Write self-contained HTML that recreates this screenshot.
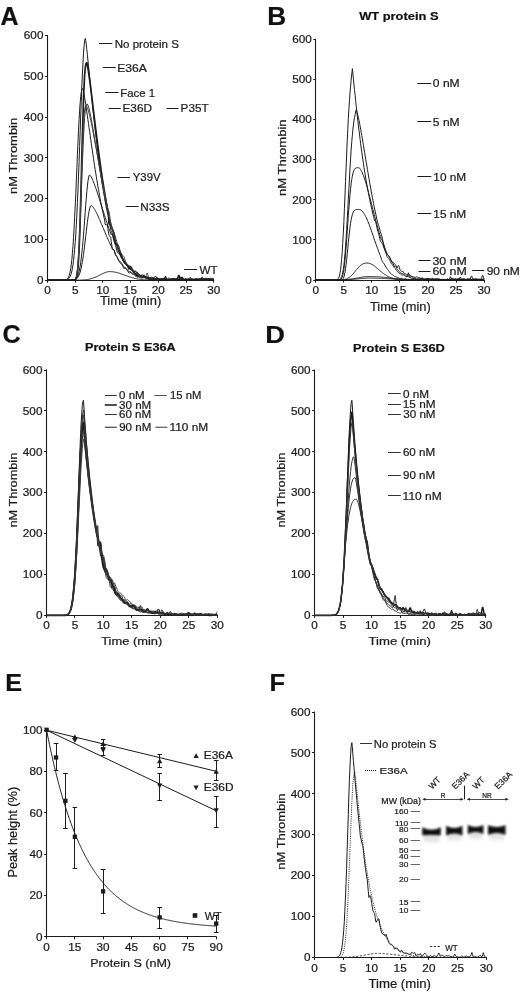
<!DOCTYPE html><html><head><meta charset="utf-8"><style>html,body{margin:0;padding:0;background:#fff;}svg{display:block;will-change:transform;}text{font-family:"Liberation Sans",sans-serif;stroke:#1c1c1c;stroke-width:0.22px;}</style></head><body>
<svg width="520" height="994" viewBox="0 0 520 994">
<rect width="520" height="994" fill="#fff"/>
<text transform="translate(0.62,25.00) scale(0.986,1)" font-size="25.36" font-weight="bold" fill="#111">A</text>
<text transform="translate(267.30,25.00) scale(1.034,1)" font-size="25.36" font-weight="bold" fill="#111">B</text>
<text transform="translate(2.49,343.25) scale(1.008,1)" font-size="25.00" font-weight="bold" fill="#111">C</text>
<text transform="translate(265.23,343.00) scale(1.122,1)" font-size="24.28" font-weight="bold" fill="#111">D</text>
<text transform="translate(5.36,691.25) scale(1.039,1)" font-size="24.28" font-weight="bold" fill="#111">E</text>
<text transform="translate(269.59,691.25) scale(1.050,1)" font-size="24.28" font-weight="bold" fill="#111">F</text>
<text transform="translate(359.20,20.40) scale(1.153,1)" font-size="11.16" font-weight="bold" fill="#111">WT protein S</text>
<text transform="translate(84.97,351.30) scale(1.152,1)" font-size="11.01" font-weight="bold" fill="#111">Protein S E36A</text>
<text transform="translate(353.07,351.90) scale(1.106,1)" font-size="11.59" font-weight="bold" fill="#111">Protein S E36D</text>
<line x1="47.50" y1="35.00" x2="47.50" y2="280.70" stroke="#1c1c1c" stroke-width="1.10"/>
<line x1="47.00" y1="280.50" x2="214.20" y2="280.50" stroke="#1c1c1c" stroke-width="1.10"/>
<line x1="45.00" y1="280.50" x2="47.50" y2="280.50" stroke="#1c1c1c" stroke-width="1.00"/>
<text transform="translate(36.89,283.90) scale(1.130,1)" font-size="10.40" fill="#1c1c1c">0</text>
<line x1="45.00" y1="239.50" x2="47.50" y2="239.50" stroke="#1c1c1c" stroke-width="1.00"/>
<text transform="translate(23.84,243.12) scale(1.130,1)" font-size="10.40" fill="#1c1c1c">100</text>
<line x1="45.00" y1="198.50" x2="47.50" y2="198.50" stroke="#1c1c1c" stroke-width="1.00"/>
<text transform="translate(23.84,202.33) scale(1.130,1)" font-size="10.40" fill="#1c1c1c">200</text>
<line x1="45.00" y1="157.50" x2="47.50" y2="157.50" stroke="#1c1c1c" stroke-width="1.00"/>
<text transform="translate(23.84,161.55) scale(1.130,1)" font-size="10.40" fill="#1c1c1c">300</text>
<line x1="45.00" y1="117.50" x2="47.50" y2="117.50" stroke="#1c1c1c" stroke-width="1.00"/>
<text transform="translate(23.84,120.77) scale(1.130,1)" font-size="10.40" fill="#1c1c1c">400</text>
<line x1="45.00" y1="76.50" x2="47.50" y2="76.50" stroke="#1c1c1c" stroke-width="1.00"/>
<text transform="translate(23.84,79.98) scale(1.130,1)" font-size="10.40" fill="#1c1c1c">500</text>
<line x1="45.00" y1="35.50" x2="47.50" y2="35.50" stroke="#1c1c1c" stroke-width="1.00"/>
<text transform="translate(23.84,39.20) scale(1.130,1)" font-size="10.40" fill="#1c1c1c">600</text>
<line x1="47.50" y1="280.20" x2="47.50" y2="282.70" stroke="#1c1c1c" stroke-width="1.00"/>
<text transform="translate(44.21,294.20) scale(1.130,1)" font-size="10.40" fill="#1c1c1c">0</text>
<line x1="75.50" y1="280.20" x2="75.50" y2="282.70" stroke="#1c1c1c" stroke-width="1.00"/>
<text transform="translate(71.94,294.20) scale(1.130,1)" font-size="10.40" fill="#1c1c1c">5</text>
<line x1="102.50" y1="280.20" x2="102.50" y2="282.70" stroke="#1c1c1c" stroke-width="1.00"/>
<text transform="translate(96.14,294.20) scale(1.130,1)" font-size="10.40" fill="#1c1c1c">10</text>
<line x1="130.50" y1="280.20" x2="130.50" y2="282.70" stroke="#1c1c1c" stroke-width="1.00"/>
<text transform="translate(123.87,294.20) scale(1.130,1)" font-size="10.40" fill="#1c1c1c">15</text>
<line x1="158.50" y1="280.20" x2="158.50" y2="282.70" stroke="#1c1c1c" stroke-width="1.00"/>
<text transform="translate(151.69,294.20) scale(1.130,1)" font-size="10.40" fill="#1c1c1c">20</text>
<line x1="186.50" y1="280.20" x2="186.50" y2="282.70" stroke="#1c1c1c" stroke-width="1.00"/>
<text transform="translate(179.42,294.20) scale(1.130,1)" font-size="10.40" fill="#1c1c1c">25</text>
<line x1="213.50" y1="280.20" x2="213.50" y2="282.70" stroke="#1c1c1c" stroke-width="1.00"/>
<text transform="translate(207.15,294.20) scale(1.130,1)" font-size="10.40" fill="#1c1c1c">30</text>
<text transform="translate(99.94,305.40) scale(1.090,1)" font-size="11.88" fill="#1c1c1c">Time (min)</text>
<text transform="translate(17.30,193.94) rotate(-90) scale(1.191,1)" font-size="10.90" fill="#1c1c1c">nM Thrombin</text>
<line x1="99.00" y1="43.50" x2="112.30" y2="43.50" stroke="#1c1c1c" stroke-width="1.00"/>
<text transform="translate(114.67,47.60) scale(1.023,1)" font-size="11.30" fill="#1c1c1c">No protein S</text>
<line x1="102.80" y1="67.50" x2="115.80" y2="67.50" stroke="#1c1c1c" stroke-width="1.00"/>
<text transform="translate(117.23,71.90) scale(1.074,1)" font-size="11.30" fill="#1c1c1c">E36A</text>
<line x1="105.40" y1="92.50" x2="118.50" y2="92.50" stroke="#1c1c1c" stroke-width="1.00"/>
<text transform="translate(120.19,97.30) scale(0.971,1)" font-size="11.74" fill="#1c1c1c">Face 1</text>
<line x1="108.80" y1="108.50" x2="120.80" y2="108.50" stroke="#1c1c1c" stroke-width="1.00"/>
<text transform="translate(122.45,112.30) scale(1.047,1)" font-size="11.30" fill="#1c1c1c">E36D</text>
<line x1="166.50" y1="108.50" x2="178.50" y2="108.50" stroke="#1c1c1c" stroke-width="1.00"/>
<text transform="translate(180.56,112.30) scale(1.043,1)" font-size="11.30" fill="#1c1c1c">P35T</text>
<line x1="117.40" y1="177.50" x2="130.00" y2="177.50" stroke="#1c1c1c" stroke-width="1.00"/>
<text transform="translate(132.72,181.20) scale(1.020,1)" font-size="11.16" fill="#1c1c1c">Y39V</text>
<line x1="125.70" y1="206.50" x2="138.50" y2="206.50" stroke="#1c1c1c" stroke-width="1.00"/>
<text transform="translate(140.26,210.80) scale(1.043,1)" font-size="11.30" fill="#1c1c1c">N33S</text>
<line x1="184.10" y1="269.50" x2="197.10" y2="269.50" stroke="#1c1c1c" stroke-width="1.00"/>
<text transform="translate(199.44,273.90) scale(0.991,1)" font-size="11.74" fill="#1c1c1c">WT</text>
<polyline points="47.5,280.2 48.1,280.2 48.6,280.2 49.2,280.2 49.7,280.2 50.3,280.2 50.8,280.2 51.4,280.2 51.9,280.2 52.5,280.2 53.0,280.2 53.6,280.2 54.1,280.2 54.7,280.2 55.3,280.2 55.8,280.2 56.4,280.2 56.9,280.2 57.5,280.2 58.0,280.2 58.6,280.2 59.1,280.2 59.7,280.2 60.2,280.2 60.8,280.2 61.4,280.2 61.9,280.2 62.5,280.2 63.0,280.2 63.6,280.2 64.1,280.1 64.7,280.1 65.2,280.0 65.8,280.0 66.3,279.8 66.9,279.7 67.4,279.4 68.0,279.1 68.6,278.7 69.1,278.1 69.7,277.3 70.2,276.3 70.8,274.9 71.3,273.2 71.9,271.0 72.4,268.2 73.0,264.8 73.5,260.6 74.1,255.5 74.6,249.5 75.2,242.5 75.8,234.3 76.3,224.9 76.9,214.4 77.4,202.7 78.0,189.9 78.5,176.2 79.1,161.7 79.6,146.6 80.2,131.3 80.7,116.0 81.3,101.1 81.8,87.0 82.4,74.1 83.0,62.7 83.5,53.2 84.1,45.9 84.6,40.9 85.2,38.6 85.4,38.4 85.7,40.3 86.3,44.7 86.8,49.6 87.4,54.7 87.9,60.1 88.5,65.5 89.0,71.0 89.6,76.6 90.2,82.1 90.7,87.6 91.3,93.1 91.8,98.5 92.4,103.9 92.9,109.1 93.5,114.4 94.0,119.5 94.6,124.5 95.1,129.5 95.7,134.3 96.3,139.1 96.8,143.7 97.4,148.3 97.9,152.7 98.5,157.0 99.0,161.3 99.6,165.4 100.1,169.4 100.7,173.3 101.2,177.1 101.8,180.8 102.3,184.4 102.9,187.9 103.5,191.3 104.0,194.6 104.6,197.8 105.1,201.0 105.7,204.0 106.2,206.9 106.8,209.7 107.3,212.5 107.9,214.0 108.4,216.3 109.0,218.5 109.5,222.5 110.1,226.2 110.7,229.8 111.2,231.2 111.8,232.7 112.3,234.1 112.9,236.5 113.4,238.8 114.0,241.0 114.5,242.6 115.1,244.1 115.6,245.5 116.2,247.9 116.8,250.1 117.3,252.2 117.9,252.8 118.4,253.4 119.0,254.0 119.5,254.2 120.1,254.4 120.6,254.7 121.2,256.1 121.7,257.5 122.3,258.9 122.8,260.1 123.4,261.3 124.0,262.6 124.5,263.3 125.1,264.0 125.6,264.6 126.2,265.2 126.7,265.8 127.3,266.3 127.8,266.0 128.4,265.6 128.9,265.2 129.5,266.5 130.0,267.8 130.6,269.1 131.2,269.8 131.7,270.5 132.3,271.1 132.8,271.6 133.4,272.1 133.9,272.6 134.5,273.0 135.0,273.3 135.6,273.6 136.1,273.8 136.7,273.9 137.2,274.1 137.8,274.6 138.4,275.2 138.9,275.8 139.5,276.0 140.0,276.2 140.6,276.3 141.1,276.1 141.7,275.9 142.2,275.7 142.8,276.2 143.3,276.7 143.9,277.2 144.4,277.3 145.0,277.4 145.6,277.4 146.1,277.5 146.7,277.5 147.2,277.6 147.8,277.7 148.3,277.7 148.9,277.8 149.4,278.1 150.0,278.3 150.5,278.6 151.1,278.4 151.7,278.1 152.2,277.9 152.8,277.9 153.3,278.0 153.9,278.0 154.4,277.3 155.0,276.6 155.5,275.9 156.1,277.0 156.6,278.0 157.2,279.0 157.7,279.2 158.3,279.4 158.9,279.7 159.4,279.3 160.0,278.9 160.5,278.5 161.1,278.9 161.6,279.3 162.2,279.6 162.7,279.6 163.3,279.6 163.8,279.6 164.4,278.4 164.9,277.2 165.5,276.0 166.1,277.1 166.6,278.3 167.2,279.4 167.7,279.4 168.3,279.5 168.8,279.5 169.4,279.7 169.9,279.8 170.5,280.0 171.0,279.7 171.6,279.4 172.1,279.0 172.7,279.1 173.3,279.1 173.8,279.2 174.4,279.3 174.9,279.4 175.5,279.5 176.0,279.6 176.6,279.8 177.1,279.9 177.7,279.7 178.2,279.5 178.8,279.3 179.4,279.4 179.9,279.4 180.5,279.5 181.0,279.4 181.6,279.3 182.1,279.3 182.7,279.4 183.2,279.6 183.8,279.7 184.3,279.6 184.9,279.5 185.4,279.4 186.0,279.4 186.6,279.3 187.1,279.3 187.7,279.4 188.2,279.6 188.8,279.7 189.3,279.7 189.9,279.7 190.4,279.7 191.0,279.3 191.5,279.0 192.1,278.6 192.6,279.1 193.2,279.5 193.8,280.0 194.3,279.8 194.9,279.6 195.4,279.4 196.0,279.5 196.5,279.5 197.1,279.6 197.6,279.5 198.2,279.4 198.7,279.3 199.3,279.4 199.8,279.4 200.4,279.4 201.0,279.6 201.5,279.8 202.1,280.0 202.6,280.1 203.2,280.1 203.7,280.2 204.3,280.1 204.8,279.9 205.4,279.8 205.9,279.7 206.5,279.5 207.1,279.4 207.6,279.4 208.2,279.5 208.7,279.5 209.3,279.6 209.8,279.7 210.4,279.8 210.9,279.9 211.5,280.0 212.0,280.1 212.6,279.7 213.1,279.4 213.7,279.1" fill="none" stroke="#1c1c1c" stroke-width="1.00" stroke-linejoin="round"/>
<polyline points="47.5,280.2 48.1,280.2 48.6,280.2 49.2,280.2 49.7,280.2 50.3,280.2 50.8,280.2 51.4,280.2 51.9,280.2 52.5,280.2 53.0,280.2 53.6,280.2 54.1,280.2 54.7,280.2 55.3,280.2 55.8,280.2 56.4,280.2 56.9,280.2 57.5,280.2 58.0,280.2 58.6,280.2 59.1,280.2 59.7,280.2 60.2,280.2 60.8,280.2 61.4,280.2 61.9,280.2 62.5,280.2 63.0,280.2 63.6,280.2 64.1,280.2 64.7,280.2 65.2,280.2 65.8,280.2 66.3,280.2 66.9,280.2 67.4,280.2 68.0,280.2 68.6,280.2 69.1,280.2 69.7,280.2 70.2,280.2 70.8,280.2 71.3,280.2 71.9,280.2 72.4,280.2 73.0,280.2 73.5,280.2 74.1,280.1 74.6,280.0 75.2,279.7 75.8,279.2 76.3,278.1 76.9,276.1 77.4,272.8 78.0,267.7 78.5,260.1 79.1,249.7 79.6,236.2 80.2,219.5 80.7,200.2 81.3,179.1 81.8,157.3 82.4,135.9 83.0,116.3 83.5,99.2 84.1,85.5 84.6,75.3 85.2,68.5 85.7,64.7 86.3,63.1 86.8,62.8 87.4,65.0 87.9,68.0 88.5,71.6 89.0,75.4 89.6,79.5 90.2,83.7 90.7,88.1 91.3,92.5 91.8,97.1 92.4,101.6 92.9,106.2 93.5,110.8 94.0,115.4 94.6,120.0 95.1,124.5 95.7,129.0 96.3,133.5 96.8,137.9 97.4,142.3 97.9,146.6 98.5,150.8 99.0,155.0 99.6,159.1 100.1,163.1 100.7,167.0 101.2,170.9 101.8,174.7 102.3,178.4 102.9,182.0 103.5,185.5 104.0,188.9 104.6,192.3 105.1,195.5 105.7,198.7 106.2,201.8 106.8,204.8 107.3,207.7 107.9,210.5 108.4,213.3 109.0,223.6 109.5,224.0 110.1,224.6 110.7,225.2 111.2,226.5 111.8,227.8 112.3,229.1 112.9,230.3 113.4,231.6 114.0,233.0 114.5,236.9 115.1,240.6 115.6,244.1 116.2,244.1 116.8,244.2 117.3,244.3 117.9,246.1 118.4,247.8 119.0,249.4 119.5,251.6 120.1,253.7 120.6,255.6 121.2,256.6 121.7,257.5 122.3,258.4 122.8,259.5 123.4,260.5 124.0,261.4 124.5,262.0 125.1,262.6 125.6,263.1 126.2,263.7 126.7,264.3 127.3,264.8 127.8,266.2 128.4,267.6 128.9,268.9 129.5,268.2 130.0,267.5 130.6,266.7 131.2,267.6 131.7,268.5 132.3,269.3 132.8,270.1 133.4,271.0 133.9,271.9 134.5,272.7 135.0,273.4 135.6,274.1 136.1,274.7 136.7,275.2 137.2,275.7 137.8,275.8 138.4,276.0 138.9,276.1 139.5,276.0 140.0,275.9 140.6,275.9 141.1,276.2 141.7,276.6 142.2,276.9 142.8,277.0 143.3,277.2 143.9,277.3 144.4,277.3 145.0,277.4 145.6,277.4 146.1,277.4 146.7,277.5 147.2,277.5 147.8,277.7 148.3,277.8 148.9,278.0 149.4,278.4 150.0,278.8 150.5,279.2 151.1,279.2 151.7,279.2 152.2,279.2 152.8,278.9 153.3,278.6 153.9,278.4 154.4,278.7 155.0,279.1 155.5,279.5 156.1,279.1 156.6,278.7 157.2,278.3 157.7,278.6 158.3,278.8 158.9,279.1 159.4,279.3 160.0,279.6 160.5,279.8 161.1,279.7 161.6,279.6 162.2,279.5 162.7,279.5 163.3,279.4 163.8,279.4 164.4,279.1 164.9,278.9 165.5,278.6 166.1,278.9 166.6,279.2 167.2,279.5 167.7,279.6 168.3,279.8 168.8,279.9 169.4,279.7 169.9,279.5 170.5,279.2 171.0,279.3 171.6,279.4 172.1,279.5 172.7,279.5 173.3,279.5 173.8,279.5 174.4,279.4 174.9,279.2 175.5,279.1 176.0,279.2 176.6,279.4 177.1,279.5 177.7,278.1 178.2,276.7 178.8,275.4 179.4,276.5 179.9,277.7 180.5,278.8 181.0,278.4 181.6,278.0 182.1,277.5 182.7,278.4 183.2,279.2 183.8,280.0 184.3,280.1 184.9,280.1 185.4,280.2 186.0,279.9 186.6,279.7 187.1,279.5 187.7,279.4 188.2,279.4 188.8,279.3 189.3,279.5 189.9,279.7 190.4,280.0 191.0,280.0 191.5,280.1 192.1,280.1 192.6,280.1 193.2,280.1 193.8,280.1 194.3,279.9 194.9,279.6 195.4,279.4 196.0,279.3 196.5,279.2 197.1,279.1 197.6,279.3 198.2,279.5 198.7,279.7 199.3,279.4 199.8,279.2 200.4,278.9 201.0,278.9 201.5,279.0 202.1,279.0 202.6,279.1 203.2,279.2 203.7,279.4 204.3,279.4 204.8,279.5 205.4,279.6 205.9,279.7 206.5,279.8 207.1,279.8 207.6,279.8 208.2,279.7 208.7,279.7 209.3,279.7 209.8,279.7 210.4,279.8 210.9,279.5 211.5,279.3 212.0,279.1 212.6,279.2 213.1,279.3 213.7,279.4" fill="none" stroke="#1c1c1c" stroke-width="1.70" stroke-linejoin="round"/>
<polyline points="47.5,280.2 48.1,280.2 48.6,280.2 49.2,280.2 49.7,280.2 50.3,280.2 50.8,280.2 51.4,280.2 51.9,280.2 52.5,280.2 53.0,280.2 53.6,280.2 54.1,280.2 54.7,280.2 55.3,280.2 55.8,280.2 56.4,280.2 56.9,280.2 57.5,280.2 58.0,280.2 58.6,280.2 59.1,280.2 59.7,280.2 60.2,280.2 60.8,280.2 61.4,280.2 61.9,280.2 62.5,280.2 63.0,280.2 63.6,280.1 64.1,280.1 64.7,280.1 65.2,280.0 65.8,279.8 66.3,279.6 66.9,279.2 67.4,278.7 68.0,278.0 68.6,277.0 69.1,275.7 69.7,273.8 70.2,271.4 70.8,268.2 71.3,264.2 71.9,259.3 72.4,253.3 73.0,246.1 73.5,237.8 74.1,228.3 74.6,217.7 75.2,206.1 75.8,193.8 76.3,180.9 76.9,167.8 77.4,154.7 78.0,142.1 78.5,130.3 79.1,119.6 79.6,110.3 80.2,102.5 80.7,96.5 81.3,92.2 81.8,89.7 82.4,88.6 82.7,88.5 83.0,89.3 83.5,91.6 84.1,94.4 84.6,97.6 85.2,100.9 85.7,104.5 86.3,108.2 86.8,111.9 87.4,115.8 87.9,119.7 88.5,123.6 89.0,127.5 89.6,131.5 90.2,135.4 90.7,139.3 91.3,143.2 91.8,147.1 92.4,150.9 92.9,154.7 93.5,158.5 94.0,162.2 94.6,165.8 95.1,169.4 95.7,172.9 96.3,176.4 96.8,179.8 97.4,183.1 97.9,186.3 98.5,189.5 99.0,192.6 99.6,195.7 100.1,198.7 100.7,201.6 101.2,204.4 101.8,207.2 102.3,209.8 102.9,212.5 103.5,215.0 104.0,217.5 104.6,219.9 105.1,223.8 105.7,225.0 106.2,224.8 106.8,224.8 107.3,224.9 107.9,228.5 108.4,231.9 109.0,235.1 109.5,235.8 110.1,236.6 110.7,237.3 111.2,241.5 111.8,245.4 112.3,249.0 112.9,249.2 113.4,249.5 114.0,249.8 114.5,251.7 115.1,253.5 115.6,255.3 116.2,256.0 116.8,256.7 117.3,257.4 117.9,258.6 118.4,259.6 119.0,260.7 119.5,261.7 120.1,262.7 120.6,263.6 121.2,264.0 121.7,264.5 122.3,264.9 122.8,266.2 123.4,267.5 124.0,268.7 124.5,268.6 125.1,268.6 125.6,268.5 126.2,269.1 126.7,269.7 127.3,270.2 127.8,271.2 128.4,272.1 128.9,273.0 129.5,272.9 130.0,272.8 130.6,272.6 131.2,273.1 131.7,273.6 132.3,274.1 132.8,274.3 133.4,274.5 133.9,274.7 134.5,275.2 135.0,275.7 135.6,276.2 136.1,276.5 136.7,276.8 137.2,277.0 137.8,277.0 138.4,277.0 138.9,276.9 139.5,277.2 140.0,277.5 140.6,277.8 141.1,277.9 141.7,278.0 142.2,278.1 142.8,277.0 143.3,275.9 143.9,274.8 144.4,276.0 145.0,277.3 145.6,278.5 146.1,278.6 146.7,278.8 147.2,278.9 147.8,279.0 148.3,279.2 148.9,279.3 149.4,279.4 150.0,279.4 150.5,279.5 151.1,279.4 151.7,279.3 152.2,279.3 152.8,279.4 153.3,279.5 153.9,279.6 154.4,279.3 155.0,278.9 155.5,278.6 156.1,278.4 156.6,278.3 157.2,278.2 157.7,278.8 158.3,279.3 158.9,279.8 159.4,279.6 160.0,279.3 160.5,279.0 161.1,279.0 161.6,279.0 162.2,279.0 162.7,279.1 163.3,279.1 163.8,279.2 164.4,279.3 164.9,279.3 165.5,279.3 166.1,279.4 166.6,279.6 167.2,279.7 167.7,279.9 168.3,280.0 168.8,280.2 169.4,280.0 169.9,279.8 170.5,279.7 171.0,279.4 171.6,279.1 172.1,278.8 172.7,279.2 173.3,279.6 173.8,280.0 174.4,279.8 174.9,279.7 175.5,279.5 176.0,279.4 176.6,279.3 177.1,279.1 177.7,279.2 178.2,279.4 178.8,279.5 179.4,279.3 179.9,279.1 180.5,278.9 181.0,279.3 181.6,279.6 182.1,280.0 182.7,280.0 183.2,279.9 183.8,279.9 184.3,279.6 184.9,279.3 185.4,279.0 186.0,279.4 186.6,279.8 187.1,280.1 187.7,279.8 188.2,279.4 188.8,279.1 189.3,279.4 189.9,279.7 190.4,280.1 191.0,279.9 191.5,279.8 192.1,279.7 192.6,279.8 193.2,279.9 193.8,280.0 194.3,280.0 194.9,279.9 195.4,279.9 196.0,279.9 196.5,279.9 197.1,279.9 197.6,279.7 198.2,279.5 198.7,279.2 199.3,279.3 199.8,279.3 200.4,279.3 201.0,279.4 201.5,279.4 202.1,279.5 202.6,279.5 203.2,279.5 203.7,279.5 204.3,279.7 204.8,279.9 205.4,280.0 205.9,279.5 206.5,279.0 207.1,278.4 207.6,278.6 208.2,278.7 208.7,278.9 209.3,279.0 209.8,279.1 210.4,279.2 210.9,279.4 211.5,279.7 212.0,279.9 212.6,279.9 213.1,279.9 213.7,279.9" fill="none" stroke="#1c1c1c" stroke-width="1.00" stroke-linejoin="round"/>
<polyline points="47.5,280.2 48.1,280.2 48.6,280.2 49.2,280.2 49.7,280.2 50.3,280.2 50.8,280.2 51.4,280.2 51.9,280.2 52.5,280.2 53.0,280.2 53.6,280.2 54.1,280.2 54.7,280.2 55.3,280.2 55.8,280.2 56.4,280.2 56.9,280.2 57.5,280.2 58.0,280.2 58.6,280.2 59.1,280.2 59.7,280.2 60.2,280.2 60.8,280.2 61.4,280.2 61.9,280.2 62.5,280.2 63.0,280.2 63.6,280.2 64.1,280.2 64.7,280.2 65.2,280.2 65.8,280.2 66.3,280.2 66.9,280.2 67.4,280.2 68.0,280.2 68.6,280.2 69.1,280.2 69.7,280.2 70.2,280.2 70.8,280.2 71.3,280.2 71.9,280.2 72.4,280.2 73.0,280.1 73.5,280.1 74.1,279.9 74.6,279.6 75.2,279.0 75.8,278.0 76.3,276.3 76.9,273.7 77.4,269.9 78.0,264.5 78.5,257.3 79.1,248.1 79.6,237.0 80.2,223.9 80.7,209.4 81.3,194.0 81.8,178.3 82.4,163.0 83.0,148.8 83.5,136.2 84.1,125.6 84.6,117.3 85.2,111.3 85.7,107.3 86.3,105.1 86.8,104.2 87.4,104.0 87.9,105.1 88.5,106.7 89.0,108.8 89.6,111.1 90.2,113.7 90.7,116.4 91.3,119.3 91.8,122.2 92.4,125.3 92.9,128.4 93.5,131.7 94.0,134.9 94.6,138.2 95.1,141.5 95.7,144.9 96.3,148.3 96.8,151.6 97.4,155.0 97.9,158.3 98.5,161.7 99.0,165.0 99.6,168.3 100.1,171.5 100.7,174.7 101.2,177.9 101.8,181.0 102.3,184.1 102.9,187.2 103.5,190.2 104.0,193.1 104.6,196.0 105.1,198.9 105.7,201.7 106.2,204.4 106.8,207.0 107.3,209.7 107.9,212.2 108.4,214.7 109.0,217.1 109.5,219.1 110.1,221.2 110.7,223.3 111.2,225.5 111.8,227.6 112.3,229.7 112.9,232.5 113.4,235.3 114.0,237.9 114.5,239.5 115.1,241.1 115.6,242.6 116.2,243.5 116.8,244.3 117.3,245.2 117.9,246.3 118.4,247.3 119.0,248.3 119.5,249.8 120.1,251.4 120.6,252.9 121.2,254.4 121.7,255.9 122.3,257.2 122.8,258.3 123.4,259.3 124.0,260.3 124.5,261.1 125.1,262.0 125.6,262.8 126.2,264.0 126.7,265.2 127.3,266.2 127.8,266.7 128.4,267.2 128.9,267.6 129.5,268.4 130.0,269.0 130.6,269.7 131.2,269.8 131.7,269.9 132.3,269.9 132.8,270.6 133.4,271.3 133.9,271.9 134.5,272.7 135.0,273.5 135.6,274.2 136.1,273.6 136.7,273.0 137.2,272.3 137.8,273.5 138.4,274.6 138.9,275.8 139.5,275.9 140.0,276.0 140.6,276.1 141.1,276.3 141.7,276.6 142.2,276.8 142.8,276.9 143.3,276.9 143.9,276.9 144.4,277.0 145.0,277.1 145.6,277.2 146.1,277.4 146.7,277.6 147.2,277.8 147.8,277.9 148.3,278.0 148.9,278.2 149.4,278.3 150.0,278.4 150.5,278.5 151.1,278.7 151.7,279.0 152.2,279.3 152.8,278.9 153.3,278.5 153.9,278.1 154.4,278.5 155.0,279.0 155.5,279.4 156.1,279.4 156.6,279.4 157.2,279.5 157.7,279.4 158.3,279.3 158.9,279.2 159.4,279.4 160.0,279.7 160.5,279.9 161.1,279.6 161.6,279.3 162.2,279.0 162.7,278.7 163.3,278.4 163.8,278.1 164.4,278.8 164.9,279.4 165.5,280.0 166.1,280.0 166.6,280.1 167.2,280.1 167.7,279.3 168.3,278.5 168.8,277.7 169.4,278.3 169.9,278.9 170.5,279.5 171.0,279.4 171.6,279.3 172.1,279.3 172.7,279.3 173.3,279.4 173.8,279.4 174.4,279.6 174.9,279.8 175.5,280.0 176.0,280.0 176.6,280.0 177.1,280.0 177.7,279.8 178.2,279.7 178.8,279.5 179.4,279.2 179.9,278.8 180.5,278.5 181.0,279.1 181.6,279.6 182.1,280.2 182.7,280.1 183.2,280.1 183.8,280.0 184.3,279.7 184.9,279.4 185.4,279.1 186.0,279.2 186.6,279.2 187.1,279.2 187.7,279.5 188.2,279.8 188.8,280.1 189.3,279.1 189.9,278.1 190.4,277.1 191.0,278.1 191.5,279.1 192.1,280.1 192.6,279.7 193.2,279.3 193.8,278.9 194.3,278.9 194.9,278.9 195.4,278.9 196.0,278.8 196.5,278.6 197.1,278.4 197.6,278.8 198.2,279.2 198.7,279.5 199.3,279.6 199.8,279.6 200.4,279.6 201.0,279.5 201.5,279.4 202.1,279.2 202.6,279.2 203.2,279.1 203.7,279.0 204.3,278.9 204.8,278.8 205.4,278.7 205.9,278.8 206.5,278.9 207.1,279.0 207.6,279.1 208.2,279.2 208.7,279.4 209.3,279.0 209.8,278.5 210.4,278.1 210.9,278.5 211.5,278.9 212.0,279.3 212.6,279.5 213.1,279.7 213.7,279.9" fill="none" stroke="#333" stroke-width="1.00" stroke-linejoin="round"/>
<polyline points="47.5,280.2 48.1,280.2 48.6,280.2 49.2,280.2 49.7,280.2 50.3,280.2 50.8,280.2 51.4,280.2 51.9,280.2 52.5,280.2 53.0,280.2 53.6,280.2 54.1,280.2 54.7,280.2 55.3,280.2 55.8,280.2 56.4,280.2 56.9,280.2 57.5,280.2 58.0,280.2 58.6,280.2 59.1,280.2 59.7,280.2 60.2,280.2 60.8,280.2 61.4,280.2 61.9,280.2 62.5,280.2 63.0,280.2 63.6,280.2 64.1,280.2 64.7,280.2 65.2,280.2 65.8,280.2 66.3,280.2 66.9,280.2 67.4,280.2 68.0,280.2 68.6,280.2 69.1,280.2 69.7,280.2 70.2,280.2 70.8,280.2 71.3,280.2 71.9,280.2 72.4,280.2 73.0,280.2 73.5,280.1 74.1,280.0 74.6,279.8 75.2,279.4 75.8,278.5 76.3,276.9 76.9,274.3 77.4,270.2 78.0,264.1 78.5,255.7 79.1,244.8 79.6,231.5 80.2,216.0 80.7,199.0 81.3,181.5 81.8,164.4 82.4,148.6 83.0,134.9 83.5,123.8 84.1,115.6 84.6,110.2 85.2,107.1 85.7,105.9 86.3,105.6 86.8,106.4 87.4,107.7 87.9,109.3 88.5,111.1 89.0,113.2 89.6,115.4 90.2,117.8 90.7,120.3 91.3,122.9 91.8,125.6 92.4,128.3 92.9,131.1 93.5,134.0 94.0,137.0 94.6,139.9 95.1,142.9 95.7,146.0 96.3,149.0 96.8,152.1 97.4,155.1 97.9,158.2 98.5,161.2 99.0,164.3 99.6,167.3 100.1,170.3 100.7,173.3 101.2,176.2 101.8,179.2 102.3,182.1 102.9,184.9 103.5,187.8 104.0,190.6 104.6,193.3 105.1,196.0 105.7,198.7 106.2,201.3 106.8,203.9 107.3,206.4 107.9,208.9 108.4,211.0 109.0,211.2 109.5,214.9 110.1,218.5 110.7,221.8 111.2,224.1 111.8,226.4 112.3,228.5 112.9,230.3 113.4,231.9 114.0,233.6 114.5,234.7 115.1,235.9 115.6,237.1 116.2,239.5 116.8,241.8 117.3,243.9 117.9,244.8 118.4,245.6 119.0,246.5 119.5,248.6 120.1,250.6 120.6,252.6 121.2,253.3 121.7,254.0 122.3,254.7 122.8,255.4 123.4,256.0 124.0,256.7 124.5,258.5 125.1,260.2 125.6,261.9 126.2,262.7 126.7,263.6 127.3,264.4 127.8,265.2 128.4,265.9 128.9,266.6 129.5,267.0 130.0,267.3 130.6,267.7 131.2,268.2 131.7,268.7 132.3,269.2 132.8,270.1 133.4,270.9 133.9,271.8 134.5,271.6 135.0,271.4 135.6,271.2 136.1,271.6 136.7,272.0 137.2,272.4 137.8,273.3 138.4,274.1 138.9,274.9 139.5,275.2 140.0,275.5 140.6,275.7 141.1,276.1 141.7,276.4 142.2,276.7 142.8,276.9 143.3,277.1 143.9,277.3 144.4,277.1 145.0,277.0 145.6,276.9 146.1,275.6 146.7,274.3 147.2,273.0 147.8,274.7 148.3,276.4 148.9,278.2 149.4,278.0 150.0,277.8 150.5,277.6 151.1,277.8 151.7,278.1 152.2,278.4 152.8,278.6 153.3,278.7 153.9,278.9 154.4,279.0 155.0,279.0 155.5,279.1 156.1,278.7 156.6,278.4 157.2,278.0 157.7,278.5 158.3,279.0 158.9,279.5 159.4,279.2 160.0,278.8 160.5,278.5 161.1,278.6 161.6,278.8 162.2,279.0 162.7,279.3 163.3,279.6 163.8,279.9 164.4,279.7 164.9,279.4 165.5,279.2 166.1,279.3 166.6,279.5 167.2,279.6 167.7,279.8 168.3,279.9 168.8,280.0 169.4,279.6 169.9,279.1 170.5,278.6 171.0,278.7 171.6,278.8 172.1,278.8 172.7,279.0 173.3,279.1 173.8,279.2 174.4,279.5 174.9,279.7 175.5,279.9 176.0,280.0 176.6,280.0 177.1,280.0 177.7,280.0 178.2,279.9 178.8,279.9 179.4,279.5 179.9,279.1 180.5,278.7 181.0,278.6 181.6,278.6 182.1,278.5 182.7,278.9 183.2,279.2 183.8,279.6 184.3,279.7 184.9,279.7 185.4,279.7 186.0,279.7 186.6,279.7 187.1,279.7 187.7,279.7 188.2,279.7 188.8,279.8 189.3,279.4 189.9,279.0 190.4,278.7 191.0,279.2 191.5,279.6 192.1,280.1 192.6,280.0 193.2,279.9 193.8,279.8 194.3,279.7 194.9,279.6 195.4,279.6 196.0,279.4 196.5,279.2 197.1,279.0 197.6,279.0 198.2,279.1 198.7,279.2 199.3,279.2 199.8,279.2 200.4,279.2 201.0,279.5 201.5,279.8 202.1,280.1 202.6,280.0 203.2,279.9 203.7,279.8 204.3,279.9 204.8,280.0 205.4,280.1 205.9,280.1 206.5,280.1 207.1,280.1 207.6,279.7 208.2,279.4 208.7,279.0 209.3,279.3 209.8,279.7 210.4,280.0 210.9,279.8 211.5,279.6 212.0,279.5 212.6,279.5 213.1,279.6 213.7,279.7" fill="none" stroke="#444" stroke-width="1.00" stroke-linejoin="round"/>
<polyline points="47.5,280.2 48.1,280.2 48.6,280.2 49.2,280.2 49.7,280.2 50.3,280.2 50.8,280.2 51.4,280.2 51.9,280.2 52.5,280.2 53.0,280.2 53.6,280.2 54.1,280.2 54.7,280.2 55.3,280.2 55.8,280.2 56.4,280.2 56.9,280.2 57.5,280.2 58.0,280.2 58.6,280.2 59.1,280.2 59.7,280.2 60.2,280.2 60.8,280.2 61.4,280.2 61.9,280.2 62.5,280.2 63.0,280.2 63.6,280.2 64.1,280.2 64.7,280.2 65.2,280.2 65.8,280.2 66.3,280.2 66.9,280.2 67.4,280.2 68.0,280.2 68.6,280.2 69.1,280.2 69.7,280.2 70.2,280.2 70.8,280.2 71.3,280.1 71.9,280.1 72.4,280.1 73.0,280.0 73.5,279.9 74.1,279.7 74.6,279.5 75.2,279.2 75.8,278.8 76.3,278.3 76.9,277.5 77.4,276.5 78.0,275.3 78.5,273.7 79.1,271.6 79.6,269.1 80.2,266.1 80.7,262.4 81.3,258.1 81.8,253.2 82.4,247.7 83.0,241.5 83.5,234.8 84.1,227.7 84.6,220.2 85.2,212.7 85.7,205.3 86.3,198.3 86.8,191.7 87.4,186.0 87.9,181.4 88.5,177.9 89.0,175.7 89.6,175.0 90.2,175.4 90.7,176.1 91.3,177.0 91.8,178.1 92.4,179.2 92.9,180.5 93.5,181.8 94.0,183.3 94.6,184.7 95.1,186.3 95.7,187.8 96.3,189.4 96.8,191.1 97.4,192.8 97.9,194.5 98.5,196.2 99.0,197.9 99.6,199.7 100.1,201.4 100.7,203.2 101.2,205.0 101.8,206.7 102.3,208.5 102.9,210.2 103.5,212.0 104.0,213.7 104.6,215.5 105.1,217.2 105.7,218.9 106.2,220.6 106.8,222.2 107.3,223.9 107.9,225.5 108.4,227.1 109.0,228.7 109.5,230.2 110.1,231.8 110.7,233.3 111.2,234.8 111.8,234.3 112.3,233.9 112.9,235.8 113.4,237.6 114.0,239.3 114.5,240.3 115.1,241.3 115.6,242.3 116.2,244.4 116.8,246.3 117.3,248.2 117.9,249.8 118.4,251.3 119.0,252.7 119.5,252.7 120.1,252.6 120.6,252.5 121.2,253.9 121.7,255.3 122.3,256.8 122.8,258.5 123.4,260.2 124.0,261.7 124.5,262.5 125.1,263.3 125.6,264.1 126.2,264.5 126.7,264.8 127.3,265.2 127.8,265.7 128.4,266.3 128.9,266.8 129.5,267.8 130.0,268.8 130.6,269.7 131.2,269.9 131.7,270.1 132.3,270.3 132.8,270.6 133.4,270.9 133.9,271.2 134.5,271.2 135.0,271.3 135.6,271.3 136.1,272.1 136.7,272.7 137.2,273.2 137.8,273.4 138.4,273.6 138.9,273.8 139.5,274.3 140.0,274.9 140.6,275.4 141.1,275.2 141.7,275.0 142.2,274.8 142.8,275.1 143.3,275.5 143.9,275.8 144.4,276.1 145.0,276.4 145.6,276.7 146.1,276.9 146.7,277.0 147.2,277.1 147.8,277.2 148.3,277.3 148.9,277.4 149.4,277.6 150.0,277.8 150.5,278.0 151.1,277.6 151.7,277.2 152.2,276.9 152.8,277.6 153.3,278.3 153.9,279.0 154.4,279.0 155.0,279.0 155.5,279.0 156.1,278.7 156.6,278.5 157.2,278.3 157.7,278.4 158.3,278.6 158.9,278.7 159.4,279.0 160.0,279.3 160.5,279.6 161.1,279.3 161.6,279.1 162.2,278.8 162.7,278.8 163.3,278.8 163.8,278.8 164.4,278.4 164.9,278.0 165.5,277.6 166.1,278.2 166.6,278.8 167.2,279.4 167.7,279.6 168.3,279.8 168.8,280.0 169.4,279.9 169.9,279.8 170.5,279.6 171.0,279.6 171.6,279.5 172.1,279.5 172.7,279.3 173.3,279.1 173.8,278.8 174.4,278.9 174.9,279.0 175.5,279.1 176.0,278.9 176.6,278.6 177.1,278.4 177.7,278.8 178.2,279.3 178.8,279.8 179.4,279.0 179.9,278.2 180.5,277.4 181.0,278.2 181.6,279.1 182.1,279.9 182.7,279.6 183.2,279.3 183.8,279.0 184.3,279.0 184.9,279.0 185.4,279.0 186.0,279.1 186.6,279.3 187.1,279.5 187.7,279.6 188.2,279.7 188.8,279.8 189.3,279.6 189.9,279.4 190.4,279.2 191.0,279.4 191.5,279.6 192.1,279.8 192.6,279.8 193.2,279.9 193.8,280.0 194.3,279.9 194.9,279.8 195.4,279.7 196.0,279.8 196.5,280.0 197.1,280.2 197.6,280.1 198.2,280.0 198.7,279.9 199.3,279.9 199.8,279.8 200.4,279.7 201.0,279.5 201.5,279.2 202.1,279.0 202.6,278.9 203.2,278.8 203.7,278.7 204.3,279.1 204.8,279.5 205.4,279.9 205.9,279.5 206.5,279.1 207.1,278.7 207.6,279.0 208.2,279.3 208.7,279.7 209.3,279.5 209.8,279.3 210.4,279.2 210.9,279.2 211.5,279.3 212.0,279.4 212.6,279.6 213.1,279.9 213.7,280.1" fill="none" stroke="#1c1c1c" stroke-width="1.00" stroke-linejoin="round"/>
<polyline points="47.5,280.2 48.1,280.2 48.6,280.2 49.2,280.2 49.7,280.2 50.3,280.2 50.8,280.2 51.4,280.2 51.9,280.2 52.5,280.2 53.0,280.2 53.6,280.2 54.1,280.2 54.7,280.2 55.3,280.2 55.8,280.2 56.4,280.2 56.9,280.2 57.5,280.2 58.0,280.2 58.6,280.2 59.1,280.2 59.7,280.2 60.2,280.2 60.8,280.2 61.4,280.2 61.9,280.2 62.5,280.2 63.0,280.2 63.6,280.2 64.1,280.2 64.7,280.2 65.2,280.2 65.8,280.2 66.3,280.2 66.9,280.2 67.4,280.2 68.0,280.2 68.6,280.2 69.1,280.2 69.7,280.2 70.2,280.2 70.8,280.2 71.3,280.2 71.9,280.1 72.4,280.1 73.0,280.0 73.5,280.0 74.1,279.9 74.6,279.7 75.2,279.5 75.8,279.3 76.3,278.9 76.9,278.5 77.4,277.9 78.0,277.2 78.5,276.2 79.1,275.1 79.6,273.7 80.2,272.0 80.7,269.9 81.3,267.6 81.8,264.8 82.4,261.7 83.0,258.2 83.5,254.4 84.1,250.2 84.6,245.8 85.2,241.1 85.7,236.4 86.3,231.6 86.8,226.9 87.4,222.4 87.9,218.3 88.5,214.6 89.0,211.4 89.6,208.9 90.2,207.0 90.7,205.9 91.3,205.6 91.8,205.8 92.4,206.3 92.9,206.9 93.5,207.7 94.0,208.5 94.6,209.4 95.1,210.3 95.7,211.3 96.3,212.4 96.8,213.5 97.4,214.7 97.9,215.8 98.5,217.1 99.0,218.3 99.6,219.6 100.1,220.8 100.7,222.1 101.2,223.4 101.8,224.7 102.3,226.1 102.9,227.4 103.5,228.7 104.0,230.0 104.6,231.3 105.1,232.6 105.7,233.9 106.2,235.2 106.8,236.5 107.3,237.8 107.9,239.0 108.4,240.3 109.0,241.5 109.5,242.7 110.1,243.9 110.7,245.1 111.2,246.2 111.8,247.4 112.3,248.5 112.9,249.6 113.4,249.4 114.0,250.1 114.5,251.6 115.1,253.0 115.6,254.3 116.2,255.4 116.8,256.4 117.3,257.4 117.9,258.8 118.4,260.1 119.0,261.3 119.5,261.4 120.1,261.5 120.6,261.7 121.2,262.5 121.7,263.3 122.3,264.1 122.8,265.2 123.4,266.2 124.0,267.2 124.5,267.3 125.1,267.5 125.6,267.6 126.2,268.5 126.7,269.2 127.3,270.0 127.8,270.4 128.4,270.9 128.9,271.3 129.5,271.5 130.0,271.6 130.6,271.8 131.2,272.2 131.7,272.6 132.3,272.9 132.8,273.1 133.4,273.3 133.9,273.4 134.5,274.0 135.0,274.7 135.6,275.3 136.1,275.4 136.7,275.5 137.2,275.6 137.8,276.0 138.4,276.4 138.9,276.8 139.5,276.8 140.0,276.8 140.6,276.8 141.1,277.2 141.7,277.7 142.2,278.1 142.8,277.5 143.3,276.9 143.9,276.2 144.4,276.5 145.0,276.7 145.6,277.0 146.1,277.5 146.7,278.0 147.2,278.6 147.8,278.8 148.3,279.0 148.9,279.2 149.4,279.2 150.0,279.2 150.5,279.3 151.1,279.3 151.7,279.3 152.2,279.3 152.8,279.3 153.3,279.2 153.9,279.1 154.4,279.3 155.0,279.4 155.5,279.5 156.1,279.6 156.6,279.7 157.2,279.9 157.7,279.7 158.3,279.6 158.9,279.5 159.4,279.5 160.0,279.5 160.5,279.5 161.1,279.5 161.6,279.5 162.2,279.4 162.7,279.4 163.3,279.3 163.8,279.2 164.4,279.2 164.9,279.3 165.5,279.3 166.1,279.5 166.6,279.7 167.2,279.9 167.7,279.7 168.3,279.5 168.8,279.4 169.4,279.5 169.9,279.5 170.5,279.6 171.0,279.5 171.6,279.4 172.1,279.3 172.7,278.9 173.3,278.6 173.8,278.2 174.4,278.7 174.9,279.2 175.5,279.6 176.0,279.7 176.6,279.7 177.1,279.8 177.7,279.6 178.2,279.4 178.8,279.3 179.4,279.0 179.9,278.7 180.5,278.4 181.0,278.2 181.6,278.1 182.1,277.9 182.7,278.4 183.2,278.8 183.8,279.3 184.3,279.4 184.9,279.5 185.4,279.6 186.0,279.6 186.6,279.5 187.1,279.5 187.7,279.5 188.2,279.5 188.8,279.4 189.3,279.6 189.9,279.8 190.4,280.0 191.0,279.6 191.5,279.2 192.1,278.8 192.6,279.0 193.2,279.3 193.8,279.5 194.3,279.6 194.9,279.6 195.4,279.7 196.0,279.9 196.5,280.0 197.1,280.2 197.6,279.9 198.2,279.7 198.7,279.5 199.3,279.2 199.8,278.9 200.4,278.6 201.0,278.0 201.5,277.5 202.1,276.9 202.6,277.7 203.2,278.6 203.7,279.4 204.3,279.0 204.8,278.6 205.4,278.2 205.9,278.8 206.5,279.4 207.1,280.0 207.6,279.5 208.2,279.0 208.7,278.5 209.3,279.0 209.8,279.5 210.4,280.0 210.9,279.9 211.5,279.9 212.0,279.8 212.6,279.2 213.1,278.5 213.7,277.9" fill="none" stroke="#1c1c1c" stroke-width="1.00" stroke-linejoin="round"/>
<polyline points="47.5,280.2 48.1,280.2 48.6,280.2 49.2,280.2 49.7,280.2 50.3,280.2 50.8,280.2 51.4,280.2 51.9,280.2 52.5,280.2 53.0,280.2 53.6,280.2 54.1,280.2 54.7,280.2 55.3,280.2 55.8,280.2 56.4,280.2 56.9,280.2 57.5,280.2 58.0,280.2 58.6,280.2 59.1,280.2 59.7,280.2 60.2,280.2 60.8,280.2 61.4,280.2 61.9,280.2 62.5,280.2 63.0,280.2 63.6,280.2 64.1,280.2 64.7,280.2 65.2,280.2 65.8,280.2 66.3,280.2 66.9,280.2 67.4,280.2 68.0,280.2 68.6,280.2 69.1,280.2 69.7,280.2 70.2,280.2 70.8,280.2 71.3,280.2 71.9,280.2 72.4,280.2 73.0,280.2 73.5,280.2 74.1,280.2 74.6,280.2 75.2,280.2 75.8,280.2 76.3,280.2 76.9,280.2 77.4,280.2 78.0,280.1 78.5,280.1 79.1,280.1 79.6,280.1 80.2,280.1 80.7,280.1 81.3,280.0 81.8,280.0 82.4,280.0 83.0,280.0 83.5,279.9 84.1,279.9 84.6,279.8 85.2,279.8 85.7,279.7 86.3,279.6 86.8,279.6 87.4,279.5 87.9,279.4 88.5,279.3 89.0,279.2 89.6,279.1 90.2,278.9 90.7,278.8 91.3,278.7 91.8,278.5 92.4,278.3 92.9,278.1 93.5,277.9 94.0,277.7 94.6,277.5 95.1,277.3 95.7,277.0 96.3,276.8 96.8,276.5 97.4,276.3 97.9,276.0 98.5,275.7 99.0,275.5 99.6,275.2 100.1,274.9 100.7,274.6 101.2,274.3 101.8,274.1 102.3,273.8 102.9,273.5 103.5,273.3 104.0,273.0 104.6,272.8 105.1,272.6 105.7,272.4 106.2,272.2 106.8,272.1 107.3,271.9 107.9,271.8 108.4,271.7 109.0,271.7 109.5,271.6 110.1,271.6 110.7,271.6 111.2,271.7 111.8,271.7 112.3,271.7 112.9,271.8 113.4,271.9 114.0,272.0 114.5,272.0 115.1,272.2 115.6,272.3 116.2,272.4 116.8,272.5 117.3,272.7 117.9,272.8 118.4,273.0 119.0,273.2 119.5,273.3 120.1,273.5 120.6,273.7 121.2,273.9 121.7,274.1 122.3,274.3 122.8,274.5 123.4,274.7 124.0,274.9 124.5,275.1 125.1,275.3 125.6,275.5 126.2,275.7 126.7,275.9 127.3,276.1 127.8,276.3 128.4,276.5 128.9,276.7 129.5,276.9 130.0,277.0 130.6,277.2 131.2,277.4 131.7,277.6 132.3,277.7 132.8,277.9 133.4,278.0 133.9,278.1 134.5,278.3 135.0,278.4 135.6,278.5 136.1,278.6 136.7,278.8 137.2,278.9 137.8,279.0 138.4,279.0 138.9,279.1 139.5,279.2 140.0,279.3 140.6,279.4 141.1,279.4 141.7,279.5 142.2,279.6 142.8,279.6 143.3,279.7 143.9,279.7 144.4,279.8 145.0,279.8 145.6,279.8 146.1,279.9 146.7,279.9 147.2,279.9 147.8,280.0 148.3,280.0 148.9,280.0 149.4,280.0 150.0,280.0 150.5,280.1 151.1,280.1 151.7,280.1 152.2,280.1 152.8,280.1 153.3,280.1 153.9,280.1 154.4,280.1 155.0,280.1 155.5,280.2 156.1,280.2 156.6,280.2 157.2,280.2 157.7,280.2 158.3,280.2 158.9,280.2 159.4,280.2 160.0,280.2 160.5,280.2 161.1,280.2 161.6,280.2 162.2,280.2 162.7,280.2 163.3,280.2 163.8,280.2 164.4,280.2 164.9,280.2 165.5,280.2 166.1,280.2 166.6,280.2 167.2,280.2 167.7,280.2 168.3,280.2 168.8,280.2 169.4,280.2 169.9,280.2 170.5,280.2 171.0,280.2 171.6,280.2 172.1,280.2 172.7,280.2 173.3,280.2 173.8,280.2 174.4,280.2 174.9,280.2 175.5,280.2 176.0,280.2 176.6,280.2 177.1,280.2 177.7,280.2 178.2,280.2 178.8,280.2 179.4,280.2 179.9,280.2 180.5,280.2 181.0,280.2 181.6,280.2 182.1,280.2 182.7,280.2 183.2,280.2 183.8,280.2 184.3,280.2 184.9,280.2 185.4,280.2 186.0,280.2 186.6,280.2 187.1,280.2 187.7,280.2 188.2,280.2 188.8,280.2 189.3,280.2 189.9,280.2 190.4,280.2 191.0,280.2 191.5,280.2 192.1,280.2 192.6,280.2 193.2,280.2 193.8,280.2 194.3,280.2 194.9,280.2 195.4,280.2 196.0,280.2 196.5,280.2 197.1,280.2 197.6,280.2 198.2,280.2 198.7,280.2 199.3,280.2 199.8,280.2 200.4,280.2 201.0,280.2 201.5,280.2 202.1,280.2 202.6,280.2 203.2,280.2 203.7,280.2 204.3,280.2 204.8,280.2 205.4,280.2 205.9,280.2 206.5,280.2 207.1,280.2 207.6,280.2 208.2,280.2 208.7,280.2 209.3,280.2 209.8,280.2 210.4,280.2 210.9,280.2 211.5,280.2 212.0,280.2 212.6,280.2 213.1,280.2 213.7,280.2" fill="none" stroke="#1c1c1c" stroke-width="1.00" stroke-linejoin="round"/>
<line x1="315.50" y1="38.75" x2="315.50" y2="280.60" stroke="#1c1c1c" stroke-width="1.10"/>
<line x1="315.30" y1="280.50" x2="484.60" y2="280.50" stroke="#1c1c1c" stroke-width="1.10"/>
<line x1="313.30" y1="280.50" x2="315.80" y2="280.50" stroke="#1c1c1c" stroke-width="1.00"/>
<text transform="translate(305.19,283.80) scale(1.130,1)" font-size="10.40" fill="#1c1c1c">0</text>
<line x1="313.30" y1="239.50" x2="315.80" y2="239.50" stroke="#1c1c1c" stroke-width="1.00"/>
<text transform="translate(292.14,243.66) scale(1.130,1)" font-size="10.40" fill="#1c1c1c">100</text>
<line x1="313.30" y1="199.50" x2="315.80" y2="199.50" stroke="#1c1c1c" stroke-width="1.00"/>
<text transform="translate(292.14,203.52) scale(1.130,1)" font-size="10.40" fill="#1c1c1c">200</text>
<line x1="313.30" y1="159.50" x2="315.80" y2="159.50" stroke="#1c1c1c" stroke-width="1.00"/>
<text transform="translate(292.14,163.38) scale(1.130,1)" font-size="10.40" fill="#1c1c1c">300</text>
<line x1="313.30" y1="119.50" x2="315.80" y2="119.50" stroke="#1c1c1c" stroke-width="1.00"/>
<text transform="translate(292.14,123.23) scale(1.130,1)" font-size="10.40" fill="#1c1c1c">400</text>
<line x1="313.30" y1="79.50" x2="315.80" y2="79.50" stroke="#1c1c1c" stroke-width="1.00"/>
<text transform="translate(292.14,83.09) scale(1.130,1)" font-size="10.40" fill="#1c1c1c">500</text>
<line x1="313.30" y1="39.50" x2="315.80" y2="39.50" stroke="#1c1c1c" stroke-width="1.00"/>
<text transform="translate(292.14,42.95) scale(1.130,1)" font-size="10.40" fill="#1c1c1c">600</text>
<line x1="315.50" y1="280.10" x2="315.50" y2="282.60" stroke="#1c1c1c" stroke-width="1.00"/>
<text transform="translate(312.51,294.10) scale(1.130,1)" font-size="10.40" fill="#1c1c1c">0</text>
<line x1="343.50" y1="280.10" x2="343.50" y2="282.60" stroke="#1c1c1c" stroke-width="1.00"/>
<text transform="translate(340.59,294.10) scale(1.130,1)" font-size="10.40" fill="#1c1c1c">5</text>
<line x1="371.50" y1="280.10" x2="371.50" y2="282.60" stroke="#1c1c1c" stroke-width="1.00"/>
<text transform="translate(365.14,294.10) scale(1.130,1)" font-size="10.40" fill="#1c1c1c">10</text>
<line x1="399.50" y1="280.10" x2="399.50" y2="282.60" stroke="#1c1c1c" stroke-width="1.00"/>
<text transform="translate(393.22,294.10) scale(1.130,1)" font-size="10.40" fill="#1c1c1c">15</text>
<line x1="428.50" y1="280.10" x2="428.50" y2="282.60" stroke="#1c1c1c" stroke-width="1.00"/>
<text transform="translate(421.39,294.10) scale(1.130,1)" font-size="10.40" fill="#1c1c1c">20</text>
<line x1="456.50" y1="280.10" x2="456.50" y2="282.60" stroke="#1c1c1c" stroke-width="1.00"/>
<text transform="translate(449.47,294.10) scale(1.130,1)" font-size="10.40" fill="#1c1c1c">25</text>
<line x1="484.50" y1="280.10" x2="484.50" y2="282.60" stroke="#1c1c1c" stroke-width="1.00"/>
<text transform="translate(477.55,294.10) scale(1.130,1)" font-size="10.40" fill="#1c1c1c">30</text>
<text transform="translate(369.94,311.20) scale(0.963,1)" font-size="13.33" fill="#1c1c1c">Time (min)</text>
<text transform="translate(285.70,196.05) rotate(-90) scale(1.183,1)" font-size="11.03" fill="#1c1c1c">nM Thrombin</text>
<line x1="417.40" y1="83.50" x2="431.30" y2="83.50" stroke="#1c1c1c" stroke-width="1.00"/>
<text transform="translate(432.82,86.80) scale(1.114,1)" font-size="10.86" fill="#1c1c1c">0 nM</text>
<line x1="417.40" y1="121.50" x2="431.30" y2="121.50" stroke="#1c1c1c" stroke-width="1.00"/>
<text transform="translate(432.82,125.50) scale(1.084,1)" font-size="11.16" fill="#1c1c1c">5 nM</text>
<line x1="417.40" y1="176.50" x2="431.30" y2="176.50" stroke="#1c1c1c" stroke-width="1.00"/>
<text transform="translate(433.31,181.10) scale(1.074,1)" font-size="11.01" fill="#1c1c1c">10 nM</text>
<line x1="417.40" y1="213.50" x2="431.30" y2="213.50" stroke="#1c1c1c" stroke-width="1.00"/>
<text transform="translate(433.31,217.60) scale(1.074,1)" font-size="11.01" fill="#1c1c1c">15 nM</text>
<line x1="418.50" y1="260.50" x2="430.50" y2="260.50" stroke="#1c1c1c" stroke-width="1.00"/>
<text transform="translate(432.51,264.60) scale(1.169,1)" font-size="10.57" fill="#1c1c1c">30 nM</text>
<line x1="418.50" y1="271.50" x2="430.50" y2="271.50" stroke="#1c1c1c" stroke-width="1.00"/>
<text transform="translate(432.38,275.00) scale(1.173,1)" font-size="10.57" fill="#1c1c1c">60 nM</text>
<line x1="472.20" y1="270.50" x2="484.20" y2="270.50" stroke="#1c1c1c" stroke-width="1.00"/>
<text transform="translate(486.66,274.70) scale(1.128,1)" font-size="10.57" fill="#1c1c1c">90 nM</text>
<polyline points="315.8,280.1 316.4,280.1 316.9,280.1 317.5,280.1 318.0,280.1 318.6,280.1 319.2,280.1 319.7,280.1 320.3,280.1 320.8,280.1 321.4,280.1 322.0,280.1 322.5,280.1 323.1,280.1 323.7,280.1 324.2,280.1 324.8,280.1 325.3,280.1 325.9,280.1 326.5,280.1 327.0,280.1 327.6,280.1 328.1,280.1 328.7,280.1 329.3,280.1 329.8,280.1 330.4,280.1 330.9,280.1 331.5,280.1 332.1,280.1 332.6,280.1 333.2,280.1 333.8,280.1 334.3,280.1 334.9,280.1 335.4,280.1 336.0,280.0 336.6,279.9 337.1,279.7 337.7,279.3 338.2,278.6 338.8,277.6 339.4,276.0 339.9,273.6 340.5,270.3 341.0,265.7 341.6,259.8 342.2,252.5 342.7,243.6 343.3,233.2 343.9,221.5 344.4,208.8 345.0,195.3 345.5,181.4 346.1,167.5 346.7,154.0 347.2,141.2 347.8,129.3 348.3,118.5 348.9,108.8 349.5,100.3 350.0,92.8 350.6,86.2 351.1,80.3 351.7,74.9 352.3,69.6 352.4,68.6 352.8,72.8 353.4,78.5 353.9,84.1 354.5,89.7 355.1,95.1 355.6,100.5 356.2,105.8 356.8,111.0 357.3,116.0 357.9,120.9 358.4,125.8 359.0,130.4 359.6,135.0 360.1,139.5 360.7,143.8 361.2,148.0 361.8,152.2 362.4,156.2 362.9,160.1 363.5,163.9 364.0,167.6 364.6,171.1 365.2,174.6 365.7,178.0 366.3,181.3 366.9,184.5 367.4,187.7 368.0,190.7 368.5,193.6 369.1,196.5 369.7,199.3 370.2,202.0 370.8,204.6 371.3,207.1 371.9,209.6 372.5,212.0 373.0,214.3 373.6,216.6 374.1,218.8 374.7,220.9 375.3,220.7 375.8,222.5 376.4,224.8 376.9,227.4 377.5,230.0 378.1,231.9 378.6,233.6 379.2,235.9 379.8,238.5 380.3,241.0 380.9,241.7 381.4,242.3 382.0,243.1 382.6,244.2 383.1,245.3 383.7,247.0 384.2,248.6 384.8,249.9 385.4,251.1 385.9,252.2 386.5,253.0 387.0,253.8 387.6,254.6 388.2,255.3 388.7,255.9 389.3,256.8 389.9,257.7 390.4,258.8 391.0,260.3 391.5,261.7 392.1,261.9 392.7,262.1 393.2,262.4 393.8,262.9 394.3,263.4 394.9,264.1 395.5,264.8 396.0,265.7 396.6,266.8 397.1,267.9 397.7,266.6 398.3,265.3 398.8,265.6 399.4,267.6 400.0,269.7 400.5,270.5 401.1,271.2 401.6,271.5 402.2,271.4 402.8,271.2 403.3,272.0 403.9,272.9 404.4,273.4 405.0,273.6 405.6,273.8 406.1,274.2 406.7,274.5 407.2,274.8 407.8,275.0 408.4,275.3 408.9,275.0 409.5,274.7 410.0,274.9 410.6,275.6 411.2,276.3 411.7,276.3 412.3,276.4 412.9,276.5 413.4,276.9 414.0,277.2 414.5,277.3 415.1,277.3 415.7,277.3 416.2,277.1 416.8,276.8 417.3,277.1 417.9,277.4 418.5,277.6 419.0,277.8 419.6,277.9 420.1,278.1 420.7,278.3 421.3,278.3 421.8,278.0 422.4,277.8 423.0,278.3 423.5,278.8 424.1,279.1 424.6,279.1 425.2,279.1 425.8,278.9 426.3,278.7 426.9,278.8 427.4,279.1 428.0,279.4 428.6,279.3 429.1,279.2 429.7,279.2 430.2,279.3 430.8,279.3 431.4,279.1 431.9,278.8 432.5,278.9 433.0,279.2 433.6,279.6 434.2,279.5 434.7,279.4 435.3,279.4 435.9,279.4 436.4,279.5 437.0,279.2 437.5,278.9 438.1,278.8 438.7,279.0 439.2,279.2 439.8,279.5 440.3,279.7 440.9,279.7 441.5,279.4 442.0,279.1 442.6,279.4 443.1,279.8 443.7,279.9 444.3,279.8 444.8,279.6 445.4,279.7 446.0,279.7 446.5,279.8 447.1,279.8 447.6,279.9 448.2,279.7 448.8,279.5 449.3,279.5 449.9,279.7 450.4,279.9 451.0,279.1 451.6,278.3 452.1,278.1 452.7,278.6 453.2,279.1 453.8,279.3 454.4,279.5 454.9,279.6 455.5,279.8 456.1,280.1 456.6,279.8 457.2,279.5 457.7,279.4 458.3,279.5 458.9,279.7 459.4,278.4 460.0,277.2 460.5,277.3 461.1,278.7 461.7,280.1 462.2,279.9 462.8,279.8 463.3,279.7 463.9,279.8 464.5,279.8 465.0,279.8 465.6,279.8 466.1,279.5 466.7,279.1 467.3,278.7 467.8,278.8 468.4,279.0 469.0,279.0 469.5,279.0 470.1,279.0 470.6,279.3 471.2,279.7 471.8,279.7 472.3,279.4 472.9,279.0 473.4,279.1 474.0,279.2 474.6,279.3 475.1,279.7 475.7,280.0 476.2,279.7 476.8,279.4 477.4,279.5 477.9,279.7 478.5,280.0 479.1,279.8 479.6,279.6 480.2,279.6 480.7,279.8 481.3,280.0 481.9,279.9 482.4,279.8 483.0,279.7 483.5,279.5 484.1,279.3" fill="none" stroke="#1c1c1c" stroke-width="1.00" stroke-linejoin="round"/>
<polyline points="315.8,280.1 316.4,280.1 316.9,280.1 317.5,280.1 318.0,280.1 318.6,280.1 319.2,280.1 319.7,280.1 320.3,280.1 320.8,280.1 321.4,280.1 322.0,280.1 322.5,280.1 323.1,280.1 323.7,280.1 324.2,280.1 324.8,280.1 325.3,280.1 325.9,280.1 326.5,280.1 327.0,280.1 327.6,280.1 328.1,280.1 328.7,280.1 329.3,280.1 329.8,280.1 330.4,280.1 330.9,280.1 331.5,280.1 332.1,280.1 332.6,280.1 333.2,280.1 333.8,280.1 334.3,280.1 334.9,280.1 335.4,280.1 336.0,280.1 336.6,280.1 337.1,280.1 337.7,280.0 338.2,279.9 338.8,279.8 339.4,279.6 339.9,279.2 340.5,278.7 341.0,277.8 341.6,276.6 342.2,274.8 342.7,272.4 343.3,269.3 343.9,265.2 344.4,260.1 345.0,254.1 345.5,246.9 346.1,238.8 346.7,229.7 347.2,219.9 347.8,209.6 348.3,199.1 348.9,188.4 349.5,178.0 350.0,168.1 350.6,158.8 351.1,150.3 351.7,142.6 352.3,135.9 352.8,130.2 353.4,125.2 353.9,121.1 354.5,117.6 355.1,114.6 355.6,111.9 356.1,109.9 356.2,110.0 356.8,111.3 357.3,113.1 357.9,115.3 358.4,117.8 359.0,120.4 359.6,123.2 360.1,126.2 360.7,129.3 361.2,132.4 361.8,135.6 362.4,138.9 362.9,142.3 363.5,145.6 364.0,149.0 364.6,152.4 365.2,155.9 365.7,159.3 366.3,162.7 366.9,166.0 367.4,169.4 368.0,172.7 368.5,176.0 369.1,179.3 369.7,182.5 370.2,185.7 370.8,188.8 371.3,191.8 371.9,194.9 372.5,197.8 373.0,200.7 373.6,203.6 374.1,206.4 374.7,209.1 375.3,211.7 375.8,214.3 376.4,216.9 376.9,219.3 377.5,221.7 378.1,224.1 378.6,225.5 379.2,227.4 379.8,229.6 380.3,231.7 380.9,233.2 381.4,234.7 382.0,236.9 382.6,239.8 383.1,242.4 383.7,244.2 384.2,245.9 384.8,247.6 385.4,249.3 385.9,250.9 386.5,252.2 387.0,253.6 387.6,254.6 388.2,255.3 388.7,256.0 389.3,257.0 389.9,257.9 390.4,259.0 391.0,260.2 391.5,261.3 392.1,262.2 392.7,263.0 393.2,264.0 393.8,265.1 394.3,266.3 394.9,266.5 395.5,266.6 396.0,267.1 396.6,268.0 397.1,268.8 397.7,269.6 398.3,270.4 398.8,271.1 399.4,271.9 400.0,272.6 400.5,272.9 401.1,273.2 401.6,273.4 402.2,273.5 402.8,273.7 403.3,274.0 403.9,274.4 404.4,274.8 405.0,275.3 405.6,275.8 406.1,276.0 406.7,276.2 407.2,276.4 407.8,276.6 408.4,276.7 408.9,277.0 409.5,277.3 410.0,277.2 410.6,276.7 411.2,276.1 411.7,276.6 412.3,277.0 412.9,277.5 413.4,277.8 414.0,278.1 414.5,278.3 415.1,278.4 415.7,278.6 416.2,278.8 416.8,279.1 417.3,278.8 417.9,278.6 418.5,278.4 419.0,278.2 419.6,278.0 420.1,278.3 420.7,278.5 421.3,278.6 421.8,278.6 422.4,278.5 423.0,278.9 423.5,279.3 424.1,279.5 424.6,279.6 425.2,279.7 425.8,279.5 426.3,279.4 426.9,279.1 427.4,278.7 428.0,278.2 428.6,278.9 429.1,279.5 429.7,279.7 430.2,279.5 430.8,279.2 431.4,279.5 431.9,279.7 432.5,279.7 433.0,279.5 433.6,279.3 434.2,279.5 434.7,279.7 435.3,279.6 435.9,279.1 436.4,278.7 437.0,279.0 437.5,279.3 438.1,279.4 438.7,279.2 439.2,279.0 439.8,279.3 440.3,279.7 440.9,279.8 441.5,279.8 442.0,279.7 442.6,279.8 443.1,279.9 443.7,279.9 444.3,279.7 444.8,279.4 445.4,279.6 446.0,279.8 446.5,279.9 447.1,279.9 447.6,279.8 448.2,279.8 448.8,279.8 449.3,279.7 449.9,279.5 450.4,279.4 451.0,279.3 451.6,279.1 452.1,279.2 452.7,279.3 453.2,279.5 453.8,279.4 454.4,279.3 454.9,279.2 455.5,279.1 456.1,279.1 456.6,279.0 457.2,279.0 457.7,278.9 458.3,278.8 458.9,278.7 459.4,278.7 460.0,278.6 460.5,278.9 461.1,279.5 461.7,280.1 462.2,279.6 462.8,279.1 463.3,278.8 463.9,278.7 464.5,278.7 465.0,279.0 465.6,279.4 466.1,279.6 466.7,279.6 467.3,279.7 467.8,279.7 468.4,279.6 469.0,279.6 469.5,279.7 470.1,279.8 470.6,279.8 471.2,279.8 471.8,279.8 472.3,279.8 472.9,279.8 473.4,279.9 474.0,280.0 474.6,279.9 475.1,279.5 475.7,279.2 476.2,279.2 476.8,279.2 477.4,279.3 477.9,279.6 478.5,279.9 479.1,279.8 479.6,279.7 480.2,279.6 480.7,279.5 481.3,279.4 481.9,279.4 482.4,279.4 483.0,279.4 483.5,279.4 484.1,279.4" fill="none" stroke="#1c1c1c" stroke-width="1.00" stroke-linejoin="round"/>
<polyline points="315.8,280.1 316.4,280.1 316.9,280.1 317.5,280.1 318.0,280.1 318.6,280.1 319.2,280.1 319.7,280.1 320.3,280.1 320.8,280.1 321.4,280.1 322.0,280.1 322.5,280.1 323.1,280.1 323.7,280.1 324.2,280.1 324.8,280.1 325.3,280.1 325.9,280.1 326.5,280.1 327.0,280.1 327.6,280.1 328.1,280.1 328.7,280.1 329.3,280.1 329.8,280.1 330.4,280.1 330.9,280.1 331.5,280.1 332.1,280.1 332.6,280.1 333.2,280.1 333.8,280.1 334.3,280.1 334.9,280.1 335.4,280.1 336.0,280.1 336.6,280.1 337.1,280.1 337.7,280.1 338.2,280.1 338.8,280.0 339.4,280.0 339.9,279.8 340.5,279.6 341.0,279.1 341.6,278.4 342.2,277.2 342.7,275.4 343.3,272.9 343.9,269.6 344.4,265.3 345.0,260.1 345.5,254.0 346.1,247.1 346.7,239.5 347.2,231.6 347.8,223.5 348.3,215.6 348.9,208.0 349.5,200.9 350.0,194.4 350.6,188.7 351.1,183.8 351.7,179.7 352.3,176.4 352.8,173.8 353.4,171.8 353.9,170.3 354.5,169.3 355.1,168.6 355.6,168.1 356.2,167.9 356.8,167.8 357.3,167.7 357.9,167.7 358.4,167.7 358.6,167.7 359.0,167.8 359.6,168.2 360.1,168.8 360.7,169.6 361.2,170.6 361.8,171.7 362.4,172.9 362.9,174.3 363.5,175.7 364.0,177.3 364.6,178.9 365.2,180.7 365.7,182.5 366.3,184.4 366.9,186.3 367.4,188.3 368.0,190.3 368.5,192.4 369.1,194.5 369.7,196.7 370.2,198.8 370.8,201.0 371.3,203.2 371.9,205.4 372.5,207.6 373.0,209.8 373.6,212.0 374.1,214.2 374.7,216.4 375.3,218.5 375.8,220.6 376.4,222.7 376.9,224.8 377.5,226.9 378.1,228.9 378.6,230.8 379.2,232.8 379.8,234.7 380.3,236.5 380.9,238.3 381.4,238.8 382.0,239.9 382.6,241.1 383.1,242.3 383.7,245.0 384.2,247.6 384.8,249.7 385.4,251.5 385.9,253.1 386.5,254.9 387.0,256.6 387.6,257.6 388.2,258.0 388.7,258.4 389.3,259.5 389.9,260.6 390.4,261.7 391.0,262.7 391.5,263.8 392.1,264.4 392.7,265.0 393.2,265.8 393.8,266.8 394.3,267.6 394.9,268.3 395.5,268.9 396.0,269.6 396.6,270.4 397.1,271.2 397.7,271.9 398.3,272.6 398.8,273.0 399.4,273.3 400.0,273.5 400.5,274.1 401.1,274.6 401.6,274.8 402.2,274.9 402.8,274.9 403.3,274.9 403.9,274.9 404.4,275.2 405.0,275.8 405.6,276.4 406.1,276.6 406.7,276.9 407.2,276.2 407.8,274.5 408.4,272.8 408.9,274.7 409.5,276.6 410.0,277.7 410.6,277.8 411.2,278.0 411.7,278.3 412.3,278.6 412.9,278.6 413.4,278.4 414.0,278.1 414.5,278.3 415.1,278.5 415.7,278.8 416.2,279.1 416.8,279.4 417.3,279.5 417.9,279.5 418.5,279.5 419.0,279.5 419.6,279.4 420.1,279.2 420.7,279.0 421.3,279.1 421.8,279.4 422.4,279.8 423.0,279.6 423.5,279.5 424.1,279.4 424.6,279.4 425.2,279.4 425.8,279.1 426.3,278.8 426.9,278.7 427.4,278.8 428.0,278.9 428.6,278.8 429.1,278.6 429.7,278.8 430.2,279.3 430.8,279.8 431.4,279.0 431.9,278.2 432.5,278.1 433.0,278.8 433.6,279.5 434.2,279.6 434.7,279.7 435.3,279.8 435.9,279.9 436.4,280.0 437.0,280.0 437.5,280.0 438.1,279.9 438.7,279.7 439.2,279.4 439.8,279.5 440.3,279.5 440.9,279.6 441.5,279.7 442.0,279.7 442.6,279.7 443.1,279.7 443.7,279.8 444.3,279.9 444.8,279.9 445.4,280.0 446.0,280.0 446.5,279.8 447.1,279.3 447.6,278.9 448.2,279.3 448.8,279.8 449.3,280.0 449.9,279.9 450.4,279.8 451.0,279.8 451.6,279.8 452.1,279.6 452.7,279.3 453.2,278.9 453.8,279.0 454.4,279.1 454.9,279.1 455.5,278.9 456.1,278.8 456.6,279.3 457.2,279.8 457.7,279.8 458.3,279.3 458.9,278.9 459.4,279.3 460.0,279.7 460.5,279.9 461.1,280.0 461.7,280.0 462.2,279.9 462.8,279.7 463.3,279.7 463.9,279.9 464.5,280.1 465.0,280.1 465.6,280.1 466.1,280.0 466.7,279.8 467.3,279.6 467.8,279.8 468.4,280.0 469.0,280.0 469.5,280.0 470.1,279.9 470.6,278.1 471.2,276.3 471.8,276.1 472.3,277.5 472.9,278.9 473.4,279.1 474.0,279.3 474.6,279.4 475.1,279.4 475.7,279.3 476.2,279.5 476.8,279.6 477.4,279.7 477.9,279.6 478.5,279.5 479.1,279.5 479.6,279.5 480.2,279.4 480.7,279.0 481.3,278.7 481.9,277.1 482.4,275.5 483.0,275.6 483.5,277.4 484.1,279.2" fill="none" stroke="#1c1c1c" stroke-width="1.00" stroke-linejoin="round"/>
<polyline points="315.8,280.1 316.4,280.1 316.9,280.1 317.5,280.1 318.0,280.1 318.6,280.1 319.2,280.1 319.7,280.1 320.3,280.1 320.8,280.1 321.4,280.1 322.0,280.1 322.5,280.1 323.1,280.1 323.7,280.1 324.2,280.1 324.8,280.1 325.3,280.1 325.9,280.1 326.5,280.1 327.0,280.1 327.6,280.1 328.1,280.1 328.7,280.1 329.3,280.1 329.8,280.1 330.4,280.1 330.9,280.1 331.5,280.1 332.1,280.1 332.6,280.1 333.2,280.1 333.8,280.1 334.3,280.1 334.9,280.1 335.4,280.1 336.0,280.1 336.6,280.1 337.1,280.1 337.7,280.1 338.2,280.1 338.8,280.1 339.4,280.1 339.9,280.1 340.5,280.1 341.0,280.0 341.6,279.9 342.2,279.6 342.7,279.1 343.3,278.3 343.9,277.0 344.4,275.0 345.0,272.3 345.5,268.8 346.1,264.5 346.7,259.5 347.2,254.1 347.8,248.4 348.3,242.7 348.9,237.2 349.5,232.0 350.0,227.4 350.6,223.3 351.1,219.9 351.7,217.1 352.3,214.8 352.8,213.1 353.4,211.9 353.9,211.0 354.5,210.3 355.1,209.9 355.6,209.7 356.2,209.6 356.8,209.5 357.3,209.5 357.9,209.5 358.4,209.5 358.9,209.5 359.0,209.5 359.6,209.5 360.1,209.7 360.7,209.9 361.2,210.3 361.8,210.8 362.4,211.3 362.9,212.0 363.5,212.7 364.0,213.6 364.6,214.5 365.2,215.5 365.7,216.6 366.3,217.7 366.9,219.0 367.4,220.3 368.0,221.6 368.5,223.0 369.1,224.5 369.7,225.9 370.2,227.5 370.8,229.0 371.3,230.6 371.9,232.2 372.5,233.9 373.0,235.5 373.6,237.1 374.1,238.8 374.7,240.4 375.3,242.0 375.8,243.6 376.4,245.2 376.9,246.8 377.5,248.4 378.1,249.9 378.6,251.4 379.2,252.9 379.8,254.3 380.3,255.7 380.9,257.0 381.4,259.6 382.0,260.6 382.6,261.5 383.1,262.5 383.7,263.2 384.2,264.0 384.8,264.9 385.4,266.0 385.9,267.0 386.5,267.8 387.0,268.7 387.6,269.4 388.2,270.2 388.7,270.8 389.3,271.7 389.9,272.6 390.4,273.2 391.0,273.7 391.5,274.1 392.1,274.5 392.7,274.8 393.2,275.3 393.8,275.7 394.3,276.2 394.9,276.4 395.5,276.6 396.0,276.8 396.6,277.2 397.1,277.5 397.7,277.7 398.3,277.9 398.8,278.1 399.4,278.3 400.0,278.5 400.5,278.4 401.1,278.3 401.6,278.4 402.2,278.8 402.8,279.2 403.3,279.3 403.9,279.3 404.4,279.2 405.0,278.9 405.6,278.6 406.1,278.9 406.7,279.3 407.2,279.4 407.8,279.3 408.4,279.3 408.9,279.4 409.5,279.6 410.0,279.6 410.6,279.6 411.2,279.6 411.7,279.2 412.3,278.8 412.9,278.9 413.4,279.3 414.0,279.7 414.5,279.7 415.1,279.8 415.7,279.7 416.2,279.7 416.8,279.7 417.3,279.7 417.9,279.7 418.5,279.7 419.0,279.7 419.6,279.7 420.1,279.3 420.7,278.8 421.3,278.6 421.8,278.7 422.4,278.7 423.0,279.0 423.5,279.2 424.1,279.2 424.6,279.1 425.2,278.9 425.8,279.0 426.3,279.1 426.9,279.1 427.4,279.1 428.0,279.1 428.6,278.8 429.1,278.5 429.7,278.7 430.2,279.4 430.8,280.1 431.4,279.9 431.9,279.7 432.5,279.5 433.0,279.3 433.6,279.1 434.2,278.9 434.7,278.8 435.3,278.7 435.9,278.7 436.4,278.8 437.0,279.2 437.5,279.6 438.1,279.8 438.7,279.8 439.2,279.7 439.8,279.6 440.3,279.6 440.9,279.6 441.5,279.7 442.0,279.8 442.6,279.7 443.1,279.7 443.7,279.7 444.3,279.7 444.8,279.7 445.4,279.8 446.0,280.0 446.5,279.9 447.1,279.7 447.6,279.4 448.2,279.4 448.8,279.4 449.3,278.8 449.9,277.8 450.4,276.7 451.0,278.0 451.6,279.4 452.1,280.0 452.7,279.9 453.2,279.8 453.8,279.8 454.4,279.8 454.9,279.9 455.5,279.9 456.1,280.0 456.6,279.9 457.2,279.9 457.7,279.8 458.3,279.9 458.9,279.9 459.4,279.8 460.0,279.7 460.5,279.6 461.1,279.3 461.7,279.1 462.2,279.0 462.8,278.9 463.3,279.0 463.9,279.4 464.5,279.7 465.0,279.8 465.6,279.9 466.1,279.9 466.7,279.8 467.3,279.7 467.8,279.4 468.4,279.1 469.0,279.1 469.5,279.2 470.1,279.4 470.6,279.5 471.2,279.5 471.8,279.6 472.3,279.6 472.9,279.6 473.4,279.5 474.0,279.3 474.6,279.2 475.1,279.0 475.7,278.9 476.2,279.0 476.8,279.1 477.4,279.2 477.9,279.1 478.5,279.1 479.1,279.1 479.6,279.1 480.2,279.3 480.7,279.7 481.3,280.1 481.9,279.7 482.4,279.3 483.0,279.0 483.5,278.9 484.1,278.7" fill="none" stroke="#1c1c1c" stroke-width="1.00" stroke-linejoin="round"/>
<polyline points="315.8,280.1 316.4,280.1 316.9,280.1 317.5,280.1 318.0,280.1 318.6,280.1 319.2,280.1 319.7,280.1 320.3,280.1 320.8,280.1 321.4,280.1 322.0,280.1 322.5,280.1 323.1,280.1 323.7,280.1 324.2,280.1 324.8,280.1 325.3,280.1 325.9,280.1 326.5,280.1 327.0,280.1 327.6,280.1 328.1,280.1 328.7,280.1 329.3,280.1 329.8,280.1 330.4,280.1 330.9,280.1 331.5,280.1 332.1,280.1 332.6,280.1 333.2,280.1 333.8,280.1 334.3,280.1 334.9,280.1 335.4,280.1 336.0,280.1 336.6,280.1 337.1,280.1 337.7,280.1 338.2,280.1 338.8,280.0 339.4,280.0 339.9,280.0 340.5,280.0 341.0,279.9 341.6,279.9 342.2,279.8 342.7,279.8 343.3,279.7 343.9,279.6 344.4,279.5 345.0,279.3 345.5,279.2 346.1,279.0 346.7,278.8 347.2,278.5 347.8,278.3 348.3,277.9 348.9,277.6 349.5,277.2 350.0,276.8 350.6,276.3 351.1,275.8 351.7,275.3 352.3,274.7 352.8,274.1 353.4,273.5 353.9,272.8 354.5,272.1 355.1,271.5 355.6,270.8 356.2,270.1 356.8,269.4 357.3,268.7 357.9,268.1 358.4,267.5 359.0,266.9 359.6,266.3 360.1,265.8 360.7,265.3 361.2,264.9 361.8,264.5 362.4,264.2 362.9,263.9 363.5,263.6 364.0,263.4 364.6,263.3 365.2,263.2 365.7,263.1 366.3,263.1 366.9,263.1 367.1,263.1 367.4,263.1 368.0,263.1 368.5,263.2 369.1,263.3 369.7,263.5 370.2,263.7 370.8,263.9 371.3,264.1 371.9,264.4 372.5,264.7 373.0,265.1 373.6,265.4 374.1,265.8 374.7,266.2 375.3,266.7 375.8,267.1 376.4,267.6 376.9,268.0 377.5,268.5 378.1,269.0 378.6,269.5 379.2,270.0 379.8,270.5 380.3,270.9 380.9,271.4 381.4,271.9 382.0,272.3 382.6,272.8 383.1,273.2 383.7,273.7 384.2,274.1 384.8,274.5 385.4,274.9 385.9,275.2 386.5,275.6 387.0,275.9 387.6,276.3 388.2,276.6 388.7,276.8 389.3,277.1 389.9,277.4 390.4,277.6 391.0,277.8 391.5,278.0 392.1,278.2 392.7,278.4 393.2,278.6 393.8,278.7 394.3,278.9 394.9,279.0 395.5,279.1 396.0,279.2 396.6,279.3 397.1,279.4 397.7,279.5 398.3,279.6 398.8,279.6 399.4,279.7 400.0,279.7 400.5,279.8 401.1,279.8 401.6,279.8 402.2,279.9 402.8,279.9 403.3,279.9 403.9,280.0 404.4,280.0 405.0,280.0 405.6,280.0 406.1,280.0 406.7,280.0 407.2,280.0 407.8,280.1 408.4,280.1 408.9,280.1 409.5,280.1 410.0,280.1 410.6,280.1 411.2,280.1 411.7,280.1 412.3,280.1 412.9,280.1 413.4,280.1 414.0,280.1 414.5,280.1 415.1,280.1 415.7,280.1 416.2,280.1 416.8,280.1 417.3,280.1 417.9,280.1 418.5,280.1 419.0,280.1 419.6,280.1 420.1,280.1 420.7,280.1 421.3,280.1 421.8,280.1 422.4,280.1 423.0,280.1 423.5,280.1 424.1,280.1 424.6,280.1 425.2,280.1 425.8,280.1 426.3,280.1 426.9,280.1 427.4,280.1 428.0,280.1 428.6,280.1 429.1,280.1 429.7,280.1 430.2,280.1 430.8,280.1 431.4,280.1 431.9,280.1 432.5,280.1 433.0,280.1 433.6,280.1 434.2,280.1 434.7,280.1 435.3,280.1 435.9,280.1 436.4,280.1 437.0,280.1 437.5,280.1 438.1,280.1 438.7,280.1 439.2,280.1 439.8,280.1 440.3,280.1 440.9,280.1 441.5,280.1 442.0,280.1 442.6,280.1 443.1,280.1 443.7,280.1 444.3,280.1 444.8,280.1 445.4,280.1 446.0,280.1 446.5,280.1 447.1,280.1 447.6,280.1 448.2,280.1 448.8,280.1 449.3,280.1 449.9,280.1 450.4,280.1 451.0,280.1 451.6,280.1 452.1,280.1 452.7,280.1 453.2,280.1 453.8,280.1 454.4,280.1 454.9,280.1 455.5,280.1 456.1,280.1 456.6,280.1 457.2,280.1 457.7,280.1 458.3,280.1 458.9,280.1 459.4,280.1 460.0,280.1 460.5,280.1 461.1,280.1 461.7,280.1 462.2,280.1 462.8,280.1 463.3,280.1 463.9,280.1 464.5,280.1 465.0,280.1 465.6,280.1 466.1,280.1 466.7,280.1 467.3,280.1 467.8,280.1 468.4,280.1 469.0,280.1 469.5,280.1 470.1,280.1 470.6,280.1 471.2,280.1 471.8,280.1 472.3,280.1 472.9,280.1 473.4,280.1 474.0,280.1 474.6,280.1 475.1,280.1 475.7,280.1 476.2,280.1 476.8,280.1 477.4,280.1 477.9,280.1 478.5,280.1 479.1,280.1 479.6,280.1 480.2,280.1 480.7,280.1 481.3,280.1 481.9,280.1 482.4,280.1 483.0,280.1 483.5,280.1 484.1,280.1" fill="none" stroke="#1c1c1c" stroke-width="1.00" stroke-linejoin="round"/>
<polyline points="315.8,280.1 316.4,280.1 316.9,280.1 317.5,280.1 318.0,280.1 318.6,280.1 319.2,280.1 319.7,280.1 320.3,280.1 320.8,280.1 321.4,280.1 322.0,280.1 322.5,280.1 323.1,280.1 323.7,280.1 324.2,280.1 324.8,280.1 325.3,280.1 325.9,280.1 326.5,280.1 327.0,280.1 327.6,280.1 328.1,280.1 328.7,280.1 329.3,280.1 329.8,280.1 330.4,280.1 330.9,280.1 331.5,280.1 332.1,280.1 332.6,280.1 333.2,280.1 333.8,280.1 334.3,280.1 334.9,280.0 335.4,280.0 336.0,280.0 336.6,280.0 337.1,280.0 337.7,280.0 338.2,280.0 338.8,280.0 339.4,280.0 339.9,279.9 340.5,279.9 341.0,279.9 341.6,279.9 342.2,279.8 342.7,279.8 343.3,279.8 343.9,279.8 344.4,279.7 345.0,279.7 345.5,279.6 346.1,279.6 346.7,279.5 347.2,279.5 347.8,279.4 348.3,279.4 348.9,279.3 349.5,279.2 350.0,279.2 350.6,279.1 351.1,279.0 351.7,278.9 352.3,278.9 352.8,278.8 353.4,278.7 353.9,278.6 354.5,278.5 355.1,278.4 355.6,278.3 356.2,278.2 356.8,278.1 357.3,278.0 357.9,277.9 358.4,277.8 359.0,277.7 359.6,277.6 360.1,277.5 360.7,277.4 361.2,277.3 361.8,277.2 362.4,277.1 362.9,277.0 363.5,276.9 364.0,276.9 364.6,276.8 365.2,276.7 365.7,276.7 366.3,276.6 366.9,276.6 367.4,276.6 368.0,276.5 368.5,276.5 369.1,276.5 369.7,276.5 370.2,276.5 370.8,276.5 371.3,276.5 371.9,276.5 372.5,276.5 373.0,276.5 373.6,276.6 374.1,276.6 374.7,276.6 375.3,276.6 375.8,276.7 376.4,276.7 376.9,276.7 377.5,276.8 378.1,276.8 378.6,276.8 379.2,276.9 379.8,276.9 380.3,277.0 380.9,277.0 381.4,277.1 382.0,277.1 382.6,277.2 383.1,277.2 383.7,277.3 384.2,277.3 384.8,277.4 385.4,277.5 385.9,277.5 386.5,277.6 387.0,277.6 387.6,277.7 388.2,277.8 388.7,277.8 389.3,277.9 389.9,277.9 390.4,278.0 391.0,278.1 391.5,278.1 392.1,278.2 392.7,278.3 393.2,278.3 393.8,278.4 394.3,278.4 394.9,278.5 395.5,278.6 396.0,278.6 396.6,278.7 397.1,278.7 397.7,278.8 398.3,278.8 398.8,278.9 399.4,278.9 400.0,279.0 400.5,279.0 401.1,279.1 401.6,279.1 402.2,279.2 402.8,279.2 403.3,279.2 403.9,279.3 404.4,279.3 405.0,279.4 405.6,279.4 406.1,279.4 406.7,279.5 407.2,279.5 407.8,279.5 408.4,279.6 408.9,279.6 409.5,279.6 410.0,279.6 410.6,279.7 411.2,279.7 411.7,279.7 412.3,279.7 412.9,279.8 413.4,279.8 414.0,279.8 414.5,279.8 415.1,279.8 415.7,279.9 416.2,279.9 416.8,279.9 417.3,279.9 417.9,279.9 418.5,279.9 419.0,279.9 419.6,279.9 420.1,280.0 420.7,280.0 421.3,280.0 421.8,280.0 422.4,280.0 423.0,280.0 423.5,280.0 424.1,280.0 424.6,280.0 425.2,280.0 425.8,280.0 426.3,280.0 426.9,280.0 427.4,280.0 428.0,280.1 428.6,280.1 429.1,280.1 429.7,280.1 430.2,280.1 430.8,280.1 431.4,280.1 431.9,280.1 432.5,280.1 433.0,280.1 433.6,280.1 434.2,280.1 434.7,280.1 435.3,280.1 435.9,280.1 436.4,280.1 437.0,280.1 437.5,280.1 438.1,280.1 438.7,280.1 439.2,280.1 439.8,280.1 440.3,280.1 440.9,280.1 441.5,280.1 442.0,280.1 442.6,280.1 443.1,280.1 443.7,280.1 444.3,280.1 444.8,280.1 445.4,280.1 446.0,280.1 446.5,280.1 447.1,280.1 447.6,280.1 448.2,280.1 448.8,280.1 449.3,280.1 449.9,280.1 450.4,280.1 451.0,280.1 451.6,280.1 452.1,280.1 452.7,280.1 453.2,280.1 453.8,280.1 454.4,280.1 454.9,280.1 455.5,280.1 456.1,280.1 456.6,280.1 457.2,280.1 457.7,280.1 458.3,280.1 458.9,280.1 459.4,280.1 460.0,280.1 460.5,280.1 461.1,280.1 461.7,280.1 462.2,280.1 462.8,280.1 463.3,280.1 463.9,280.1 464.5,280.1 465.0,280.1 465.6,280.1 466.1,280.1 466.7,280.1 467.3,280.1 467.8,280.1 468.4,280.1 469.0,280.1 469.5,280.1 470.1,280.1 470.6,280.1 471.2,280.1 471.8,280.1 472.3,280.1 472.9,280.1 473.4,280.1 474.0,280.1 474.6,280.1 475.1,280.1 475.7,280.1 476.2,280.1 476.8,280.1 477.4,280.1 477.9,280.1 478.5,280.1 479.1,280.1 479.6,280.1 480.2,280.1 480.7,280.1 481.3,280.1 481.9,280.1 482.4,280.1 483.0,280.1 483.5,280.1 484.1,280.1" fill="none" stroke="#1c1c1c" stroke-width="1.00" stroke-linejoin="round"/>
<polyline points="315.8,280.1 316.4,280.1 316.9,280.1 317.5,280.1 318.0,280.1 318.6,280.1 319.2,280.1 319.7,280.1 320.3,280.1 320.8,280.1 321.4,280.1 322.0,280.1 322.5,280.1 323.1,280.1 323.7,280.1 324.2,280.1 324.8,280.1 325.3,280.1 325.9,280.1 326.5,280.1 327.0,280.1 327.6,280.1 328.1,280.1 328.7,280.1 329.3,280.1 329.8,280.1 330.4,280.1 330.9,280.1 331.5,280.1 332.1,280.1 332.6,280.1 333.2,280.1 333.8,280.1 334.3,280.1 334.9,280.1 335.4,280.1 336.0,280.1 336.6,280.1 337.1,280.1 337.7,280.0 338.2,280.0 338.8,280.0 339.4,280.0 339.9,280.0 340.5,280.0 341.0,280.0 341.6,280.0 342.2,280.0 342.7,279.9 343.3,279.9 343.9,279.9 344.4,279.9 345.0,279.9 345.5,279.8 346.1,279.8 346.7,279.8 347.2,279.8 347.8,279.7 348.3,279.7 348.9,279.7 349.5,279.6 350.0,279.6 350.6,279.5 351.1,279.5 351.7,279.5 352.3,279.4 352.8,279.4 353.4,279.3 353.9,279.3 354.5,279.2 355.1,279.2 355.6,279.1 356.2,279.0 356.8,279.0 357.3,278.9 357.9,278.9 358.4,278.8 359.0,278.8 359.6,278.7 360.1,278.6 360.7,278.6 361.2,278.5 361.8,278.5 362.4,278.4 362.9,278.4 363.5,278.3 364.0,278.3 364.6,278.3 365.2,278.2 365.7,278.2 366.3,278.2 366.9,278.1 367.4,278.1 368.0,278.1 368.5,278.1 369.1,278.1 369.7,278.1 370.2,278.1 370.8,278.1 371.3,278.1 371.9,278.1 372.5,278.1 373.0,278.1 373.6,278.1 374.1,278.1 374.7,278.1 375.3,278.2 375.8,278.2 376.4,278.2 376.9,278.2 377.5,278.2 378.1,278.2 378.6,278.3 379.2,278.3 379.8,278.3 380.3,278.3 380.9,278.3 381.4,278.4 382.0,278.4 382.6,278.4 383.1,278.4 383.7,278.5 384.2,278.5 384.8,278.5 385.4,278.6 385.9,278.6 386.5,278.6 387.0,278.6 387.6,278.7 388.2,278.7 388.7,278.7 389.3,278.8 389.9,278.8 390.4,278.8 391.0,278.9 391.5,278.9 392.1,278.9 392.7,278.9 393.2,279.0 393.8,279.0 394.3,279.0 394.9,279.1 395.5,279.1 396.0,279.1 396.6,279.2 397.1,279.2 397.7,279.2 398.3,279.3 398.8,279.3 399.4,279.3 400.0,279.3 400.5,279.4 401.1,279.4 401.6,279.4 402.2,279.4 402.8,279.5 403.3,279.5 403.9,279.5 404.4,279.5 405.0,279.6 405.6,279.6 406.1,279.6 406.7,279.6 407.2,279.6 407.8,279.7 408.4,279.7 408.9,279.7 409.5,279.7 410.0,279.7 410.6,279.8 411.2,279.8 411.7,279.8 412.3,279.8 412.9,279.8 413.4,279.8 414.0,279.8 414.5,279.9 415.1,279.9 415.7,279.9 416.2,279.9 416.8,279.9 417.3,279.9 417.9,279.9 418.5,279.9 419.0,279.9 419.6,280.0 420.1,280.0 420.7,280.0 421.3,280.0 421.8,280.0 422.4,280.0 423.0,280.0 423.5,280.0 424.1,280.0 424.6,280.0 425.2,280.0 425.8,280.0 426.3,280.0 426.9,280.0 427.4,280.0 428.0,280.0 428.6,280.0 429.1,280.1 429.7,280.1 430.2,280.1 430.8,280.1 431.4,280.1 431.9,280.1 432.5,280.1 433.0,280.1 433.6,280.1 434.2,280.1 434.7,280.1 435.3,280.1 435.9,280.1 436.4,280.1 437.0,280.1 437.5,280.1 438.1,280.1 438.7,280.1 439.2,280.1 439.8,280.1 440.3,280.1 440.9,280.1 441.5,280.1 442.0,280.1 442.6,280.1 443.1,280.1 443.7,280.1 444.3,280.1 444.8,280.1 445.4,280.1 446.0,280.1 446.5,280.1 447.1,280.1 447.6,280.1 448.2,280.1 448.8,280.1 449.3,280.1 449.9,280.1 450.4,280.1 451.0,280.1 451.6,280.1 452.1,280.1 452.7,280.1 453.2,280.1 453.8,280.1 454.4,280.1 454.9,280.1 455.5,280.1 456.1,280.1 456.6,280.1 457.2,280.1 457.7,280.1 458.3,280.1 458.9,280.1 459.4,280.1 460.0,280.1 460.5,280.1 461.1,280.1 461.7,280.1 462.2,280.1 462.8,280.1 463.3,280.1 463.9,280.1 464.5,280.1 465.0,280.1 465.6,280.1 466.1,280.1 466.7,280.1 467.3,280.1 467.8,280.1 468.4,280.1 469.0,280.1 469.5,280.1 470.1,280.1 470.6,280.1 471.2,280.1 471.8,280.1 472.3,280.1 472.9,280.1 473.4,280.1 474.0,280.1 474.6,280.1 475.1,280.1 475.7,280.1 476.2,280.1 476.8,280.1 477.4,280.1 477.9,280.1 478.5,280.1 479.1,280.1 479.6,280.1 480.2,280.1 480.7,280.1 481.3,280.1 481.9,280.1 482.4,280.1 483.0,280.1 483.5,280.1 484.1,280.1" fill="none" stroke="#1c1c1c" stroke-width="1.00" stroke-linejoin="round"/>
<line x1="46.50" y1="369.50" x2="46.50" y2="615.90" stroke="#1c1c1c" stroke-width="1.10"/>
<line x1="46.00" y1="615.50" x2="217.70" y2="615.50" stroke="#1c1c1c" stroke-width="1.10"/>
<line x1="44.00" y1="615.50" x2="46.50" y2="615.50" stroke="#1c1c1c" stroke-width="1.00"/>
<text transform="translate(35.89,619.10) scale(1.130,1)" font-size="10.40" fill="#1c1c1c">0</text>
<line x1="44.00" y1="574.50" x2="46.50" y2="574.50" stroke="#1c1c1c" stroke-width="1.00"/>
<text transform="translate(22.84,578.20) scale(1.130,1)" font-size="10.40" fill="#1c1c1c">100</text>
<line x1="44.00" y1="533.50" x2="46.50" y2="533.50" stroke="#1c1c1c" stroke-width="1.00"/>
<text transform="translate(22.84,537.30) scale(1.130,1)" font-size="10.40" fill="#1c1c1c">200</text>
<line x1="44.00" y1="492.50" x2="46.50" y2="492.50" stroke="#1c1c1c" stroke-width="1.00"/>
<text transform="translate(22.84,496.40) scale(1.130,1)" font-size="10.40" fill="#1c1c1c">300</text>
<line x1="44.00" y1="451.50" x2="46.50" y2="451.50" stroke="#1c1c1c" stroke-width="1.00"/>
<text transform="translate(22.84,455.50) scale(1.130,1)" font-size="10.40" fill="#1c1c1c">400</text>
<line x1="44.00" y1="410.50" x2="46.50" y2="410.50" stroke="#1c1c1c" stroke-width="1.00"/>
<text transform="translate(22.84,414.60) scale(1.130,1)" font-size="10.40" fill="#1c1c1c">500</text>
<line x1="44.00" y1="370.50" x2="46.50" y2="370.50" stroke="#1c1c1c" stroke-width="1.00"/>
<text transform="translate(22.84,373.70) scale(1.130,1)" font-size="10.40" fill="#1c1c1c">600</text>
<line x1="46.50" y1="615.40" x2="46.50" y2="617.90" stroke="#1c1c1c" stroke-width="1.00"/>
<text transform="translate(43.21,629.40) scale(1.130,1)" font-size="10.40" fill="#1c1c1c">0</text>
<line x1="74.50" y1="615.40" x2="74.50" y2="617.90" stroke="#1c1c1c" stroke-width="1.00"/>
<text transform="translate(71.69,629.40) scale(1.130,1)" font-size="10.40" fill="#1c1c1c">5</text>
<line x1="103.50" y1="615.40" x2="103.50" y2="617.90" stroke="#1c1c1c" stroke-width="1.00"/>
<text transform="translate(96.64,629.40) scale(1.130,1)" font-size="10.40" fill="#1c1c1c">10</text>
<line x1="131.50" y1="615.40" x2="131.50" y2="617.90" stroke="#1c1c1c" stroke-width="1.00"/>
<text transform="translate(125.12,629.40) scale(1.130,1)" font-size="10.40" fill="#1c1c1c">15</text>
<line x1="160.50" y1="615.40" x2="160.50" y2="617.90" stroke="#1c1c1c" stroke-width="1.00"/>
<text transform="translate(153.69,629.40) scale(1.130,1)" font-size="10.40" fill="#1c1c1c">20</text>
<line x1="188.50" y1="615.40" x2="188.50" y2="617.90" stroke="#1c1c1c" stroke-width="1.00"/>
<text transform="translate(182.17,629.40) scale(1.130,1)" font-size="10.40" fill="#1c1c1c">25</text>
<line x1="217.50" y1="615.40" x2="217.50" y2="617.90" stroke="#1c1c1c" stroke-width="1.00"/>
<text transform="translate(210.65,629.40) scale(1.130,1)" font-size="10.40" fill="#1c1c1c">30</text>
<text transform="translate(101.24,645.40) scale(1.170,1)" font-size="11.01" fill="#1c1c1c">Time (min)</text>
<text transform="translate(16.80,527.53) rotate(-90) scale(1.185,1)" font-size="10.76" fill="#1c1c1c">nM Thrombin</text>
<line x1="104.80" y1="395.50" x2="116.80" y2="395.50" stroke="#333" stroke-width="1.00"/>
<text transform="translate(119.04,399.00) scale(1.095,1)" font-size="10.57" fill="#1c1c1c">0 nM</text>
<line x1="154.40" y1="395.50" x2="166.80" y2="395.50" stroke="#555" stroke-width="1.00"/>
<text transform="translate(170.06,399.00) scale(1.050,1)" font-size="10.72" fill="#1c1c1c">15 nM</text>
<line x1="104.80" y1="405.00" x2="116.80" y2="405.00" stroke="#222" stroke-width="1.60"/>
<text transform="translate(119.04,408.70) scale(1.083,1)" font-size="10.71" fill="#1c1c1c">30 nM</text>
<line x1="104.80" y1="414.50" x2="116.80" y2="414.50" stroke="#333" stroke-width="1.00"/>
<text transform="translate(118.92,418.00) scale(1.087,1)" font-size="10.71" fill="#1c1c1c">60 nM</text>
<line x1="104.80" y1="427.30" x2="116.80" y2="427.30" stroke="#555" stroke-width="1.30"/>
<text transform="translate(119.18,430.70) scale(1.078,1)" font-size="10.71" fill="#1c1c1c">90 nM</text>
<line x1="155.40" y1="427.30" x2="167.40" y2="427.30" stroke="#666" stroke-width="1.30"/>
<text transform="translate(169.51,430.70) scale(1.093,1)" font-size="10.87" fill="#1c1c1c">110 nM</text>
<polyline points="46.5,615.4 47.1,615.4 47.6,615.4 48.2,615.4 48.8,615.4 49.3,615.4 49.9,615.4 50.5,615.4 51.1,615.4 51.6,615.4 52.2,615.4 52.8,615.4 53.3,615.4 53.9,615.4 54.5,615.4 55.0,615.4 55.6,615.4 56.2,615.4 56.7,615.4 57.3,615.4 57.9,615.4 58.4,615.4 59.0,615.4 59.6,615.4 60.2,615.4 60.7,615.4 61.3,615.4 61.9,615.4 62.4,615.4 63.0,615.4 63.6,615.4 64.1,615.3 64.7,615.3 65.3,615.2 65.8,615.1 66.4,615.0 67.0,614.7 67.6,614.4 68.1,614.0 68.7,613.4 69.3,612.5 69.8,611.3 70.4,609.8 71.0,607.7 71.5,605.0 72.1,601.6 72.7,597.4 73.2,592.2 73.8,585.8 74.4,578.2 75.0,569.4 75.5,559.2 76.1,547.7 76.7,534.9 77.2,521.1 77.8,506.5 78.4,491.3 78.9,475.9 79.5,460.8 80.1,446.5 80.6,433.3 81.2,421.8 81.8,412.5 82.3,405.6 82.9,401.5 83.4,400.3 83.5,401.1 84.1,409.7 84.6,417.9 85.2,425.8 85.8,433.4 86.3,440.7 86.9,447.7 87.5,454.4 88.0,460.8 88.6,467.0 89.2,472.9 89.7,478.6 90.3,484.1 90.9,489.4 91.5,494.4 92.0,499.2 92.6,503.9 93.2,508.3 93.7,512.6 94.3,516.7 94.9,520.7 95.4,524.5 96.0,528.1 96.6,531.6 97.1,535.0 97.7,537.1 98.3,541.0 98.8,544.6 99.4,548.3 100.0,552.2 100.6,555.9 101.1,556.3 101.7,556.8 102.3,558.4 102.8,561.1 103.4,563.7 104.0,567.6 104.5,571.2 105.1,573.0 105.7,573.3 106.2,573.5 106.8,574.9 107.4,576.3 108.0,577.7 108.5,579.1 109.1,580.5 109.7,580.6 110.2,580.7 110.8,582.5 111.4,585.8 111.9,588.7 112.5,589.3 113.1,589.9 113.6,590.5 114.2,591.2 114.8,591.9 115.3,593.1 115.9,594.3 116.5,595.3 117.1,596.2 117.6,597.0 118.2,597.5 118.8,598.0 119.3,598.7 119.9,599.6 120.5,600.4 121.0,599.8 121.6,599.2 122.2,599.6 122.7,601.0 123.3,602.3 123.9,602.5 124.5,602.7 125.0,603.2 125.6,603.8 126.2,604.3 126.7,603.9 127.3,603.5 127.9,603.9 128.4,605.3 129.0,606.6 129.6,606.9 130.1,607.1 130.7,607.4 131.3,607.7 131.8,608.1 132.4,607.7 133.0,607.2 133.6,606.6 134.1,605.9 134.7,605.2 135.3,607.1 135.8,609.0 136.4,610.0 137.0,610.1 137.5,610.3 138.1,610.7 138.7,611.1 139.2,611.4 139.8,611.6 140.4,611.8 141.0,611.8 141.5,611.8 142.1,611.9 142.7,612.1 143.2,612.3 143.8,612.1 144.4,611.8 144.9,611.7 145.5,611.8 146.1,611.8 146.6,612.3 147.2,612.7 147.8,612.9 148.4,612.9 148.9,612.8 149.5,612.9 150.1,613.0 150.6,613.1 151.2,612.9 151.8,612.8 152.3,612.8 152.9,612.8 153.5,613.0 154.0,613.5 154.6,613.9 155.2,613.7 155.7,613.4 156.3,612.8 156.9,611.8 157.5,610.9 158.0,609.9 158.6,609.0 159.2,609.7 159.7,612.0 160.3,614.2 160.9,613.9 161.4,613.6 162.0,613.5 162.6,613.7 163.1,613.8 163.7,614.0 164.3,614.1 164.9,614.3 165.4,614.3 166.0,614.3 166.6,614.2 167.1,614.1 167.7,613.9 168.3,613.4 168.8,613.0 169.4,613.6 170.0,614.2 170.5,614.4 171.1,614.0 171.7,613.7 172.2,614.2 172.8,614.6 173.4,614.7 174.0,614.4 174.5,614.0 175.1,614.0 175.7,613.9 176.2,614.1 176.8,614.5 177.4,615.0 177.9,614.8 178.5,614.6 179.1,614.5 179.6,614.5 180.2,614.5 180.8,614.5 181.4,614.6 181.9,614.6 182.5,614.5 183.1,614.4 183.6,614.5 184.2,614.6 184.8,614.8 185.3,614.9 185.9,615.1 186.5,614.7 187.0,614.4 187.6,614.4 188.2,614.7 188.8,614.9 189.3,614.4 189.9,613.8 190.5,613.7 191.0,614.1 191.6,614.4 192.2,614.3 192.7,614.1 193.3,614.3 193.9,614.7 194.4,615.0 195.0,615.2 195.6,615.3 196.1,615.0 196.7,614.4 197.3,613.8 197.9,614.0 198.4,614.3 199.0,614.5 199.6,614.7 200.1,615.0 200.7,614.6 201.3,614.3 201.8,614.3 202.4,614.6 203.0,614.9 203.5,615.0 204.1,615.1 204.7,615.1 205.3,614.9 205.8,614.8 206.4,614.8 207.0,614.8 207.5,614.8 208.1,614.7 208.7,614.6 209.2,614.9 209.8,615.2 210.4,615.3 210.9,615.2 211.5,615.1 212.1,615.2 212.6,615.2 213.2,615.2 213.8,614.9 214.4,614.7 214.9,614.7 215.5,614.6 216.1,614.7 216.6,614.8 217.2,614.9" fill="none" stroke="#1c1c1c" stroke-width="1.00" stroke-linejoin="round"/>
<polyline points="46.5,615.4 47.1,615.4 47.6,615.4 48.2,615.4 48.8,615.4 49.3,615.4 49.9,615.4 50.5,615.4 51.1,615.4 51.6,615.4 52.2,615.4 52.8,615.4 53.3,615.4 53.9,615.4 54.5,615.4 55.0,615.4 55.6,615.4 56.2,615.4 56.7,615.4 57.3,615.4 57.9,615.4 58.4,615.4 59.0,615.4 59.6,615.4 60.2,615.4 60.7,615.4 61.3,615.4 61.9,615.4 62.4,615.4 63.0,615.4 63.6,615.4 64.1,615.3 64.7,615.3 65.3,615.2 65.8,615.1 66.4,615.0 67.0,614.8 67.6,614.5 68.1,614.1 68.7,613.6 69.3,612.8 69.8,611.8 70.4,610.4 71.0,608.5 71.5,606.2 72.1,603.2 72.7,599.4 73.2,594.8 73.8,589.1 74.4,582.4 75.0,574.4 75.5,565.3 76.1,554.9 76.7,543.4 77.2,530.8 77.8,517.3 78.4,503.2 78.9,488.8 79.5,474.4 80.1,460.5 80.6,447.5 81.2,435.8 81.8,425.9 82.3,418.1 82.9,412.8 83.5,410.0 83.8,409.7 84.1,413.6 84.6,421.2 85.2,428.5 85.8,435.6 86.3,442.4 86.9,448.9 87.5,455.2 88.0,461.2 88.6,467.0 89.2,472.6 89.7,478.0 90.3,483.2 90.9,488.2 91.5,493.0 92.0,497.6 92.6,502.1 93.2,506.3 93.7,510.5 94.3,514.4 94.9,518.2 95.4,521.9 96.0,525.4 96.6,528.8 97.1,532.1 97.7,525.6 98.3,534.8 98.8,543.5 99.4,547.4 100.0,546.9 100.6,546.5 101.1,552.4 101.7,557.8 102.3,559.7 102.8,558.3 103.4,557.2 104.0,560.8 104.5,564.3 105.1,567.3 105.7,569.6 106.2,571.9 106.8,572.1 107.4,572.3 108.0,573.4 108.5,575.4 109.1,577.3 109.7,579.2 110.2,581.0 110.8,582.1 111.4,582.7 111.9,583.2 112.5,585.4 113.1,587.5 113.6,588.2 114.2,587.6 114.8,587.1 115.3,589.3 115.9,591.4 116.5,592.5 117.1,592.6 117.6,592.7 118.2,593.5 118.8,594.3 119.3,595.4 119.9,596.8 120.5,598.0 121.0,599.0 121.6,599.9 122.2,600.5 122.7,600.7 123.3,600.9 123.9,601.2 124.5,601.6 125.0,602.0 125.6,602.3 126.2,602.6 126.7,602.1 127.3,601.7 127.9,602.1 128.4,603.4 129.0,604.6 129.6,605.4 130.1,606.2 130.7,606.5 131.3,606.2 131.8,605.9 132.4,607.1 133.0,608.2 133.6,608.7 134.1,608.5 134.7,608.4 135.3,608.4 135.8,608.3 136.4,608.6 137.0,609.1 137.5,609.7 138.1,609.6 138.7,609.5 139.2,608.6 139.8,607.0 140.4,605.4 141.0,607.7 141.5,610.0 142.1,611.2 142.7,611.5 143.2,611.8 143.8,611.6 144.4,611.5 144.9,611.3 145.5,611.1 146.1,610.9 146.6,609.6 147.2,608.4 147.8,608.5 148.4,610.1 148.9,611.6 149.5,612.2 150.1,612.7 150.6,612.8 151.2,612.5 151.8,612.2 152.3,612.6 152.9,613.0 153.5,613.2 154.0,613.2 154.6,613.3 155.2,613.5 155.7,613.8 156.3,613.0 156.9,611.4 157.5,609.7 158.0,611.3 158.6,612.8 159.2,613.6 159.7,613.6 160.3,613.6 160.9,613.9 161.4,614.2 162.0,614.1 162.6,613.5 163.1,612.9 163.7,613.3 164.3,613.6 164.9,613.9 165.4,614.1 166.0,614.3 166.6,614.2 167.1,614.2 167.7,614.2 168.3,614.3 168.8,614.5 169.4,614.6 170.0,614.6 170.5,614.6 171.1,614.4 171.7,614.3 172.2,614.4 172.8,614.5 173.4,614.6 174.0,614.7 174.5,614.7 175.1,614.4 175.7,614.1 176.2,614.1 176.8,614.6 177.4,615.0 177.9,615.0 178.5,615.0 179.1,614.9 179.6,614.9 180.2,614.8 180.8,614.7 181.4,614.5 181.9,614.5 182.5,614.5 183.1,614.6 183.6,614.7 184.2,614.9 184.8,615.0 185.3,614.9 185.9,614.9 186.5,614.6 187.0,614.2 187.6,614.2 188.2,614.4 188.8,614.6 189.3,614.9 189.9,615.1 190.5,615.2 191.0,615.1 191.6,615.0 192.2,614.9 192.7,614.8 193.3,614.8 193.9,615.0 194.4,615.1 195.0,615.1 195.6,615.0 196.1,615.0 196.7,615.0 197.3,614.9 197.9,614.8 198.4,614.7 199.0,614.7 199.6,614.8 200.1,615.0 200.7,615.0 201.3,615.1 201.8,615.0 202.4,614.7 203.0,614.5 203.5,614.7 204.1,614.9 204.7,615.1 205.3,615.2 205.8,615.2 206.4,615.0 207.0,614.7 207.5,614.5 208.1,614.2 208.7,613.9 209.2,614.1 209.8,614.4 210.4,614.4 210.9,614.3 211.5,614.2 212.1,614.1 212.6,614.0 213.2,614.2 213.8,614.7 214.4,615.3 214.9,615.1 215.5,614.9 216.1,614.7 216.6,614.5 217.2,614.3" fill="none" stroke="#333" stroke-width="1.00" stroke-linejoin="round"/>
<polyline points="46.5,615.4 47.1,615.4 47.6,615.4 48.2,615.4 48.8,615.4 49.3,615.4 49.9,615.4 50.5,615.4 51.1,615.4 51.6,615.4 52.2,615.4 52.8,615.4 53.3,615.4 53.9,615.4 54.5,615.4 55.0,615.4 55.6,615.4 56.2,615.4 56.7,615.4 57.3,615.4 57.9,615.4 58.4,615.4 59.0,615.4 59.6,615.4 60.2,615.4 60.7,615.4 61.3,615.4 61.9,615.4 62.4,615.4 63.0,615.4 63.6,615.4 64.1,615.3 64.7,615.3 65.3,615.2 65.8,615.2 66.4,615.0 67.0,614.8 67.6,614.6 68.1,614.2 68.7,613.6 69.3,612.9 69.8,611.9 70.4,610.5 71.0,608.7 71.5,606.4 72.1,603.4 72.7,599.7 73.2,595.1 73.8,589.5 74.4,582.8 75.0,574.9 75.5,565.9 76.1,555.7 76.7,544.4 77.2,532.1 77.8,519.0 78.4,505.4 78.9,491.6 79.5,478.0 80.1,465.1 80.6,453.1 81.2,442.7 81.8,434.0 82.3,427.6 82.9,423.7 83.5,422.4 84.1,429.4 84.6,436.1 85.2,442.7 85.8,448.9 86.3,455.0 86.9,460.8 87.5,466.4 88.0,471.9 88.6,477.1 89.2,482.1 89.7,487.0 90.3,491.6 90.9,496.1 91.5,500.5 92.0,504.6 92.6,508.7 93.2,512.5 93.7,516.3 94.3,519.9 94.9,523.4 95.4,526.7 96.0,529.9 96.6,533.0 97.1,536.0 97.7,537.0 98.3,539.4 98.8,541.8 99.4,543.1 100.0,543.5 100.6,543.9 101.1,550.4 101.7,556.4 102.3,561.0 102.8,564.2 103.4,567.2 104.0,568.5 104.5,569.8 105.1,570.1 105.7,569.5 106.2,569.1 106.8,570.7 107.4,572.3 108.0,574.4 108.5,576.9 109.1,579.4 109.7,579.3 110.2,579.3 110.8,580.2 111.4,581.9 111.9,583.5 112.5,584.9 113.1,586.3 113.6,587.7 114.2,589.2 114.8,590.7 115.3,592.4 115.9,594.1 116.5,594.7 117.1,594.3 117.6,594.0 118.2,594.3 118.8,594.7 119.3,595.4 119.9,596.6 120.5,597.7 121.0,598.4 121.6,599.1 122.2,599.6 122.7,599.9 123.3,600.1 123.9,601.2 124.5,602.4 125.0,603.0 125.6,602.9 126.2,602.9 126.7,603.0 127.3,603.2 127.9,603.8 128.4,604.7 129.0,605.7 129.6,605.8 130.1,605.9 130.7,606.0 131.3,606.2 131.8,606.4 132.4,605.8 133.0,605.2 133.6,605.5 134.1,606.5 134.7,607.6 135.3,608.4 135.8,609.2 136.4,609.6 137.0,609.8 137.5,610.0 138.1,609.9 138.7,609.8 139.2,609.8 139.8,609.8 140.4,609.8 141.0,609.7 141.5,609.6 142.1,609.7 142.7,610.2 143.2,610.6 143.8,611.1 144.4,611.5 144.9,611.6 145.5,611.4 146.1,611.2 146.6,610.2 147.2,609.3 147.8,609.4 148.4,610.6 148.9,611.9 149.5,611.7 150.1,611.6 150.6,611.8 151.2,612.4 151.8,613.0 152.3,613.0 152.9,613.0 153.5,612.8 154.0,612.5 154.6,612.1 155.2,611.9 155.7,611.6 156.3,611.7 156.9,612.2 157.5,612.7 158.0,613.1 158.6,613.5 159.2,613.6 159.7,613.4 160.3,613.2 160.9,613.1 161.4,613.0 162.0,613.1 162.6,613.5 163.1,613.9 163.7,613.9 164.3,614.0 164.9,614.1 165.4,614.2 166.0,614.3 166.6,614.0 167.1,613.7 167.7,613.8 168.3,614.2 168.8,614.6 169.4,614.5 170.0,614.4 170.5,614.5 171.1,614.6 171.7,614.7 172.2,614.7 172.8,614.8 173.4,614.5 174.0,614.1 174.5,613.6 175.1,613.8 175.7,614.0 176.2,614.2 176.8,614.5 177.4,614.7 177.9,614.8 178.5,614.8 179.1,614.8 179.6,614.8 180.2,614.7 180.8,614.6 181.4,614.5 181.9,614.4 182.5,614.3 183.1,614.3 183.6,614.4 184.2,614.5 184.8,614.6 185.3,614.5 185.9,614.4 186.5,614.1 187.0,613.8 187.6,613.5 188.2,613.2 188.8,612.9 189.3,613.7 189.9,614.5 190.5,614.9 191.0,615.0 191.6,615.2 192.2,615.0 192.7,614.9 193.3,614.6 193.9,614.0 194.4,613.5 195.0,613.7 195.6,613.9 196.1,614.2 196.7,614.5 197.3,614.9 197.9,614.8 198.4,614.7 199.0,614.5 199.6,614.1 200.1,613.8 200.7,613.9 201.3,614.1 201.8,614.3 202.4,614.7 203.0,615.0 203.5,614.8 204.1,614.5 204.7,614.5 205.3,614.5 205.8,614.6 206.4,614.6 207.0,614.7 207.5,614.8 208.1,615.0 208.7,615.2 209.2,615.2 209.8,615.3 210.4,615.3 210.9,615.2 211.5,615.2 212.1,615.1 212.6,614.9 213.2,614.9 213.8,614.8 214.4,614.8 214.9,614.8 215.5,614.8 216.1,614.7 216.6,614.5 217.2,614.3" fill="none" stroke="#1c1c1c" stroke-width="1.90" stroke-linejoin="round"/>
<polyline points="46.5,615.4 47.1,615.4 47.6,615.4 48.2,615.4 48.8,615.4 49.3,615.4 49.9,615.4 50.5,615.4 51.1,615.4 51.6,615.4 52.2,615.4 52.8,615.4 53.3,615.4 53.9,615.4 54.5,615.4 55.0,615.4 55.6,615.4 56.2,615.4 56.7,615.4 57.3,615.4 57.9,615.4 58.4,615.4 59.0,615.4 59.6,615.4 60.2,615.4 60.7,615.4 61.3,615.4 61.9,615.4 62.4,615.4 63.0,615.4 63.6,615.4 64.1,615.3 64.7,615.3 65.3,615.2 65.8,615.1 66.4,615.0 67.0,614.8 67.6,614.6 68.1,614.2 68.7,613.7 69.3,613.1 69.8,612.2 70.4,611.0 71.0,609.4 71.5,607.4 72.1,604.9 72.7,601.7 73.2,597.9 73.8,593.2 74.4,587.6 75.0,581.1 75.5,573.5 76.1,565.0 76.7,555.5 77.2,545.1 77.8,534.0 78.4,522.2 78.9,510.2 79.5,498.1 80.1,486.3 80.6,475.1 81.2,464.8 81.8,455.9 82.3,448.6 82.9,443.2 83.5,439.8 84.1,438.7 84.6,444.5 85.2,450.1 85.8,455.5 86.3,460.8 86.9,465.8 87.5,470.7 88.0,475.5 88.6,480.1 89.2,484.5 89.7,488.8 90.3,492.9 90.9,497.0 91.5,500.8 92.0,504.6 92.6,508.2 93.2,511.7 93.7,515.1 94.3,518.4 94.9,521.6 95.4,524.7 96.0,527.7 96.6,530.5 97.1,533.3 97.7,537.3 98.3,541.8 98.8,546.0 99.4,548.4 100.0,549.0 100.6,549.7 101.1,551.4 101.7,553.1 102.3,554.1 102.8,554.6 103.4,555.2 104.0,557.0 104.5,558.7 105.1,562.9 105.7,569.2 106.2,575.1 106.8,573.9 107.4,572.9 108.0,573.4 108.5,575.3 109.1,577.2 109.7,577.0 110.2,576.9 110.8,577.7 111.4,579.4 111.9,581.1 112.5,582.0 113.1,582.9 113.6,583.3 114.2,583.2 114.8,583.2 115.3,584.9 115.9,586.5 116.5,588.0 117.1,589.3 117.6,590.6 118.2,591.6 118.8,592.6 119.3,593.0 119.9,593.0 120.5,592.9 121.0,593.8 121.6,594.7 122.2,595.2 122.7,595.4 123.3,595.6 123.9,596.5 124.5,597.4 125.0,598.4 125.6,599.3 126.2,600.3 126.7,600.0 127.3,599.7 127.9,599.9 128.4,600.4 129.0,600.9 129.6,601.4 130.1,601.9 130.7,602.4 131.3,603.0 131.8,603.5 132.4,604.3 133.0,605.2 133.6,605.4 134.1,605.2 134.7,605.0 135.3,605.5 135.8,605.9 136.4,606.6 137.0,607.5 137.5,608.4 138.1,607.6 138.7,606.9 139.2,606.8 139.8,607.6 140.4,608.3 141.0,607.6 141.5,606.8 142.1,607.1 142.7,608.5 143.2,609.9 143.8,609.7 144.4,609.5 144.9,609.6 145.5,609.9 146.1,610.2 146.6,610.2 147.2,610.2 147.8,610.2 148.4,610.2 148.9,610.1 149.5,610.5 150.1,610.9 150.6,611.1 151.2,611.2 151.8,611.3 152.3,611.2 152.9,611.1 153.5,611.1 154.0,611.1 154.6,611.2 155.2,611.7 155.7,612.2 156.3,612.1 156.9,611.4 157.5,610.7 158.0,611.5 158.6,612.3 159.2,612.7 159.7,612.7 160.3,612.6 160.9,612.9 161.4,613.2 162.0,613.0 162.6,612.3 163.1,611.7 163.7,612.2 164.3,612.7 164.9,613.0 165.4,613.2 166.0,613.3 166.6,612.8 167.1,612.3 167.7,612.4 168.3,613.0 168.8,613.7 169.4,613.7 170.0,613.7 170.5,613.7 171.1,613.5 171.7,613.4 172.2,613.7 172.8,613.9 173.4,614.0 174.0,613.9 174.5,613.8 175.1,614.0 175.7,614.2 176.2,614.4 176.8,614.4 177.4,614.4 177.9,614.2 178.5,614.0 179.1,613.9 179.6,613.8 180.2,613.6 180.8,613.3 181.4,613.0 181.9,613.1 182.5,613.7 183.1,614.2 183.6,614.3 184.2,614.5 184.8,614.6 185.3,614.7 185.9,614.8 186.5,614.3 187.0,613.8 187.6,613.8 188.2,614.2 188.8,614.6 189.3,614.3 189.9,614.0 190.5,613.9 191.0,614.0 191.6,614.1 192.2,614.3 192.7,614.5 193.3,614.6 193.9,614.6 194.4,614.6 195.0,614.0 195.6,613.4 196.1,613.3 196.7,613.8 197.3,614.3 197.9,614.4 198.4,614.5 199.0,614.5 199.6,614.5 200.1,614.5 200.7,614.4 201.3,614.3 201.8,614.4 202.4,614.5 203.0,614.7 203.5,614.6 204.1,614.6 204.7,614.5 205.3,614.4 205.8,614.2 206.4,614.1 207.0,613.9 207.5,613.9 208.1,614.2 208.7,614.5 209.2,614.3 209.8,614.0 210.4,614.0 210.9,614.1 211.5,614.3 212.1,614.6 212.6,615.0 213.2,615.2 213.8,615.2 214.4,615.2 214.9,614.9 215.5,614.6 216.1,613.9 216.6,612.7 217.2,611.6" fill="none" stroke="#444" stroke-width="1.00" stroke-linejoin="round"/>
<polyline points="46.5,615.4 47.1,615.4 47.6,615.4 48.2,615.4 48.8,615.4 49.3,615.4 49.9,615.4 50.5,615.4 51.1,615.4 51.6,615.4 52.2,615.4 52.8,615.4 53.3,615.4 53.9,615.4 54.5,615.4 55.0,615.4 55.6,615.4 56.2,615.4 56.7,615.4 57.3,615.4 57.9,615.4 58.4,615.4 59.0,615.4 59.6,615.4 60.2,615.4 60.7,615.4 61.3,615.4 61.9,615.4 62.4,615.4 63.0,615.4 63.6,615.4 64.1,615.3 64.7,615.3 65.3,615.2 65.8,615.2 66.4,615.0 67.0,614.9 67.6,614.6 68.1,614.3 68.7,613.8 69.3,613.1 69.8,612.1 70.4,610.9 71.0,609.3 71.5,607.2 72.1,604.5 72.7,601.1 73.2,596.9 73.8,591.9 74.4,585.9 75.0,578.8 75.5,570.6 76.1,561.3 76.7,551.0 77.2,539.7 77.8,527.7 78.4,515.0 78.9,502.1 79.5,489.3 80.1,476.8 80.6,465.2 81.2,454.8 81.8,445.9 82.3,438.9 82.9,434.1 83.5,431.7 83.8,431.4 84.1,434.6 84.6,440.8 85.2,446.8 85.8,452.6 86.3,458.2 86.9,463.7 87.5,468.9 88.0,473.9 88.6,478.8 89.2,483.5 89.7,488.1 90.3,492.5 90.9,496.7 91.5,500.8 92.0,504.7 92.6,508.6 93.2,512.2 93.7,515.8 94.3,519.2 94.9,522.5 95.4,525.8 96.0,528.8 96.6,531.8 97.1,534.7 97.7,535.2 98.3,539.0 98.8,542.7 99.4,543.8 100.0,542.6 100.6,541.5 101.1,546.0 101.7,550.2 102.3,553.7 102.8,556.6 103.4,559.3 104.0,561.1 104.5,562.8 105.1,564.9 105.7,567.4 106.2,569.8 106.8,571.6 107.4,573.2 108.0,574.5 108.5,575.3 109.1,576.1 109.7,578.2 110.2,580.3 110.8,580.9 111.4,580.0 111.9,579.3 112.5,580.7 113.1,582.0 113.6,583.6 114.2,585.7 114.8,587.6 115.3,589.4 115.9,591.2 116.5,592.1 117.1,592.3 117.6,592.5 118.2,594.2 118.8,595.9 119.3,596.4 119.9,596.0 120.5,595.6 121.0,595.8 121.6,595.9 122.2,596.9 122.7,598.6 123.3,600.3 123.9,600.0 124.5,599.7 125.0,600.0 125.6,600.8 126.2,601.6 126.7,601.8 127.3,602.1 127.9,602.7 128.4,603.7 129.0,604.6 129.6,603.9 130.1,603.3 130.7,603.5 131.3,604.6 131.8,605.6 132.4,605.7 133.0,605.8 133.6,606.0 134.1,606.4 134.7,606.8 135.3,606.8 135.8,606.8 136.4,607.1 137.0,607.7 137.5,608.2 138.1,607.9 138.7,607.6 139.2,607.9 139.8,608.6 140.4,609.3 141.0,609.8 141.5,610.3 142.1,610.4 142.7,610.3 143.2,610.3 143.8,610.2 144.4,610.2 144.9,610.3 145.5,610.6 146.1,610.8 146.6,610.9 147.2,610.9 147.8,611.1 148.4,611.4 148.9,611.7 149.5,611.9 150.1,612.1 150.6,612.3 151.2,612.3 151.8,612.3 152.3,612.3 152.9,612.2 153.5,612.0 154.0,611.7 154.6,611.4 155.2,612.0 155.7,612.7 156.3,613.0 156.9,613.1 157.5,613.2 158.0,613.3 158.6,613.4 159.2,613.4 159.7,613.2 160.3,613.1 160.9,613.0 161.4,612.9 162.0,612.9 162.6,613.0 163.1,613.1 163.7,613.3 164.3,613.5 164.9,613.6 165.4,613.8 166.0,613.9 166.6,613.1 167.1,612.3 167.7,612.3 168.3,613.2 168.8,614.1 169.4,614.1 170.0,614.1 170.5,613.9 171.1,613.5 171.7,613.2 172.2,613.6 172.8,614.0 173.4,614.1 174.0,613.9 174.5,613.8 175.1,613.8 175.7,613.7 176.2,613.9 176.8,614.3 177.4,614.6 177.9,614.6 178.5,614.6 179.1,614.4 179.6,613.9 180.2,613.5 180.8,614.0 181.4,614.6 181.9,614.8 182.5,614.8 183.1,614.8 183.6,614.4 184.2,613.9 184.8,613.7 185.3,613.8 185.9,613.8 186.5,614.3 187.0,614.7 187.6,614.7 188.2,614.1 188.8,613.6 189.3,613.5 189.9,613.5 190.5,613.7 191.0,614.2 191.6,614.6 192.2,614.4 192.7,614.1 193.3,614.2 193.9,614.7 194.4,615.1 195.0,615.0 195.6,614.9 196.1,614.9 196.7,615.0 197.3,615.1 197.9,615.0 198.4,614.9 199.0,614.8 199.6,614.8 200.1,614.7 200.7,614.9 201.3,615.1 201.8,615.1 202.4,614.8 203.0,614.5 203.5,614.6 204.1,614.7 204.7,614.6 205.3,614.4 205.8,614.1 206.4,614.3 207.0,614.6 207.5,614.5 208.1,614.0 208.7,613.5 209.2,614.0 209.8,614.5 210.4,614.7 210.9,614.8 211.5,614.8 212.1,614.9 212.6,615.0 213.2,615.0 213.8,614.9 214.4,614.7 214.9,614.6 215.5,614.5 216.1,614.5 216.6,614.5 217.2,614.5" fill="none" stroke="#333" stroke-width="1.00" stroke-linejoin="round"/>
<polyline points="46.5,615.4 47.1,615.4 47.6,615.4 48.2,615.4 48.8,615.4 49.3,615.4 49.9,615.4 50.5,615.4 51.1,615.4 51.6,615.4 52.2,615.4 52.8,615.4 53.3,615.4 53.9,615.4 54.5,615.4 55.0,615.4 55.6,615.4 56.2,615.4 56.7,615.4 57.3,615.4 57.9,615.4 58.4,615.4 59.0,615.4 59.6,615.4 60.2,615.4 60.7,615.4 61.3,615.4 61.9,615.4 62.4,615.4 63.0,615.4 63.6,615.4 64.1,615.3 64.7,615.3 65.3,615.2 65.8,615.1 66.4,615.0 67.0,614.8 67.6,614.5 68.1,614.1 68.7,613.6 69.3,612.8 69.8,611.7 70.4,610.3 71.0,608.4 71.5,606.0 72.1,602.9 72.7,599.1 73.2,594.3 73.8,588.5 74.4,581.5 75.0,573.4 75.5,564.0 76.1,553.4 76.7,541.7 77.2,528.9 77.8,515.3 78.4,501.2 78.9,486.9 79.5,472.8 80.1,459.3 80.6,446.9 81.2,436.1 81.8,427.1 82.3,420.5 82.9,416.4 83.5,415.0 84.1,422.7 84.6,430.1 85.2,437.2 85.8,444.1 86.3,450.7 86.9,457.0 87.5,463.1 88.0,469.0 88.6,474.6 89.2,480.0 89.7,485.2 90.3,490.2 90.9,495.0 91.5,499.7 92.0,504.1 92.6,508.4 93.2,512.5 93.7,516.5 94.3,520.3 94.9,523.9 95.4,527.4 96.0,530.8 96.6,534.1 97.1,537.2 97.7,545.8 98.3,544.3 98.8,543.0 99.4,543.8 100.0,546.5 100.6,549.1 101.1,551.2 101.7,553.3 102.3,556.0 102.8,559.2 103.4,562.3 104.0,564.7 104.5,567.0 105.1,570.2 105.7,574.1 106.2,577.8 106.8,578.5 107.4,579.2 108.0,579.7 108.5,580.2 109.1,580.7 109.7,583.6 110.2,586.3 110.8,587.3 111.4,586.6 111.9,585.9 112.5,587.3 113.1,588.5 113.6,590.0 114.2,591.7 114.8,593.4 115.3,593.9 115.9,594.3 116.5,594.6 117.1,594.7 117.6,594.8 118.2,596.1 118.8,597.4 119.3,597.9 119.9,597.7 120.5,597.5 121.0,599.0 121.6,600.4 122.2,601.6 122.7,602.4 123.3,603.2 123.9,603.2 124.5,603.1 125.0,602.9 125.6,602.6 126.2,602.2 126.7,603.6 127.3,604.9 127.9,605.5 128.4,605.4 129.0,605.4 129.6,605.9 130.1,606.3 130.7,606.8 131.3,607.4 131.8,607.9 132.4,608.4 133.0,608.8 133.6,608.9 134.1,608.5 134.7,608.3 135.3,609.3 135.8,610.2 136.4,610.5 137.0,610.2 137.5,609.9 138.1,610.1 138.7,610.2 139.2,610.2 139.8,610.0 140.4,609.8 141.0,610.7 141.5,611.5 142.1,611.9 142.7,611.9 143.2,611.8 143.8,612.1 144.4,612.3 144.9,612.3 145.5,612.1 146.1,612.0 146.6,612.3 147.2,612.6 147.8,612.7 148.4,612.8 148.9,612.9 149.5,612.8 150.1,612.7 150.6,612.3 151.2,611.6 151.8,610.8 152.3,611.4 152.9,612.1 153.5,612.5 154.0,612.8 154.6,613.1 155.2,613.0 155.7,612.8 156.3,612.9 156.9,613.2 157.5,613.5 158.0,613.6 158.6,613.7 159.2,613.8 159.7,613.9 160.3,614.0 160.9,612.1 161.4,610.2 162.0,609.8 162.6,611.1 163.1,612.4 163.7,613.0 164.3,613.6 164.9,613.9 165.4,613.9 166.0,613.9 166.6,613.9 167.1,613.9 167.7,613.9 168.3,613.8 168.8,613.7 169.4,612.6 170.0,611.4 170.5,611.6 171.1,613.0 171.7,614.4 172.2,614.6 172.8,614.9 173.4,614.9 174.0,614.6 174.5,614.4 175.1,614.6 175.7,614.8 176.2,614.9 176.8,615.0 177.4,615.0 177.9,614.7 178.5,614.4 179.1,614.5 179.6,614.8 180.2,615.1 180.8,614.6 181.4,614.0 181.9,613.8 182.5,613.9 183.1,613.9 183.6,614.4 184.2,614.9 184.8,615.1 185.3,614.8 185.9,614.6 186.5,614.8 187.0,615.0 187.6,615.0 188.2,614.9 188.8,614.7 189.3,614.7 189.9,614.7 190.5,614.5 191.0,614.3 191.6,614.0 192.2,614.4 192.7,614.8 193.3,615.0 193.9,614.9 194.4,614.8 195.0,614.6 195.6,614.4 196.1,614.2 196.7,613.9 197.3,613.6 197.9,613.8 198.4,614.1 199.0,614.3 199.6,614.6 200.1,614.9 200.7,614.9 201.3,615.0 201.8,615.0 202.4,615.0 203.0,615.0 203.5,614.7 204.1,614.4 204.7,614.3 205.3,614.4 205.8,614.5 206.4,614.7 207.0,614.8 207.5,614.8 208.1,614.6 208.7,614.4 209.2,614.4 209.8,614.5 210.4,614.5 210.9,614.3 211.5,614.2 212.1,614.7 212.6,615.1 213.2,615.3 213.8,615.1 214.4,615.0 214.9,614.9 215.5,614.8 216.1,614.7 216.6,614.8 217.2,614.8" fill="none" stroke="#333" stroke-width="1.00" stroke-linejoin="round"/>
<line x1="314.50" y1="369.50" x2="314.50" y2="615.90" stroke="#1c1c1c" stroke-width="1.10"/>
<line x1="314.10" y1="615.50" x2="486.30" y2="615.50" stroke="#1c1c1c" stroke-width="1.10"/>
<line x1="312.10" y1="615.50" x2="314.60" y2="615.50" stroke="#1c1c1c" stroke-width="1.00"/>
<text transform="translate(303.99,619.10) scale(1.130,1)" font-size="10.40" fill="#1c1c1c">0</text>
<line x1="312.10" y1="574.50" x2="314.60" y2="574.50" stroke="#1c1c1c" stroke-width="1.00"/>
<text transform="translate(290.94,578.20) scale(1.130,1)" font-size="10.40" fill="#1c1c1c">100</text>
<line x1="312.10" y1="533.50" x2="314.60" y2="533.50" stroke="#1c1c1c" stroke-width="1.00"/>
<text transform="translate(290.94,537.30) scale(1.130,1)" font-size="10.40" fill="#1c1c1c">200</text>
<line x1="312.10" y1="492.50" x2="314.60" y2="492.50" stroke="#1c1c1c" stroke-width="1.00"/>
<text transform="translate(290.94,496.40) scale(1.130,1)" font-size="10.40" fill="#1c1c1c">300</text>
<line x1="312.10" y1="451.50" x2="314.60" y2="451.50" stroke="#1c1c1c" stroke-width="1.00"/>
<text transform="translate(290.94,455.50) scale(1.130,1)" font-size="10.40" fill="#1c1c1c">400</text>
<line x1="312.10" y1="410.50" x2="314.60" y2="410.50" stroke="#1c1c1c" stroke-width="1.00"/>
<text transform="translate(290.94,414.60) scale(1.130,1)" font-size="10.40" fill="#1c1c1c">500</text>
<line x1="312.10" y1="370.50" x2="314.60" y2="370.50" stroke="#1c1c1c" stroke-width="1.00"/>
<text transform="translate(290.94,373.70) scale(1.130,1)" font-size="10.40" fill="#1c1c1c">600</text>
<line x1="314.50" y1="615.40" x2="314.50" y2="617.90" stroke="#1c1c1c" stroke-width="1.00"/>
<text transform="translate(311.31,629.40) scale(1.130,1)" font-size="10.40" fill="#1c1c1c">0</text>
<line x1="343.50" y1="615.40" x2="343.50" y2="617.90" stroke="#1c1c1c" stroke-width="1.00"/>
<text transform="translate(339.87,629.40) scale(1.130,1)" font-size="10.40" fill="#1c1c1c">5</text>
<line x1="371.50" y1="615.40" x2="371.50" y2="617.90" stroke="#1c1c1c" stroke-width="1.00"/>
<text transform="translate(364.91,629.40) scale(1.130,1)" font-size="10.40" fill="#1c1c1c">10</text>
<line x1="400.50" y1="615.40" x2="400.50" y2="617.90" stroke="#1c1c1c" stroke-width="1.00"/>
<text transform="translate(393.47,629.40) scale(1.130,1)" font-size="10.40" fill="#1c1c1c">15</text>
<line x1="428.50" y1="615.40" x2="428.50" y2="617.90" stroke="#1c1c1c" stroke-width="1.00"/>
<text transform="translate(422.12,629.40) scale(1.130,1)" font-size="10.40" fill="#1c1c1c">20</text>
<line x1="457.50" y1="615.40" x2="457.50" y2="617.90" stroke="#1c1c1c" stroke-width="1.00"/>
<text transform="translate(450.69,629.40) scale(1.130,1)" font-size="10.40" fill="#1c1c1c">25</text>
<line x1="485.50" y1="615.40" x2="485.50" y2="617.90" stroke="#1c1c1c" stroke-width="1.00"/>
<text transform="translate(479.25,629.40) scale(1.130,1)" font-size="10.40" fill="#1c1c1c">30</text>
<text transform="translate(368.44,645.40) scale(1.122,1)" font-size="11.74" fill="#1c1c1c">Time (min)</text>
<text transform="translate(285.20,527.53) rotate(-90) scale(1.201,1)" font-size="10.62" fill="#1c1c1c">nM Thrombin</text>
<line x1="388.00" y1="393.50" x2="400.80" y2="393.50" stroke="#333" stroke-width="1.00"/>
<text transform="translate(403.03,397.70) scale(1.083,1)" font-size="10.86" fill="#1c1c1c">0 nM</text>
<line x1="388.00" y1="404.50" x2="400.80" y2="404.50" stroke="#333" stroke-width="1.00"/>
<text transform="translate(402.82,408.40) scale(1.085,1)" font-size="10.87" fill="#1c1c1c">15 nM</text>
<line x1="388.00" y1="414.50" x2="400.80" y2="414.50" stroke="#333" stroke-width="1.00"/>
<text transform="translate(403.23,418.20) scale(1.072,1)" font-size="10.86" fill="#1c1c1c">30 nM</text>
<line x1="388.00" y1="452.50" x2="400.80" y2="452.50" stroke="#333" stroke-width="1.00"/>
<text transform="translate(402.92,456.40) scale(1.069,1)" font-size="10.86" fill="#1c1c1c">60 nM</text>
<line x1="388.00" y1="475.50" x2="400.80" y2="475.50" stroke="#333" stroke-width="1.00"/>
<text transform="translate(402.98,479.40) scale(1.067,1)" font-size="10.86" fill="#1c1c1c">90 nM</text>
<line x1="388.00" y1="495.50" x2="400.80" y2="495.50" stroke="#333" stroke-width="1.00"/>
<text transform="translate(402.60,499.50) scale(1.091,1)" font-size="11.01" fill="#1c1c1c">110 nM</text>
<polyline points="314.6,615.4 315.2,615.4 315.7,615.4 316.3,615.4 316.9,615.4 317.5,615.4 318.0,615.4 318.6,615.4 319.2,615.4 319.7,615.4 320.3,615.4 320.9,615.4 321.4,615.4 322.0,615.4 322.6,615.4 323.2,615.4 323.7,615.4 324.3,615.4 324.9,615.4 325.4,615.4 326.0,615.4 326.6,615.4 327.2,615.4 327.7,615.4 328.3,615.4 328.9,615.4 329.4,615.4 330.0,615.4 330.6,615.4 331.1,615.4 331.7,615.4 332.3,615.3 332.9,615.3 333.4,615.2 334.0,615.1 334.6,615.0 335.1,614.8 335.7,614.6 336.3,614.2 336.9,613.6 337.4,612.9 338.0,611.9 338.6,610.6 339.1,608.8 339.7,606.6 340.3,603.7 340.9,600.0 341.4,595.5 342.0,589.9 342.6,583.2 343.1,575.3 343.7,566.2 344.3,555.7 344.8,543.9 345.4,530.9 346.0,516.9 346.6,502.2 347.1,486.9 347.7,471.6 348.3,456.6 348.8,442.4 349.4,429.5 350.0,418.5 350.6,409.7 351.1,403.6 351.7,400.6 351.9,400.3 352.3,405.6 352.8,414.1 353.4,422.4 354.0,430.2 354.5,437.8 355.1,445.0 355.7,452.0 356.3,458.7 356.8,465.1 357.4,471.2 358.0,477.1 358.5,482.7 359.1,488.1 359.7,493.3 360.3,498.3 360.8,503.1 361.4,507.7 362.0,512.1 362.5,516.3 363.1,520.3 363.7,524.2 364.2,527.9 364.8,531.5 365.4,534.9 366.0,538.5 366.5,539.3 367.1,540.1 367.7,543.8 368.2,550.0 368.8,555.8 369.4,558.1 370.0,560.3 370.5,562.3 371.1,563.9 371.7,565.5 372.2,566.3 372.8,567.1 373.4,568.8 373.9,571.2 374.5,573.5 375.1,575.8 375.7,578.1 376.2,579.3 376.8,579.5 377.4,579.7 377.9,582.4 378.5,584.9 379.1,586.6 379.7,587.6 380.2,588.6 380.8,589.5 381.4,590.4 381.9,590.9 382.5,591.0 383.1,591.0 383.7,592.2 384.2,593.5 384.8,594.7 385.4,595.9 385.9,597.0 386.5,597.1 387.1,597.0 387.6,597.7 388.2,599.2 388.8,600.7 389.4,601.1 389.9,601.6 390.5,602.2 391.1,602.9 391.6,603.6 392.2,603.3 392.8,602.9 393.4,603.0 393.9,603.5 394.5,604.1 395.1,605.0 395.6,605.8 396.2,606.4 396.8,606.9 397.3,607.4 397.9,607.4 398.5,607.5 399.1,607.8 399.6,608.3 400.2,608.9 400.8,608.8 401.3,608.8 401.9,609.0 402.5,609.5 403.1,610.0 403.6,609.7 404.2,609.5 404.8,609.6 405.3,610.0 405.9,610.3 406.5,610.7 407.0,611.0 407.6,611.3 408.2,611.5 408.8,611.8 409.3,610.9 409.9,610.1 410.5,609.9 411.0,610.3 411.6,610.8 412.2,611.2 412.8,611.6 413.3,611.7 413.9,611.4 414.5,611.2 415.0,612.0 415.6,612.8 416.2,613.3 416.7,613.3 417.3,613.4 417.9,613.5 418.5,613.5 419.0,613.4 419.6,613.1 420.2,612.8 420.7,612.6 421.3,612.4 421.9,612.1 422.5,611.9 423.0,611.6 423.6,610.3 424.2,609.0 424.7,609.4 425.3,611.3 425.9,613.3 426.5,613.7 427.0,614.1 427.6,614.3 428.2,614.4 428.7,614.5 429.3,614.3 429.9,614.1 430.4,614.1 431.0,614.1 431.6,614.2 432.2,614.4 432.7,614.5 433.3,614.5 433.9,614.3 434.4,614.1 435.0,613.8 435.6,613.4 436.2,613.6 436.7,614.3 437.3,614.9 437.9,614.5 438.4,614.0 439.0,613.7 439.6,613.5 440.1,613.4 440.7,613.9 441.3,614.3 441.9,614.3 442.4,613.9 443.0,613.4 443.6,613.9 444.1,614.5 444.7,614.6 445.3,614.1 445.9,613.7 446.4,614.1 447.0,614.6 447.6,614.8 448.1,614.9 448.7,615.0 449.3,614.7 449.8,614.3 450.4,614.3 451.0,614.6 451.6,614.9 452.1,614.6 452.7,614.2 453.3,614.1 453.8,614.4 454.4,614.6 455.0,614.9 455.6,615.1 456.1,615.2 456.7,615.1 457.3,615.0 457.8,614.7 458.4,614.4 459.0,614.2 459.5,614.3 460.1,614.4 460.7,614.6 461.3,614.9 461.8,615.0 462.4,615.0 463.0,615.0 463.5,615.1 464.1,615.2 464.7,615.3 465.3,615.2 465.8,615.1 466.4,614.9 467.0,614.7 467.5,614.5 468.1,614.4 468.7,614.3 469.3,614.3 469.8,614.4 470.4,614.5 471.0,614.8 471.5,615.0 472.1,614.9 472.7,614.8 473.2,614.7 473.8,614.8 474.4,614.9 475.0,614.9 475.5,615.0 476.1,614.9 476.7,614.6 477.2,614.3 477.8,614.2 478.4,614.2 479.0,614.1 479.5,614.2 480.1,614.2 480.7,614.7 481.2,615.1 481.8,615.1 482.4,614.6 482.9,614.2 483.5,614.5 484.1,614.7 484.7,614.8 485.2,614.6 485.8,614.4" fill="none" stroke="#1c1c1c" stroke-width="1.00" stroke-linejoin="round"/>
<polyline points="314.6,615.4 315.2,615.4 315.7,615.4 316.3,615.4 316.9,615.4 317.5,615.4 318.0,615.4 318.6,615.4 319.2,615.4 319.7,615.4 320.3,615.4 320.9,615.4 321.4,615.4 322.0,615.4 322.6,615.4 323.2,615.4 323.7,615.4 324.3,615.4 324.9,615.4 325.4,615.4 326.0,615.4 326.6,615.4 327.2,615.4 327.7,615.4 328.3,615.4 328.9,615.4 329.4,615.4 330.0,615.4 330.6,615.4 331.1,615.4 331.7,615.3 332.3,615.3 332.9,615.3 333.4,615.2 334.0,615.1 334.6,615.0 335.1,614.8 335.7,614.5 336.3,614.1 336.9,613.5 337.4,612.8 338.0,611.8 338.6,610.4 339.1,608.7 339.7,606.4 340.3,603.5 340.9,600.0 341.4,595.5 342.0,590.2 342.6,583.8 343.1,576.3 343.7,567.5 344.3,557.6 344.8,546.6 345.4,534.4 346.0,521.4 346.6,507.6 347.1,493.4 347.7,479.1 348.3,465.2 348.8,452.0 349.4,440.0 350.0,429.7 350.6,421.4 351.1,415.6 351.7,412.5 352.0,412.1 352.3,416.2 352.8,424.0 353.4,431.5 354.0,438.7 354.5,445.6 355.1,452.3 355.7,458.7 356.3,464.8 356.8,470.7 357.4,476.4 358.0,481.8 358.5,487.1 359.1,492.1 359.7,496.9 360.3,501.6 360.8,506.1 361.4,510.3 362.0,514.5 362.5,518.4 363.1,522.2 363.7,525.9 364.2,529.4 364.8,532.8 365.4,536.0 366.0,541.2 366.5,542.5 367.1,543.8 367.7,546.7 368.2,550.9 368.8,554.8 369.4,558.2 370.0,561.3 370.5,563.3 371.1,564.3 371.7,565.3 372.2,566.8 372.8,568.3 373.4,569.9 373.9,571.5 374.5,573.2 375.1,574.8 375.7,576.3 376.2,577.4 376.8,578.1 377.4,578.7 377.9,580.7 378.5,582.5 379.1,584.6 379.7,586.8 380.2,588.9 380.8,588.8 381.4,588.7 381.9,589.4 382.5,591.0 383.1,592.5 383.7,593.6 384.2,594.6 384.8,595.3 385.4,595.8 385.9,596.2 386.5,596.8 387.1,597.4 387.6,597.8 388.2,598.1 388.8,598.3 389.4,599.5 389.9,600.7 390.5,601.5 391.1,602.1 391.6,602.8 392.2,603.5 392.8,604.2 393.4,604.6 393.9,604.9 394.5,605.1 395.1,604.9 395.6,604.7 396.2,605.0 396.8,605.7 397.3,606.5 397.9,607.1 398.5,607.7 399.1,607.9 399.6,607.8 400.2,607.7 400.8,608.4 401.3,609.0 401.9,609.0 402.5,608.3 403.1,607.6 403.6,608.2 404.2,608.8 404.8,609.3 405.3,609.7 405.9,610.1 406.5,610.6 407.0,611.1 407.6,611.4 408.2,611.4 408.8,611.4 409.3,609.6 409.9,607.9 410.5,608.0 411.0,609.8 411.6,611.6 412.2,612.0 412.8,612.4 413.3,612.6 413.9,612.4 414.5,612.3 415.0,612.4 415.6,612.6 416.2,612.7 416.7,612.7 417.3,612.8 417.9,612.6 418.5,612.3 419.0,612.4 419.6,612.7 420.2,613.0 420.7,613.1 421.3,613.1 421.9,613.0 422.5,612.8 423.0,612.6 423.6,612.9 424.2,613.2 424.7,613.4 425.3,613.5 425.9,613.6 426.5,613.4 427.0,613.3 427.6,613.3 428.2,613.6 428.7,613.8 429.3,613.8 429.9,613.7 430.4,613.8 431.0,614.0 431.6,614.3 432.2,614.1 432.7,613.9 433.3,613.9 433.9,614.1 434.4,614.3 435.0,614.4 435.6,614.4 436.2,614.5 436.7,614.6 437.3,614.7 437.9,614.6 438.4,614.6 439.0,614.5 439.6,614.2 440.1,614.0 440.7,614.4 441.3,614.7 441.9,614.6 442.4,613.8 443.0,613.1 443.6,613.7 444.1,614.4 444.7,614.6 445.3,614.3 445.9,614.1 446.4,614.1 447.0,614.0 447.6,614.2 448.1,614.6 448.7,615.0 449.3,615.1 449.8,615.2 450.4,614.3 451.0,612.5 451.6,610.8 452.1,612.4 452.7,614.0 453.3,614.8 453.8,614.8 454.4,614.8 455.0,614.2 455.6,613.6 456.1,613.6 456.7,614.1 457.3,614.6 457.8,614.8 458.4,614.9 459.0,614.7 459.5,614.2 460.1,613.7 460.7,614.1 461.3,614.5 461.8,614.7 462.4,614.8 463.0,614.9 463.5,614.7 464.1,614.6 464.7,614.5 465.3,614.6 465.8,614.8 466.4,614.9 467.0,615.0 467.5,614.7 468.1,614.2 468.7,613.7 469.3,613.9 469.8,614.2 470.4,614.5 471.0,614.8 471.5,615.0 472.1,615.0 472.7,614.9 473.2,614.7 473.8,614.2 474.4,613.7 475.0,613.9 475.5,614.2 476.1,614.2 476.7,614.1 477.2,613.9 477.8,614.0 478.4,614.2 479.0,614.3 479.5,614.5 480.1,614.7 480.7,614.9 481.2,613.6 481.8,610.6 482.4,607.6 482.9,607.6 483.5,610.7 484.1,613.7 484.7,615.2 485.2,615.1 485.8,614.9" fill="none" stroke="#1c1c1c" stroke-width="1.50" stroke-linejoin="round"/>
<polyline points="314.6,615.4 315.2,615.4 315.7,615.4 316.3,615.4 316.9,615.4 317.5,615.4 318.0,615.4 318.6,615.4 319.2,615.4 319.7,615.4 320.3,615.4 320.9,615.4 321.4,615.4 322.0,615.4 322.6,615.4 323.2,615.4 323.7,615.4 324.3,615.4 324.9,615.4 325.4,615.4 326.0,615.4 326.6,615.4 327.2,615.4 327.7,615.4 328.3,615.4 328.9,615.4 329.4,615.4 330.0,615.4 330.6,615.4 331.1,615.4 331.7,615.3 332.3,615.3 332.9,615.3 333.4,615.2 334.0,615.1 334.6,615.0 335.1,614.8 335.7,614.5 336.3,614.1 336.9,613.5 337.4,612.8 338.0,611.8 338.6,610.5 339.1,608.9 339.7,606.7 340.3,604.0 340.9,600.6 341.4,596.5 342.0,591.5 342.6,585.5 343.1,578.5 343.7,570.5 344.3,561.3 344.8,551.0 345.4,539.8 346.0,527.7 346.6,514.9 347.1,501.6 347.7,488.3 348.3,475.2 348.8,462.7 349.4,451.3 350.0,441.2 350.6,433.0 351.1,426.9 351.7,423.3 352.1,422.4 352.3,423.5 352.8,429.8 353.4,436.3 354.0,442.6 354.5,448.8 355.1,454.9 355.7,460.8 356.3,466.5 356.8,472.1 357.4,477.4 358.0,482.6 358.5,487.7 359.1,492.5 359.7,497.2 360.3,501.8 360.8,506.1 361.4,510.4 362.0,514.4 362.5,518.3 363.1,522.1 363.7,525.8 364.2,529.3 364.8,532.7 365.4,535.9 366.0,538.4 366.5,541.9 367.1,545.2 367.7,548.1 368.2,550.5 368.8,552.8 369.4,556.7 370.0,560.4 370.5,562.5 371.1,563.4 371.7,564.3 372.2,566.4 372.8,568.5 373.4,570.1 373.9,571.2 374.5,572.3 375.1,574.0 375.7,575.6 376.2,577.1 376.8,578.5 377.4,579.8 377.9,581.8 378.5,583.6 379.1,585.2 379.7,586.5 380.2,587.7 380.8,588.9 381.4,590.0 381.9,591.1 382.5,591.9 383.1,592.8 383.7,593.1 384.2,593.4 384.8,594.2 385.4,595.6 385.9,596.9 386.5,597.9 387.1,598.9 387.6,599.7 388.2,600.2 388.8,600.8 389.4,601.2 389.9,601.6 390.5,602.1 391.1,602.6 391.6,603.1 392.2,603.3 392.8,603.5 393.4,603.8 393.9,604.5 394.5,605.1 395.1,605.8 395.6,606.5 396.2,607.0 396.8,607.3 397.3,607.5 397.9,607.6 398.5,607.6 399.1,607.6 399.6,607.6 400.2,607.6 400.8,608.0 401.3,608.5 401.9,608.8 402.5,609.2 403.1,609.5 403.6,610.0 404.2,610.4 404.8,610.4 405.3,609.9 405.9,609.4 406.5,609.7 407.0,610.0 407.6,610.2 408.2,610.3 408.8,610.5 409.3,610.9 409.9,611.4 410.5,611.6 411.0,611.6 411.6,611.7 412.2,612.1 412.8,612.6 413.3,612.9 413.9,612.8 414.5,612.8 415.0,612.7 415.6,612.5 416.2,612.3 416.7,611.8 417.3,611.3 417.9,612.1 418.5,612.9 419.0,613.3 419.6,613.5 420.2,613.7 420.7,613.0 421.3,612.4 421.9,612.5 422.5,613.3 423.0,614.1 423.6,614.1 424.2,614.1 424.7,613.9 425.3,613.6 425.9,613.3 426.5,613.3 427.0,613.3 427.6,613.1 428.2,612.8 428.7,612.6 429.3,613.1 429.9,613.6 430.4,613.8 431.0,613.7 431.6,613.6 432.2,613.8 432.7,614.0 433.3,614.0 433.9,613.8 434.4,613.6 435.0,613.8 435.6,613.9 436.2,614.0 436.7,614.2 437.3,614.4 437.9,613.8 438.4,613.3 439.0,613.2 439.6,613.5 440.1,613.8 440.7,613.9 441.3,614.0 441.9,614.3 442.4,614.7 443.0,615.1 443.6,615.0 444.1,614.9 444.7,614.7 445.3,614.2 445.9,613.8 446.4,614.3 447.0,614.7 447.6,614.8 448.1,614.5 448.7,614.3 449.3,614.5 449.8,614.7 450.4,614.8 451.0,614.9 451.6,614.9 452.1,614.5 452.7,614.1 453.3,614.1 453.8,614.4 454.4,614.7 455.0,614.6 455.6,614.6 456.1,614.7 456.7,614.8 457.3,614.9 457.8,614.8 458.4,614.6 459.0,614.4 459.5,614.2 460.1,613.9 460.7,614.2 461.3,614.5 461.8,614.6 462.4,614.6 463.0,614.5 463.5,614.8 464.1,615.1 464.7,615.1 465.3,614.9 465.8,614.7 466.4,615.0 467.0,615.2 467.5,615.1 468.1,614.7 468.7,614.3 469.3,614.1 469.8,613.9 470.4,613.8 471.0,614.0 471.5,614.1 472.1,613.5 472.7,613.0 473.2,612.8 473.8,612.9 474.4,613.1 475.0,613.8 475.5,614.5 476.1,613.7 476.7,611.5 477.2,609.3 477.8,611.2 478.4,613.0 479.0,614.2 479.5,614.7 480.1,615.1 480.7,615.2 481.2,615.3 481.8,614.8 482.4,613.7 482.9,612.6 483.5,613.0 484.1,613.4 484.7,613.9 485.2,614.5 485.8,615.1" fill="none" stroke="#333" stroke-width="1.00" stroke-linejoin="round"/>
<polyline points="314.6,615.4 315.2,615.4 315.7,615.4 316.3,615.4 316.9,615.4 317.5,615.4 318.0,615.4 318.6,615.4 319.2,615.4 319.7,615.4 320.3,615.4 320.9,615.4 321.4,615.4 322.0,615.4 322.6,615.4 323.2,615.4 323.7,615.4 324.3,615.4 324.9,615.4 325.4,615.4 326.0,615.4 326.6,615.4 327.2,615.4 327.7,615.4 328.3,615.4 328.9,615.4 329.4,615.4 330.0,615.4 330.6,615.4 331.1,615.4 331.7,615.4 332.3,615.3 332.9,615.3 333.4,615.2 334.0,615.1 334.6,615.0 335.1,614.8 335.7,614.6 336.3,614.2 336.9,613.6 337.4,612.9 338.0,611.9 338.6,610.6 339.1,608.8 339.7,606.6 340.3,603.7 340.9,600.1 341.4,595.7 342.0,590.5 342.6,584.4 343.1,577.5 343.7,570.0 344.3,561.9 344.8,553.3 345.4,544.4 346.0,535.4 346.6,526.3 347.1,517.2 347.7,508.3 348.3,499.7 348.8,491.6 349.4,484.2 350.0,477.5 350.6,471.6 351.1,466.7 351.7,462.9 352.3,460.1 352.8,458.1 353.4,456.9 354.0,457.0 354.5,461.2 355.1,465.9 355.7,470.7 356.3,475.6 356.8,480.5 357.4,485.3 358.0,490.0 358.5,494.7 359.1,499.2 359.7,503.5 360.3,507.8 360.8,511.9 361.4,515.9 362.0,519.8 362.5,523.5 363.1,527.1 363.7,530.6 364.2,534.0 364.8,537.3 365.4,540.4 366.0,543.4 366.5,545.9 367.1,548.3 367.7,551.4 368.2,555.1 368.8,558.5 369.4,561.1 370.0,563.5 370.5,564.9 371.1,565.5 371.7,566.1 372.2,568.5 372.8,570.7 373.4,573.0 373.9,575.4 374.5,577.7 375.1,579.8 375.7,581.8 376.2,583.2 376.8,584.1 377.4,584.9 377.9,586.8 378.5,588.6 379.1,589.8 379.7,590.7 380.2,591.5 380.8,592.6 381.4,593.6 381.9,594.6 382.5,595.5 383.1,596.3 383.7,596.4 384.2,596.4 384.8,597.4 385.4,599.1 385.9,600.7 386.5,600.9 387.1,601.0 387.6,601.3 388.2,601.7 388.8,602.1 389.4,602.4 389.9,602.6 390.5,603.2 391.1,604.3 391.6,605.4 392.2,605.7 392.8,605.9 393.4,606.4 393.9,607.0 394.5,607.7 395.1,607.8 395.6,608.0 396.2,608.2 396.8,608.6 397.3,609.0 397.9,609.2 398.5,609.3 399.1,609.5 399.6,609.8 400.2,610.0 400.8,610.2 401.3,610.3 401.9,610.6 402.5,610.8 403.1,611.1 403.6,611.4 404.2,611.7 404.8,611.7 405.3,611.4 405.9,611.2 406.5,611.6 407.0,612.0 407.6,612.0 408.2,611.8 408.8,611.5 409.3,611.8 409.9,612.1 410.5,612.4 411.0,612.5 411.6,612.7 412.2,611.7 412.8,610.7 413.3,610.9 413.9,612.3 414.5,613.8 415.0,613.6 415.6,613.5 416.2,613.6 416.7,613.8 417.3,614.1 417.9,613.9 418.5,613.7 419.0,613.0 419.6,611.8 420.2,610.6 420.7,611.9 421.3,613.3 421.9,613.8 422.5,613.4 423.0,613.1 423.6,613.4 424.2,613.8 424.7,613.9 425.3,613.7 425.9,613.6 426.5,614.0 427.0,614.4 427.6,614.5 428.2,614.4 428.7,614.2 429.3,614.2 429.9,614.3 430.4,614.4 431.0,614.7 431.6,615.0 432.2,615.0 432.7,614.9 433.3,614.9 433.9,614.7 434.4,614.6 435.0,613.9 435.6,613.2 436.2,613.2 436.7,613.9 437.3,614.6 437.9,614.7 438.4,614.8 439.0,614.7 439.6,614.3 440.1,614.0 440.7,614.4 441.3,614.9 441.9,615.0 442.4,614.9 443.0,614.8 443.6,614.0 444.1,613.2 444.7,613.1 445.3,613.7 445.9,614.4 446.4,614.4 447.0,614.4 447.6,614.5 448.1,614.5 448.7,614.6 449.3,614.5 449.8,614.4 450.4,614.4 451.0,614.5 451.6,614.6 452.1,614.7 452.7,614.8 453.3,615.0 453.8,615.0 454.4,615.1 455.0,615.1 455.6,615.1 456.1,615.1 456.7,614.9 457.3,614.8 457.8,614.6 458.4,614.4 459.0,614.3 459.5,614.2 460.1,614.2 460.7,614.3 461.3,614.5 461.8,614.7 462.4,614.9 463.0,615.1 463.5,614.8 464.1,614.5 464.7,614.4 465.3,614.7 465.8,614.9 466.4,614.7 467.0,614.6 467.5,614.4 468.1,614.2 468.7,614.0 469.3,614.5 469.8,614.9 470.4,615.0 471.0,614.8 471.5,614.6 472.1,614.7 472.7,614.9 473.2,614.8 473.8,614.5 474.4,614.2 475.0,614.5 475.5,614.9 476.1,615.0 476.7,614.9 477.2,614.8 477.8,614.5 478.4,614.1 479.0,614.2 479.5,614.6 480.1,614.9 480.7,614.8 481.2,614.6 481.8,614.5 482.4,614.6 482.9,614.6 483.5,614.3 484.1,614.0 484.7,613.8 485.2,613.8 485.8,613.9" fill="none" stroke="#333" stroke-width="1.00" stroke-linejoin="round"/>
<polyline points="314.6,615.4 315.2,615.4 315.7,615.4 316.3,615.4 316.9,615.4 317.5,615.4 318.0,615.4 318.6,615.4 319.2,615.4 319.7,615.4 320.3,615.4 320.9,615.4 321.4,615.4 322.0,615.4 322.6,615.4 323.2,615.4 323.7,615.4 324.3,615.4 324.9,615.4 325.4,615.4 326.0,615.4 326.6,615.4 327.2,615.4 327.7,615.4 328.3,615.4 328.9,615.4 329.4,615.4 330.0,615.4 330.6,615.4 331.1,615.4 331.7,615.4 332.3,615.3 332.9,615.3 333.4,615.2 334.0,615.1 334.6,615.0 335.1,614.8 335.7,614.6 336.3,614.2 336.9,613.6 337.4,612.9 338.0,611.9 338.6,610.6 339.1,608.9 339.7,606.6 340.3,603.7 340.9,600.2 341.4,595.8 342.0,590.5 342.6,584.4 343.1,577.5 343.7,569.9 344.3,561.9 344.8,553.7 345.4,545.4 346.0,537.3 346.6,529.4 347.1,521.9 347.7,514.9 348.3,508.3 348.8,502.4 349.4,497.1 350.0,492.5 350.6,488.7 351.1,485.5 351.7,482.9 352.3,481.0 352.8,479.6 353.4,478.7 354.0,478.1 354.5,477.8 355.1,477.6 355.7,479.5 356.3,482.6 356.8,486.0 357.4,489.6 358.0,493.3 358.5,497.1 359.1,501.0 359.7,504.8 360.3,508.6 360.8,512.3 361.4,516.0 362.0,519.6 362.5,523.2 363.1,526.7 363.7,530.1 364.2,533.5 364.8,536.7 365.4,539.9 366.0,539.7 366.5,543.5 367.1,547.2 367.7,550.7 368.2,553.9 368.8,557.0 369.4,558.3 370.0,559.6 370.5,561.2 371.1,563.1 371.7,564.9 372.2,568.3 372.8,571.5 373.4,573.7 373.9,575.2 374.5,576.6 375.1,579.1 375.7,581.5 376.2,583.6 376.8,585.5 377.4,587.2 377.9,587.9 378.5,588.6 379.1,589.9 379.7,591.8 380.2,593.5 380.8,593.7 381.4,594.0 381.9,594.8 382.5,596.1 383.1,597.3 383.7,598.3 384.2,599.3 384.8,600.2 385.4,601.2 385.9,602.1 386.5,602.6 387.1,603.0 387.6,603.6 388.2,604.4 388.8,605.1 389.4,605.3 389.9,605.5 390.5,605.9 391.1,606.6 391.6,607.4 392.2,607.6 392.8,607.7 393.4,606.0 393.9,602.4 394.5,598.9 395.1,595.5 395.6,599.6 396.2,603.9 396.8,608.2 397.3,610.6 397.9,609.8 398.5,609.1 399.1,607.9 399.6,607.6 400.2,607.4 400.8,609.1 401.3,610.8 401.9,612.3 402.5,612.1 403.1,611.8 403.6,611.9 404.2,611.9 404.8,611.0 405.3,609.3 405.9,607.5 406.5,609.8 407.0,612.1 407.6,613.4 408.2,613.6 408.8,613.8 409.3,613.7 409.9,613.6 410.5,613.7 411.0,613.9 411.6,614.2 412.2,613.9 412.8,613.6 413.3,613.6 413.9,613.9 414.5,614.2 415.0,614.0 415.6,613.9 416.2,613.5 416.7,612.8 417.3,612.1 417.9,613.0 418.5,613.9 419.0,614.3 419.6,614.3 420.2,614.2 420.7,614.0 421.3,613.8 421.9,613.9 422.5,614.2 423.0,614.5 423.6,614.6 424.2,614.7 424.7,614.3 425.3,613.5 425.9,612.7 426.5,613.5 427.0,614.2 427.6,614.7 428.2,614.8 428.7,614.9 429.3,614.4 429.9,613.8 430.4,613.4 431.0,613.0 431.6,612.7 432.2,613.0 432.7,613.4 433.3,613.9 433.9,614.5 434.4,615.1 435.0,614.9 435.6,614.7 436.2,614.6 436.7,614.7 437.3,614.9 437.9,614.9 438.4,614.8 439.0,614.9 439.6,614.9 440.1,614.9 440.7,615.1 441.3,615.2 441.9,615.1 442.4,614.9 443.0,614.6 443.6,614.7 444.1,614.8 444.7,614.8 445.3,614.6 445.9,614.5 446.4,614.6 447.0,614.6 447.6,614.6 448.1,614.5 448.7,614.4 449.3,614.5 449.8,614.7 450.4,614.8 451.0,615.0 451.6,615.2 452.1,615.0 452.7,614.7 453.3,614.7 453.8,614.9 454.4,615.1 455.0,614.6 455.6,614.0 456.1,614.0 456.7,614.7 457.3,615.3 457.8,615.3 458.4,615.2 459.0,614.9 459.5,614.4 460.1,613.8 460.7,614.4 461.3,615.0 461.8,615.1 462.4,614.8 463.0,614.5 463.5,614.7 464.1,614.8 464.7,614.9 465.3,615.0 465.8,615.1 466.4,615.1 467.0,615.1 467.5,614.7 468.1,613.8 468.7,612.9 469.3,613.8 469.8,614.7 470.4,614.7 471.0,613.9 471.5,613.0 472.1,613.7 472.7,614.3 473.2,614.6 473.8,614.5 474.4,614.4 475.0,614.7 475.5,615.0 476.1,615.1 476.7,615.0 477.2,614.9 477.8,613.6 478.4,612.3 479.0,611.9 479.5,612.5 480.1,613.0 480.7,613.2 481.2,613.4 481.8,613.7 482.4,614.1 482.9,614.5 483.5,614.5 484.1,614.5 484.7,614.5 485.2,614.5 485.8,614.6" fill="none" stroke="#333" stroke-width="1.00" stroke-linejoin="round"/>
<polyline points="314.6,615.4 315.2,615.4 315.7,615.4 316.3,615.4 316.9,615.4 317.5,615.4 318.0,615.4 318.6,615.4 319.2,615.4 319.7,615.4 320.3,615.4 320.9,615.4 321.4,615.4 322.0,615.4 322.6,615.4 323.2,615.4 323.7,615.4 324.3,615.4 324.9,615.4 325.4,615.4 326.0,615.4 326.6,615.4 327.2,615.4 327.7,615.4 328.3,615.4 328.9,615.4 329.4,615.4 330.0,615.4 330.6,615.4 331.1,615.4 331.7,615.4 332.3,615.3 332.9,615.3 333.4,615.2 334.0,615.1 334.6,615.0 335.1,614.8 335.7,614.6 336.3,614.2 336.9,613.6 337.4,612.9 338.0,611.9 338.6,610.6 339.1,608.8 339.7,606.6 340.3,603.7 340.9,600.0 341.4,595.5 342.0,590.0 342.6,583.5 343.1,576.0 343.7,568.0 344.3,559.9 344.8,552.2 345.4,545.4 346.0,539.3 346.6,533.7 347.1,528.7 347.7,524.2 348.3,520.0 348.8,516.3 349.4,513.0 350.0,510.1 350.6,507.6 351.1,505.5 351.7,503.8 352.3,502.4 352.8,501.3 353.4,500.5 354.0,500.0 354.5,499.6 355.1,499.4 355.7,499.3 356.3,499.2 356.8,499.6 357.4,500.8 358.0,502.5 358.5,504.5 359.1,506.8 359.7,509.2 360.3,511.8 360.8,514.5 361.4,517.3 362.0,520.1 362.5,523.0 363.1,526.0 363.7,528.9 364.2,531.9 364.8,534.8 365.4,537.8 366.0,536.5 366.5,542.9 367.1,549.1 367.7,552.4 368.2,553.3 368.8,554.3 369.4,558.3 370.0,562.1 370.5,564.5 371.1,565.7 371.7,566.9 372.2,569.8 372.8,572.5 373.4,575.2 373.9,577.8 374.5,580.2 375.1,580.7 375.7,581.3 376.2,583.1 376.8,585.8 377.4,588.3 377.9,589.1 378.5,589.9 379.1,590.9 379.7,591.9 380.2,592.9 380.8,594.0 381.4,595.1 381.9,596.5 382.5,598.2 383.1,599.8 383.7,600.1 384.2,600.3 384.8,600.9 385.4,601.9 385.9,602.7 386.5,604.1 387.1,605.4 387.6,606.2 388.2,606.8 388.8,607.3 389.4,607.7 389.9,608.0 390.5,608.4 391.1,608.9 391.6,609.4 392.2,609.2 392.8,609.0 393.4,609.3 393.9,610.1 394.5,611.0 395.1,611.0 395.6,611.0 396.2,611.3 396.8,611.8 397.3,612.2 397.9,612.4 398.5,612.5 399.1,612.7 399.6,613.1 400.2,613.4 400.8,612.9 401.3,612.4 401.9,612.4 402.5,612.9 403.1,613.4 403.6,613.5 404.2,613.6 404.8,613.5 405.3,613.3 405.9,613.1 406.5,613.2 407.0,613.3 407.6,613.7 408.2,614.3 408.8,614.8 409.3,614.5 409.9,614.3 410.5,614.1 411.0,614.1 411.6,614.1 412.2,614.4 412.8,614.7 413.3,614.8 413.9,614.7 414.5,614.6 415.0,614.8 415.6,615.0 416.2,615.1 416.7,615.1 417.3,615.2 417.9,615.1 418.5,615.0 419.0,615.0 419.6,615.0 420.2,615.1 420.7,614.9 421.3,614.8 421.9,614.5 422.5,614.2 423.0,613.9 423.6,614.5 424.2,615.0 424.7,615.3 425.3,615.3 425.9,615.3 426.5,615.0 427.0,614.7 427.6,614.5 428.2,614.4 428.7,614.3 429.3,614.7 429.9,615.0 430.4,615.2 431.0,615.2 431.6,615.3 432.2,615.2 432.7,615.1 433.3,614.9 433.9,614.7 434.4,614.5 435.0,614.5 435.6,614.5 436.2,614.5 436.7,614.7 437.3,614.8 437.9,614.3 438.4,613.7 439.0,613.7 439.6,614.1 440.1,614.5 440.7,614.6 441.3,614.6 441.9,614.8 442.4,615.1 443.0,615.4 443.6,613.7 444.1,612.1 444.7,611.8 445.3,612.9 445.9,614.0 446.4,614.2 447.0,614.4 447.6,614.6 448.1,614.7 448.7,614.9 449.3,614.1 449.8,613.3 450.4,613.1 451.0,613.4 451.6,613.8 452.1,614.0 452.7,614.2 453.3,614.3 453.8,614.1 454.4,614.0 455.0,614.2 455.6,614.3 456.1,614.6 456.7,614.9 457.3,615.2 457.8,614.9 458.4,614.6 459.0,614.6 459.5,614.8 460.1,615.0 460.7,615.1 461.3,615.3 461.8,615.3 462.4,615.3 463.0,615.3 463.5,615.3 464.1,615.2 464.7,615.1 465.3,614.8 465.8,614.5 466.4,614.8 467.0,615.1 467.5,615.1 468.1,614.9 468.7,614.8 469.3,614.9 469.8,615.1 470.4,615.1 471.0,615.1 471.5,615.0 472.1,614.5 472.7,613.9 473.2,613.6 473.8,613.5 474.4,613.4 475.0,614.2 475.5,614.9 476.1,615.0 476.7,614.5 477.2,614.0 477.8,614.3 478.4,614.6 479.0,614.7 479.5,614.4 480.1,614.2 480.7,614.3 481.2,614.4 481.8,614.6 482.4,614.9 482.9,615.2 483.5,615.2 484.1,615.3 484.7,615.0 485.2,614.4 485.8,613.8" fill="none" stroke="#333" stroke-width="1.00" stroke-linejoin="round"/>
<line x1="46.50" y1="729.70" x2="46.50" y2="937.30" stroke="#1c1c1c" stroke-width="1.10"/>
<line x1="46.10" y1="936.50" x2="216.70" y2="936.50" stroke="#1c1c1c" stroke-width="1.10"/>
<line x1="44.10" y1="936.50" x2="46.60" y2="936.50" stroke="#1c1c1c" stroke-width="1.00"/>
<text transform="translate(35.99,940.50) scale(1.130,1)" font-size="10.40" fill="#1c1c1c">0</text>
<line x1="44.10" y1="895.50" x2="46.60" y2="895.50" stroke="#1c1c1c" stroke-width="1.00"/>
<text transform="translate(29.47,899.18) scale(1.130,1)" font-size="10.40" fill="#1c1c1c">20</text>
<line x1="44.10" y1="854.50" x2="46.60" y2="854.50" stroke="#1c1c1c" stroke-width="1.00"/>
<text transform="translate(29.47,857.86) scale(1.130,1)" font-size="10.40" fill="#1c1c1c">40</text>
<line x1="44.10" y1="812.50" x2="46.60" y2="812.50" stroke="#1c1c1c" stroke-width="1.00"/>
<text transform="translate(29.47,816.54) scale(1.130,1)" font-size="10.40" fill="#1c1c1c">60</text>
<line x1="44.10" y1="771.50" x2="46.60" y2="771.50" stroke="#1c1c1c" stroke-width="1.00"/>
<text transform="translate(29.47,775.22) scale(1.130,1)" font-size="10.40" fill="#1c1c1c">80</text>
<line x1="44.10" y1="730.50" x2="46.60" y2="730.50" stroke="#1c1c1c" stroke-width="1.00"/>
<text transform="translate(22.94,733.90) scale(1.130,1)" font-size="10.40" fill="#1c1c1c">100</text>
<line x1="46.50" y1="936.80" x2="46.50" y2="939.30" stroke="#1c1c1c" stroke-width="1.00"/>
<text transform="translate(43.31,950.80) scale(1.130,1)" font-size="10.40" fill="#1c1c1c">0</text>
<line x1="74.50" y1="936.80" x2="74.50" y2="939.30" stroke="#1c1c1c" stroke-width="1.00"/>
<text transform="translate(68.14,950.80) scale(1.130,1)" font-size="10.40" fill="#1c1c1c">15</text>
<line x1="103.50" y1="936.80" x2="103.50" y2="939.30" stroke="#1c1c1c" stroke-width="1.00"/>
<text transform="translate(96.58,950.80) scale(1.130,1)" font-size="10.40" fill="#1c1c1c">30</text>
<line x1="131.50" y1="936.80" x2="131.50" y2="939.30" stroke="#1c1c1c" stroke-width="1.00"/>
<text transform="translate(125.00,950.80) scale(1.130,1)" font-size="10.40" fill="#1c1c1c">45</text>
<line x1="159.50" y1="936.80" x2="159.50" y2="939.30" stroke="#1c1c1c" stroke-width="1.00"/>
<text transform="translate(153.06,950.80) scale(1.130,1)" font-size="10.40" fill="#1c1c1c">60</text>
<line x1="187.50" y1="936.80" x2="187.50" y2="939.30" stroke="#1c1c1c" stroke-width="1.00"/>
<text transform="translate(181.35,950.80) scale(1.130,1)" font-size="10.40" fill="#1c1c1c">75</text>
<line x1="216.50" y1="936.80" x2="216.50" y2="939.30" stroke="#1c1c1c" stroke-width="1.00"/>
<text transform="translate(209.62,950.80) scale(1.130,1)" font-size="10.40" fill="#1c1c1c">90</text>
<text transform="translate(90.20,966.90) scale(1.069,1)" font-size="11.74" fill="#1c1c1c">Protein S (nM)</text>
<text transform="translate(16.90,877.62) rotate(-90) scale(1.040,1)" font-size="12.28" fill="#1c1c1c">Peak height (%)</text>
<line x1="46.60" y1="730.20" x2="216.20" y2="771.31" stroke="#1c1c1c" stroke-width="1.00"/>
<line x1="46.60" y1="730.20" x2="216.20" y2="810.77" stroke="#1c1c1c" stroke-width="1.00"/>
<polyline points="46.6,730.2 47.1,732.6 47.5,735.0 48.0,737.4 48.5,739.7 49.0,742.0 49.4,744.3 49.9,746.5 50.4,748.7 50.8,750.9 51.3,753.1 51.8,755.2 52.3,757.3 52.7,759.4 53.2,761.5 53.7,763.5 54.1,765.5 54.6,767.5 55.1,769.4 55.6,771.4 56.0,773.3 56.5,775.2 57.0,777.1 57.4,778.9 57.9,780.7 58.4,782.5 58.8,784.3 59.3,786.1 59.8,787.8 60.3,789.5 60.7,791.2 61.2,792.9 61.7,794.5 62.1,796.2 62.6,797.8 63.1,799.4 63.6,800.9 64.0,802.5 64.5,804.0 65.0,805.5 65.4,807.0 65.9,808.5 66.4,810.0 66.9,811.4 67.3,812.8 67.8,814.2 68.3,815.6 68.7,817.0 69.2,818.4 69.7,819.7 70.2,821.0 70.6,822.3 71.1,823.6 71.6,824.9 72.0,826.2 72.5,827.4 73.0,828.7 73.5,829.9 73.9,831.1 74.4,832.3 74.9,833.4 75.3,834.6 75.8,835.7 76.3,836.9 76.8,838.0 77.2,839.1 77.7,840.2 78.2,841.2 78.6,842.3 79.1,843.4 79.6,844.4 80.0,845.4 80.5,846.4 81.0,847.4 81.5,848.4 81.9,849.4 82.4,850.4 82.9,851.3 83.3,852.3 83.8,853.2 84.3,854.1 84.8,855.0 85.2,855.9 85.7,856.8 86.2,857.7 86.6,858.5 87.1,859.4 87.6,860.2 88.1,861.0 88.5,861.9 89.0,862.7 89.5,863.5 89.9,864.3 90.4,865.1 90.9,865.8 91.4,866.6 91.8,867.3 92.3,868.1 92.8,868.8 93.2,869.6 93.7,870.3 94.2,871.0 94.7,871.7 95.1,872.4 95.6,873.1 96.1,873.7 96.5,874.4 97.0,875.1 97.5,875.7 98.0,876.4 98.4,877.0 98.9,877.6 99.4,878.2 99.8,878.9 100.3,879.5 100.8,880.1 101.2,880.6 101.7,881.2 102.2,881.8 102.7,882.4 103.1,882.9 103.6,883.5 104.1,884.0 104.5,884.6 105.0,885.1 105.5,885.6 106.0,886.2 106.4,886.7 106.9,887.2 107.4,887.7 107.8,888.2 108.3,888.7 108.8,889.2 109.3,889.6 109.7,890.1 110.2,890.6 110.7,891.1 111.1,891.5 111.6,892.0 112.1,892.4 112.6,892.8 113.0,893.3 113.5,893.7 114.0,894.1 114.4,894.5 114.9,895.0 115.4,895.4 115.9,895.8 116.3,896.2 116.8,896.6 117.3,897.0 117.7,897.3 118.2,897.7 118.7,898.1 119.2,898.5 119.6,898.8 120.1,899.2 120.6,899.6 121.0,899.9 121.5,900.3 122.0,900.6 122.4,900.9 122.9,901.3 123.4,901.6 123.9,901.9 124.3,902.3 124.8,902.6 125.3,902.9 125.7,903.2 126.2,903.5 126.7,903.8 127.2,904.1 127.6,904.4 128.1,904.7 128.6,905.0 129.0,905.3 129.5,905.6 130.0,905.9 130.5,906.1 130.9,906.4 131.4,906.7 131.9,906.9 132.3,907.2 132.8,907.5 133.3,907.7 133.8,908.0 134.2,908.2 134.7,908.5 135.2,908.7 135.6,909.0 136.1,909.2 136.6,909.4 137.1,909.7 137.5,909.9 138.0,910.1 138.5,910.3 138.9,910.6 139.4,910.8 139.9,911.0 140.4,911.2 140.8,911.4 141.3,911.6 141.8,911.8 142.2,912.0 142.7,912.2 143.2,912.4 143.6,912.6 144.1,912.8 144.6,913.0 145.1,913.2 145.5,913.4 146.0,913.6 146.5,913.8 146.9,913.9 147.4,914.1 147.9,914.3 148.4,914.5 148.8,914.6 149.3,914.8 149.8,915.0 150.2,915.1 150.7,915.3 151.2,915.5 151.7,915.6 152.1,915.8 152.6,915.9 153.1,916.1 153.5,916.2 154.0,916.4 154.5,916.5 155.0,916.7 155.4,916.8 155.9,917.0 156.4,917.1 156.8,917.3 157.3,917.4 157.8,917.5 158.3,917.7 158.7,917.8 159.2,917.9 159.7,918.1 160.1,918.2 160.6,918.3 161.1,918.4 161.6,918.6 162.0,918.7 162.5,918.8 163.0,918.9 163.4,919.0 163.9,919.1 164.4,919.3 164.8,919.4 165.3,919.5 165.8,919.6 166.3,919.7 166.7,919.8 167.2,919.9 167.7,920.0 168.1,920.1 168.6,920.2 169.1,920.3 169.6,920.4 170.0,920.5 170.5,920.6 171.0,920.7 171.4,920.8 171.9,920.9 172.4,921.0 172.9,921.1 173.3,921.2 173.8,921.3 174.3,921.4 174.7,921.5 175.2,921.5 175.7,921.6 176.2,921.7 176.6,921.8 177.1,921.9 177.6,922.0 178.0,922.0 178.5,922.1 179.0,922.2 179.5,922.3 179.9,922.3 180.4,922.4 180.9,922.5 181.3,922.6 181.8,922.6 182.3,922.7 182.8,922.8 183.2,922.9 183.7,922.9 184.2,923.0 184.6,923.1 185.1,923.1 185.6,923.2 186.0,923.3 186.5,923.3 187.0,923.4 187.5,923.4 187.9,923.5 188.4,923.6 188.9,923.6 189.3,923.7 189.8,923.7 190.3,923.8 190.8,923.9 191.2,923.9 191.7,924.0 192.2,924.0 192.6,924.1 193.1,924.1 193.6,924.2 194.1,924.2 194.5,924.3 195.0,924.4 195.5,924.4 195.9,924.5 196.4,924.5 196.9,924.6 197.4,924.6 197.8,924.6 198.3,924.7 198.8,924.7 199.2,924.8 199.7,924.8 200.2,924.9 200.7,924.9 201.1,925.0 201.6,925.0 202.1,925.1 202.5,925.1 203.0,925.1 203.5,925.2 204.0,925.2 204.4,925.3 204.9,925.3 205.4,925.3 205.8,925.4 206.3,925.4 206.8,925.5 207.2,925.5 207.7,925.5 208.2,925.6 208.7,925.6 209.1,925.6 209.6,925.7 210.1,925.7 210.5,925.7 211.0,925.8 211.5,925.8 212.0,925.8 212.4,925.9 212.9,925.9 213.4,925.9 213.8,926.0 214.3,926.0 214.8,926.0 215.3,926.1 215.7,926.1 216.2,926.1" fill="none" stroke="#1c1c1c" stroke-width="1.00" stroke-linejoin="round"/>
<rect x="44.45" y="727.64" width="4.30" height="4.30" fill="#1c1c1c"/>
<line x1="56.50" y1="743.42" x2="56.50" y2="770.28" stroke="#1c1c1c" stroke-width="1.00"/>
<line x1="53.72" y1="743.50" x2="58.32" y2="743.50" stroke="#1c1c1c" stroke-width="1.00"/>
<line x1="53.72" y1="770.50" x2="58.32" y2="770.50" stroke="#1c1c1c" stroke-width="1.00"/>
<rect x="53.87" y="755.32" width="4.30" height="4.30" fill="#1c1c1c"/>
<line x1="65.50" y1="773.38" x2="65.50" y2="828.54" stroke="#1c1c1c" stroke-width="1.00"/>
<line x1="63.14" y1="773.50" x2="67.74" y2="773.50" stroke="#1c1c1c" stroke-width="1.00"/>
<line x1="63.14" y1="828.50" x2="67.74" y2="828.50" stroke="#1c1c1c" stroke-width="1.00"/>
<rect x="63.29" y="798.71" width="4.30" height="4.30" fill="#1c1c1c"/>
<line x1="74.50" y1="807.06" x2="74.50" y2="868.21" stroke="#1c1c1c" stroke-width="1.00"/>
<line x1="72.57" y1="807.50" x2="77.17" y2="807.50" stroke="#1c1c1c" stroke-width="1.00"/>
<line x1="72.57" y1="868.50" x2="77.17" y2="868.50" stroke="#1c1c1c" stroke-width="1.00"/>
<rect x="72.72" y="834.66" width="4.30" height="4.30" fill="#1c1c1c"/>
<line x1="103.50" y1="869.24" x2="103.50" y2="913.87" stroke="#1c1c1c" stroke-width="1.00"/>
<line x1="100.83" y1="869.50" x2="105.43" y2="869.50" stroke="#1c1c1c" stroke-width="1.00"/>
<line x1="100.83" y1="913.50" x2="105.43" y2="913.50" stroke="#1c1c1c" stroke-width="1.00"/>
<rect x="100.98" y="889.20" width="4.30" height="4.30" fill="#1c1c1c"/>
<line x1="159.50" y1="907.67" x2="159.50" y2="928.12" stroke="#1c1c1c" stroke-width="1.00"/>
<line x1="157.37" y1="907.50" x2="161.97" y2="907.50" stroke="#1c1c1c" stroke-width="1.00"/>
<line x1="157.37" y1="928.50" x2="161.97" y2="928.50" stroke="#1c1c1c" stroke-width="1.00"/>
<rect x="157.52" y="915.23" width="4.30" height="4.30" fill="#1c1c1c"/>
<line x1="216.50" y1="915.11" x2="216.50" y2="932.25" stroke="#1c1c1c" stroke-width="1.00"/>
<line x1="213.90" y1="915.50" x2="218.50" y2="915.50" stroke="#1c1c1c" stroke-width="1.00"/>
<line x1="213.90" y1="932.50" x2="218.50" y2="932.50" stroke="#1c1c1c" stroke-width="1.00"/>
<rect x="214.05" y="921.43" width="4.30" height="4.30" fill="#1c1c1c"/>
<polygon points="74.87,734.36 77.47,739.26 72.27,739.26" fill="#1c1c1c"/>
<line x1="103.50" y1="739.50" x2="103.50" y2="747.76" stroke="#1c1c1c" stroke-width="1.00"/>
<line x1="100.83" y1="739.50" x2="105.43" y2="739.50" stroke="#1c1c1c" stroke-width="1.00"/>
<line x1="100.83" y1="747.50" x2="105.43" y2="747.50" stroke="#1c1c1c" stroke-width="1.00"/>
<polygon points="103.13,741.18 105.73,746.08 100.53,746.08" fill="#1c1c1c"/>
<line x1="159.50" y1="754.17" x2="159.50" y2="767.39" stroke="#1c1c1c" stroke-width="1.00"/>
<line x1="157.37" y1="754.50" x2="161.97" y2="754.50" stroke="#1c1c1c" stroke-width="1.00"/>
<line x1="157.37" y1="767.50" x2="161.97" y2="767.50" stroke="#1c1c1c" stroke-width="1.00"/>
<polygon points="159.67,758.33 162.27,763.23 157.07,763.23" fill="#1c1c1c"/>
<line x1="216.50" y1="760.78" x2="216.50" y2="780.61" stroke="#1c1c1c" stroke-width="1.00"/>
<line x1="213.90" y1="760.50" x2="218.50" y2="760.50" stroke="#1c1c1c" stroke-width="1.00"/>
<line x1="213.90" y1="780.50" x2="218.50" y2="780.50" stroke="#1c1c1c" stroke-width="1.00"/>
<polygon points="216.20,768.86 218.80,773.76 213.60,773.76" fill="#1c1c1c"/>
<polygon points="74.87,742.98 77.47,738.08 72.27,738.08" fill="#1c1c1c"/>
<line x1="103.50" y1="745.70" x2="103.50" y2="755.20" stroke="#1c1c1c" stroke-width="1.00"/>
<line x1="100.83" y1="745.50" x2="105.43" y2="745.50" stroke="#1c1c1c" stroke-width="1.00"/>
<line x1="100.83" y1="755.50" x2="105.43" y2="755.50" stroke="#1c1c1c" stroke-width="1.00"/>
<polygon points="103.13,752.90 105.73,748.00 100.53,748.00" fill="#1c1c1c"/>
<line x1="159.50" y1="773.79" x2="159.50" y2="800.03" stroke="#1c1c1c" stroke-width="1.00"/>
<line x1="157.37" y1="773.50" x2="161.97" y2="773.50" stroke="#1c1c1c" stroke-width="1.00"/>
<line x1="157.37" y1="800.50" x2="161.97" y2="800.50" stroke="#1c1c1c" stroke-width="1.00"/>
<polygon points="159.67,788.43 162.27,783.53 157.07,783.53" fill="#1c1c1c"/>
<line x1="216.50" y1="796.31" x2="216.50" y2="827.10" stroke="#1c1c1c" stroke-width="1.00"/>
<line x1="213.90" y1="796.50" x2="218.50" y2="796.50" stroke="#1c1c1c" stroke-width="1.00"/>
<line x1="213.90" y1="827.50" x2="218.50" y2="827.50" stroke="#1c1c1c" stroke-width="1.00"/>
<polygon points="216.20,813.22 218.80,808.32 213.60,808.32" fill="#1c1c1c"/>
<polygon points="196.10,753.15 198.70,758.05 193.50,758.05" fill="#1c1c1c"/>
<text transform="translate(203.75,758.80) scale(1.127,1)" font-size="10.58" fill="#1c1c1c">E36A</text>
<polygon points="196.10,790.35 198.70,785.45 193.50,785.45" fill="#1c1c1c"/>
<text transform="translate(203.75,791.30) scale(1.154,1)" font-size="10.29" fill="#1c1c1c">E36D</text>
<rect x="192.70" y="913.20" width="4.60" height="4.60" fill="#1c1c1c"/>
<text transform="translate(204.85,919.60) scale(0.985,1)" font-size="11.01" fill="#1c1c1c">WT</text>
<line x1="314.50" y1="711.50" x2="314.50" y2="958.00" stroke="#1c1c1c" stroke-width="1.10"/>
<line x1="314.00" y1="957.50" x2="486.70" y2="957.50" stroke="#1c1c1c" stroke-width="1.10"/>
<line x1="312.00" y1="957.50" x2="314.50" y2="957.50" stroke="#1c1c1c" stroke-width="1.00"/>
<text transform="translate(303.89,961.20) scale(1.130,1)" font-size="10.40" fill="#1c1c1c">0</text>
<line x1="312.00" y1="916.50" x2="314.50" y2="916.50" stroke="#1c1c1c" stroke-width="1.00"/>
<text transform="translate(290.84,920.28) scale(1.130,1)" font-size="10.40" fill="#1c1c1c">100</text>
<line x1="312.00" y1="875.50" x2="314.50" y2="875.50" stroke="#1c1c1c" stroke-width="1.00"/>
<text transform="translate(290.84,879.37) scale(1.130,1)" font-size="10.40" fill="#1c1c1c">200</text>
<line x1="312.00" y1="834.50" x2="314.50" y2="834.50" stroke="#1c1c1c" stroke-width="1.00"/>
<text transform="translate(290.84,838.45) scale(1.130,1)" font-size="10.40" fill="#1c1c1c">300</text>
<line x1="312.00" y1="793.50" x2="314.50" y2="793.50" stroke="#1c1c1c" stroke-width="1.00"/>
<text transform="translate(290.84,797.53) scale(1.130,1)" font-size="10.40" fill="#1c1c1c">400</text>
<line x1="312.00" y1="752.50" x2="314.50" y2="752.50" stroke="#1c1c1c" stroke-width="1.00"/>
<text transform="translate(290.84,756.62) scale(1.130,1)" font-size="10.40" fill="#1c1c1c">500</text>
<line x1="312.00" y1="712.50" x2="314.50" y2="712.50" stroke="#1c1c1c" stroke-width="1.00"/>
<text transform="translate(290.84,715.70) scale(1.130,1)" font-size="10.40" fill="#1c1c1c">600</text>
<line x1="314.50" y1="957.50" x2="314.50" y2="960.00" stroke="#1c1c1c" stroke-width="1.00"/>
<text transform="translate(311.21,971.50) scale(1.130,1)" font-size="10.40" fill="#1c1c1c">0</text>
<line x1="343.50" y1="957.50" x2="343.50" y2="960.00" stroke="#1c1c1c" stroke-width="1.00"/>
<text transform="translate(339.86,971.50) scale(1.130,1)" font-size="10.40" fill="#1c1c1c">5</text>
<line x1="371.50" y1="957.50" x2="371.50" y2="960.00" stroke="#1c1c1c" stroke-width="1.00"/>
<text transform="translate(364.98,971.50) scale(1.130,1)" font-size="10.40" fill="#1c1c1c">10</text>
<line x1="400.50" y1="957.50" x2="400.50" y2="960.00" stroke="#1c1c1c" stroke-width="1.00"/>
<text transform="translate(393.62,971.50) scale(1.130,1)" font-size="10.40" fill="#1c1c1c">15</text>
<line x1="428.50" y1="957.50" x2="428.50" y2="960.00" stroke="#1c1c1c" stroke-width="1.00"/>
<text transform="translate(422.36,971.50) scale(1.130,1)" font-size="10.40" fill="#1c1c1c">20</text>
<line x1="457.50" y1="957.50" x2="457.50" y2="960.00" stroke="#1c1c1c" stroke-width="1.00"/>
<text transform="translate(451.00,971.50) scale(1.130,1)" font-size="10.40" fill="#1c1c1c">25</text>
<line x1="486.50" y1="957.50" x2="486.50" y2="960.00" stroke="#1c1c1c" stroke-width="1.00"/>
<text transform="translate(479.65,971.50) scale(1.130,1)" font-size="10.40" fill="#1c1c1c">30</text>
<text transform="translate(368.44,988.00) scale(1.069,1)" font-size="12.32" fill="#1c1c1c">Time (min)</text>
<text transform="translate(284.90,869.74) rotate(-90) scale(1.255,1)" font-size="10.34" fill="#1c1c1c">nM Thrombin</text>
<line x1="360.00" y1="743.50" x2="372.10" y2="743.50" stroke="#333" stroke-width="1.00"/>
<text transform="translate(373.80,747.70) scale(0.962,1)" font-size="11.74" fill="#1c1c1c">No protein S</text>
<line x1="365.00" y1="770.50" x2="376.90" y2="770.50" stroke="#1c1c1c" stroke-width="1.00" stroke-dasharray="1,1"/>
<text transform="translate(379.58,773.80) scale(1.184,1)" font-size="9.71" fill="#1c1c1c">E36A</text>
<line x1="430.00" y1="946.50" x2="441.25" y2="946.50" stroke="#1c1c1c" stroke-width="0.90" stroke-dasharray="2.2,1.6"/>
<text transform="translate(445.16,950.50) scale(0.925,1)" font-size="8.70" fill="#1c1c1c">WT</text>
<polyline points="314.5,957.5 315.1,957.5 315.6,957.5 316.2,957.5 316.8,957.5 317.4,957.5 317.9,957.5 318.5,957.5 319.1,957.5 319.7,957.5 320.2,957.5 320.8,957.5 321.4,957.5 321.9,957.5 322.5,957.5 323.1,957.5 323.7,957.5 324.2,957.5 324.8,957.5 325.4,957.5 325.9,957.5 326.5,957.5 327.1,957.5 327.7,957.5 328.2,957.5 328.8,957.5 329.4,957.5 330.0,957.5 330.5,957.5 331.1,957.5 331.7,957.5 332.2,957.5 332.8,957.5 333.4,957.5 334.0,957.5 334.5,957.5 335.1,957.5 335.7,957.4 336.2,957.4 336.8,957.3 337.4,957.2 338.0,956.9 338.5,956.6 339.1,956.1 339.7,955.3 340.3,954.2 340.8,952.5 341.4,950.2 342.0,947.1 342.5,942.9 343.1,937.5 343.7,930.5 344.3,921.8 344.8,911.3 345.4,898.9 346.0,884.7 346.6,868.7 347.1,851.4 347.7,833.3 348.3,814.9 348.8,797.0 349.4,780.5 350.0,766.1 350.6,754.7 351.1,746.9 351.7,743.0 351.9,742.7 352.3,746.6 352.8,753.6 353.4,760.6 354.0,767.7 354.6,774.6 355.1,781.3 355.7,787.9 356.3,794.3 356.9,800.6 357.4,806.6 358.0,812.4 358.6,818.1 359.1,823.6 359.7,828.8 360.3,836.0 360.9,838.4 361.4,840.9 362.0,843.3 362.6,845.5 363.1,847.7 363.7,853.6 364.3,859.3 364.9,864.1 365.4,868.3 366.0,872.3 366.6,876.0 367.2,879.5 367.7,884.7 368.3,891.3 368.9,897.5 369.4,896.4 370.0,895.5 370.6,896.7 371.2,900.0 371.7,903.3 372.3,906.8 372.9,910.1 373.5,912.0 374.0,912.6 374.6,913.3 375.2,917.4 375.7,921.3 376.3,922.3 376.9,920.9 377.5,919.6 378.0,919.2 378.6,918.7 379.2,920.2 379.7,923.8 380.3,927.3 380.9,929.8 381.5,932.2 382.0,933.5 382.6,933.7 383.2,933.9 383.8,934.8 384.3,935.6 384.9,935.7 385.5,935.0 386.0,934.2 386.6,936.1 387.2,938.0 387.8,939.7 388.3,941.4 388.9,943.0 389.5,943.7 390.0,944.3 390.6,944.6 391.2,944.7 391.8,944.8 392.3,945.3 392.9,945.8 393.5,946.7 394.1,948.0 394.6,949.3 395.2,948.7 395.8,948.2 396.3,948.0 396.9,948.2 397.5,948.4 398.1,949.4 398.6,950.3 399.2,951.1 399.8,951.7 400.4,952.2 400.9,951.3 401.5,950.4 402.1,950.5 402.6,951.5 403.2,952.5 403.8,952.9 404.4,953.3 404.9,953.4 405.5,953.1 406.1,952.9 406.6,953.1 407.2,953.3 407.8,953.6 408.4,953.9 408.9,954.2 409.5,954.3 410.1,954.4 410.7,954.0 411.2,953.1 411.8,952.2 412.4,952.7 412.9,953.2 413.5,953.3 414.1,952.9 414.7,952.5 415.2,953.8 415.8,955.0 416.4,955.4 416.9,954.8 417.5,954.1 418.1,954.4 418.7,954.7 419.2,954.6 419.8,954.1 420.4,953.6 421.0,954.7 421.5,955.9 422.1,956.2 422.7,955.6 423.2,955.0 423.8,954.3 424.4,953.5 425.0,953.4 425.5,954.0 426.1,954.5 426.7,955.3 427.2,956.1 427.8,956.6 428.4,956.7 429.0,956.8 429.5,956.2 430.1,955.5 430.7,955.5 431.3,956.1 431.8,956.7 432.4,956.5 433.0,956.3 433.5,956.1 434.1,955.8 434.7,955.6 435.3,956.1 435.8,956.5 436.4,956.5 437.0,956.0 437.6,955.4 438.1,954.3 438.7,953.2 439.3,953.4 439.8,954.8 440.4,956.2 441.0,955.6 441.6,955.1 442.1,955.1 442.7,955.6 443.3,956.0 443.8,956.4 444.4,956.7 445.0,956.5 445.6,955.9 446.1,955.3 446.7,955.6 447.3,955.9 447.9,956.0 448.4,955.7 449.0,955.5 449.6,956.0 450.1,956.5 450.7,956.7 451.3,956.7 451.9,956.6 452.4,956.9 453.0,957.1 453.6,956.6 454.1,955.3 454.7,954.1 455.3,955.0 455.9,956.0 456.4,956.5 457.0,956.7 457.6,956.9 458.2,957.0 458.7,957.1 459.3,957.1 459.9,957.1 460.4,957.1 461.0,956.5 461.6,955.9 462.2,955.9 462.7,956.5 463.3,957.2 463.9,957.0 464.5,956.9 465.0,956.6 465.6,956.3 466.2,956.0 466.7,956.2 467.3,956.3 467.9,956.5 468.5,956.7 469.0,956.9 469.6,956.7 470.2,956.5 470.7,955.6 471.3,954.1 471.9,952.5 472.5,954.4 473.0,956.3 473.6,957.0 474.2,956.5 474.8,955.9 475.3,956.4 475.9,956.8 476.5,957.0 477.0,957.1 477.6,957.2 478.2,956.8 478.8,956.3 479.3,956.0 479.9,955.8 480.5,955.5 481.0,956.2 481.6,956.9 482.2,956.3 482.8,954.5 483.3,952.7 483.9,954.6 484.5,956.4 485.1,957.3 485.6,957.1 486.2,957.0" fill="none" stroke="#1c1c1c" stroke-width="1.00" stroke-linejoin="round"/>
<polyline points="314.5,957.5 315.1,957.5 315.6,957.5 316.2,957.5 316.8,957.5 317.4,957.5 317.9,957.5 318.5,957.5 319.1,957.5 319.7,957.5 320.2,957.5 320.8,957.5 321.4,957.5 321.9,957.5 322.5,957.5 323.1,957.5 323.7,957.5 324.2,957.5 324.8,957.5 325.4,957.5 325.9,957.5 326.5,957.5 327.1,957.5 327.7,957.5 328.2,957.5 328.8,957.5 329.4,957.5 330.0,957.5 330.5,957.5 331.1,957.5 331.7,957.5 332.2,957.5 332.8,957.5 333.4,957.5 334.0,957.5 334.5,957.5 335.1,957.5 335.7,957.5 336.2,957.5 336.8,957.5 337.4,957.5 338.0,957.5 338.5,957.4 339.1,957.4 339.7,957.3 340.3,957.1 340.8,956.8 341.4,956.4 342.0,955.7 342.5,954.7 343.1,953.3 343.7,951.2 344.3,948.4 344.8,944.7 345.4,939.7 346.0,933.5 346.6,925.8 347.1,916.5 347.7,905.6 348.3,893.1 348.8,879.4 349.4,864.8 350.0,849.5 350.6,834.3 351.1,819.7 351.7,806.2 352.3,794.4 352.8,784.9 353.4,777.9 354.0,773.5 354.6,771.8 354.7,771.7 355.1,774.8 355.7,779.9 356.3,785.3 356.9,790.7 357.4,796.2 358.0,801.6 358.6,806.9 359.1,812.2 359.7,817.3 360.3,822.3 360.9,827.2 361.4,832.0 362.0,836.6 362.6,841.1 363.1,845.5 363.7,849.8 364.3,853.9 364.9,857.9 365.4,861.8 366.0,865.5 366.6,869.1 367.2,872.6 367.7,876.0 368.3,879.2 368.9,882.4 369.4,885.4 370.0,888.3 370.6,891.1 371.2,893.8 371.7,896.4 372.3,899.0 372.9,901.4 373.5,903.7 374.0,905.9 374.6,908.1 375.2,910.2 375.7,912.2 376.3,914.1 376.9,915.9 377.5,917.7 378.0,919.4 378.6,921.0 379.2,922.6 379.7,924.1 380.3,925.5 380.9,926.9 381.5,928.2 382.0,929.5 382.6,930.7 383.2,931.9 383.8,933.0 384.3,934.1 384.9,935.1 385.5,936.1 386.0,937.0 386.6,937.9 387.2,938.8 387.8,939.6 388.3,940.4 388.9,941.2 389.5,941.9 390.0,942.6 390.6,943.3 391.2,943.9 391.8,944.5 392.3,945.1 392.9,945.7 393.5,946.2 394.1,946.7 394.6,947.2 395.2,947.7 395.8,948.1 396.3,948.5 396.9,949.0 397.5,949.3 398.1,949.7 398.6,950.1 399.2,950.4 399.8,950.7 400.4,951.1 400.9,951.4 401.5,951.6 402.1,951.9 402.6,952.2 403.2,952.4 403.8,952.7 404.4,952.9 404.9,953.1 405.5,953.3 406.1,953.5 406.6,953.7 407.2,953.9 407.8,954.0 408.4,954.2 408.9,954.4 409.5,954.5 410.1,954.6 410.7,954.8 411.2,954.9 411.8,955.0 412.4,955.1 412.9,955.3 413.5,955.4 414.1,955.5 414.7,955.6 415.2,955.7 415.8,955.7 416.4,955.8 416.9,955.9 417.5,956.0 418.1,956.1 418.7,956.1 419.2,956.2 419.8,956.3 420.4,956.3 421.0,956.4 421.5,956.4 422.1,956.5 422.7,956.5 423.2,956.6 423.8,956.6 424.4,956.7 425.0,956.7 425.5,956.7 426.1,956.8 426.7,956.8 427.2,956.8 427.8,956.9 428.4,956.9 429.0,956.9 429.5,957.0 430.1,957.0 430.7,957.0 431.3,957.0 431.8,957.1 432.4,957.1 433.0,957.1 433.5,957.1 434.1,957.1 434.7,957.2 435.3,957.2 435.8,957.2 436.4,957.2 437.0,957.2 437.6,957.2 438.1,957.2 438.7,957.3 439.3,957.3 439.8,957.3 440.4,957.3 441.0,957.3 441.6,957.3 442.1,957.3 442.7,957.3 443.3,957.3 443.8,957.3 444.4,957.4 445.0,957.4 445.6,957.4 446.1,957.4 446.7,957.4 447.3,957.4 447.9,957.4 448.4,957.4 449.0,957.4 449.6,957.4 450.1,957.4 450.7,957.4 451.3,957.4 451.9,957.4 452.4,957.4 453.0,957.4 453.6,957.4 454.1,957.4 454.7,957.4 455.3,957.4 455.9,957.4 456.4,957.5 457.0,957.5 457.6,957.5 458.2,957.5 458.7,957.5 459.3,957.5 459.9,957.5 460.4,957.5 461.0,957.5 461.6,957.5 462.2,957.5 462.7,957.5 463.3,957.5 463.9,957.5 464.5,957.5 465.0,957.5 465.6,957.5 466.2,957.5 466.7,957.5 467.3,957.5 467.9,957.5 468.5,957.5 469.0,957.5 469.6,957.5 470.2,957.5 470.7,957.5 471.3,957.5 471.9,957.5 472.5,957.5 473.0,957.5 473.6,957.5 474.2,957.5 474.8,957.5 475.3,957.5 475.9,957.5 476.5,957.5 477.0,957.5 477.6,957.5 478.2,957.5 478.8,957.5 479.3,957.5 479.9,957.5 480.5,957.5 481.0,957.5 481.6,957.5 482.2,957.5 482.8,957.5 483.3,957.5 483.9,957.5 484.5,957.5 485.1,957.5 485.6,957.5 486.2,957.5" fill="none" stroke="#1c1c1c" stroke-width="0.90" stroke-linejoin="round" stroke-dasharray="1.1,1.1"/>
<polyline points="314.5,957.5 315.1,957.5 315.6,957.5 316.2,957.5 316.8,957.5 317.4,957.5 317.9,957.5 318.5,957.5 319.1,957.5 319.7,957.5 320.2,957.5 320.8,957.5 321.4,957.5 321.9,957.5 322.5,957.5 323.1,957.5 323.7,957.5 324.2,957.5 324.8,957.5 325.4,957.5 325.9,957.5 326.5,957.5 327.1,957.5 327.7,957.5 328.2,957.5 328.8,957.5 329.4,957.5 330.0,957.5 330.5,957.5 331.1,957.5 331.7,957.5 332.2,957.5 332.8,957.5 333.4,957.5 334.0,957.5 334.5,957.5 335.1,957.5 335.7,957.5 336.2,957.5 336.8,957.5 337.4,957.5 338.0,957.5 338.5,957.5 339.1,957.5 339.7,957.4 340.3,957.4 340.8,957.4 341.4,957.4 342.0,957.4 342.5,957.4 343.1,957.4 343.7,957.4 344.3,957.4 344.8,957.3 345.4,957.3 346.0,957.3 346.6,957.3 347.1,957.3 347.7,957.2 348.3,957.2 348.8,957.2 349.4,957.1 350.0,957.1 350.6,957.1 351.1,957.0 351.7,957.0 352.3,956.9 352.8,956.9 353.4,956.8 354.0,956.8 354.6,956.7 355.1,956.6 355.7,956.6 356.3,956.5 356.9,956.4 357.4,956.3 358.0,956.3 358.6,956.2 359.1,956.1 359.7,956.0 360.3,955.9 360.9,955.8 361.4,955.7 362.0,955.6 362.6,955.5 363.1,955.4 363.7,955.3 364.3,955.2 364.9,955.1 365.4,954.9 366.0,954.8 366.6,954.7 367.2,954.6 367.7,954.5 368.3,954.4 368.9,954.3 369.4,954.2 370.0,954.1 370.6,954.0 371.2,953.9 371.7,953.9 372.3,953.8 372.9,953.7 373.5,953.7 374.0,953.6 374.6,953.5 375.2,953.5 375.7,953.5 376.3,953.4 376.9,953.4 377.5,953.4 378.0,953.4 378.6,953.4 379.2,953.4 379.7,953.4 380.3,953.5 380.9,953.5 381.5,953.5 382.0,953.5 382.6,953.6 383.2,953.6 383.8,953.6 384.3,953.7 384.9,953.7 385.5,953.8 386.0,953.8 386.6,953.9 387.2,953.9 387.8,954.0 388.3,954.0 388.9,954.1 389.5,954.1 390.0,954.2 390.6,954.2 391.2,954.3 391.8,954.4 392.3,954.4 392.9,954.5 393.5,954.6 394.1,954.6 394.6,954.7 395.2,954.8 395.8,954.8 396.3,954.9 396.9,955.0 397.5,955.0 398.1,955.1 398.6,955.1 399.2,955.2 399.8,955.3 400.4,955.3 400.9,955.4 401.5,955.5 402.1,955.5 402.6,955.6 403.2,955.7 403.8,955.7 404.4,955.8 404.9,955.8 405.5,955.9 406.1,955.9 406.6,956.0 407.2,956.0 407.8,956.1 408.4,956.2 408.9,956.2 409.5,956.3 410.1,956.3 410.7,956.3 411.2,956.4 411.8,956.4 412.4,956.5 412.9,956.5 413.5,956.6 414.1,956.6 414.7,956.6 415.2,956.7 415.8,956.7 416.4,956.7 416.9,956.8 417.5,956.8 418.1,956.8 418.7,956.9 419.2,956.9 419.8,956.9 420.4,957.0 421.0,957.0 421.5,957.0 422.1,957.0 422.7,957.1 423.2,957.1 423.8,957.1 424.4,957.1 425.0,957.1 425.5,957.2 426.1,957.2 426.7,957.2 427.2,957.2 427.8,957.2 428.4,957.2 429.0,957.3 429.5,957.3 430.1,957.3 430.7,957.3 431.3,957.3 431.8,957.3 432.4,957.3 433.0,957.3 433.5,957.3 434.1,957.4 434.7,957.4 435.3,957.4 435.8,957.4 436.4,957.4 437.0,957.4 437.6,957.4 438.1,957.4 438.7,957.4 439.3,957.4 439.8,957.4 440.4,957.4 441.0,957.4 441.6,957.4 442.1,957.4 442.7,957.4 443.3,957.5 443.8,957.5 444.4,957.5 445.0,957.5 445.6,957.5 446.1,957.5 446.7,957.5 447.3,957.5 447.9,957.5 448.4,957.5 449.0,957.5 449.6,957.5 450.1,957.5 450.7,957.5 451.3,957.5 451.9,957.5 452.4,957.5 453.0,957.5 453.6,957.5 454.1,957.5 454.7,957.5 455.3,957.5 455.9,957.5 456.4,957.5 457.0,957.5 457.6,957.5 458.2,957.5 458.7,957.5 459.3,957.5 459.9,957.5 460.4,957.5 461.0,957.5 461.6,957.5 462.2,957.5 462.7,957.5 463.3,957.5 463.9,957.5 464.5,957.5 465.0,957.5 465.6,957.5 466.2,957.5 466.7,957.5 467.3,957.5 467.9,957.5 468.5,957.5 469.0,957.5 469.6,957.5 470.2,957.5 470.7,957.5 471.3,957.5 471.9,957.5 472.5,957.5 473.0,957.5 473.6,957.5 474.2,957.5 474.8,957.5 475.3,957.5 475.9,957.5 476.5,957.5 477.0,957.5 477.6,957.5 478.2,957.5 478.8,957.5 479.3,957.5 479.9,957.5 480.5,957.5 481.0,957.5 481.6,957.5 482.2,957.5 482.8,957.5 483.3,957.5 483.9,957.5 484.5,957.5 485.1,957.5 485.6,957.5 486.2,957.5" fill="none" stroke="#1c1c1c" stroke-width="0.90" stroke-linejoin="round" stroke-dasharray="2.2,1.6"/>
<defs><filter id="bl" x="-20%" y="-50%" width="140%" height="200%"><feGaussianBlur stdDeviation="0.8 0.8"/></filter></defs>
<filter id="bl2" x="-20%" y="-100%" width="140%" height="300%"><feGaussianBlur stdDeviation="1.5 2.5"/></filter>
<path d="M423.6,835.6 L439.4,835.6 L439.4,840.6 L423.6,840.6 Z" fill="#888" filter="url(#bl2)" opacity="0.35"/>
<path d="M422.3,827.2 Q431.5,832.4 440.7,827.2 L440.7,835.3 Q431.5,834.9 422.3,835.3 Z" fill="#080808" filter="url(#bl)"/>
<path d="M447.5,833.9 L461.1,833.9 L461.1,838.9 L447.5,838.9 Z" fill="#888" filter="url(#bl2)" opacity="0.35"/>
<path d="M446.2,825.8 Q454.3,830.4 462.4,825.8 L462.4,835.5 Q454.3,831.3 446.2,835.5 Z" fill="#080808" filter="url(#bl)"/>
<path d="M469.1,832.5 L482.1,832.5 L482.1,837.5 L469.1,837.5 Z" fill="#888" filter="url(#bl2)" opacity="0.35"/>
<path d="M467.8,825.1 Q475.6,829.1 483.4,825.1 L483.4,834.1 Q475.6,829.9 467.8,834.1 Z" fill="#080808" filter="url(#bl)"/>
<path d="M489.3,833.6 L504.2,833.6 L504.2,838.6 L489.3,838.6 Z" fill="#888" filter="url(#bl2)" opacity="0.35"/>
<path d="M488.0,825.3 Q496.8,828.9 505.5,825.3 L505.5,834.7 Q496.8,831.5 488.0,834.7 Z" fill="#080808" filter="url(#bl)"/>
<text transform="translate(381.29,804.20) scale(1.049,1)" font-size="8.41" fill="#1c1c1c">MW (kDa)</text>
<text transform="translate(394.31,813.90) scale(1.050,1)" font-size="8.00" fill="#1c1c1c">160</text>
<line x1="410.60" y1="811.50" x2="420.00" y2="811.50" stroke="#555" stroke-width="0.90"/>
<text transform="translate(394.90,825.50) scale(1.050,1)" font-size="8.00" fill="#1c1c1c">110</text>
<line x1="410.60" y1="822.50" x2="420.00" y2="822.50" stroke="#555" stroke-width="0.90"/>
<text transform="translate(398.97,831.50) scale(1.050,1)" font-size="8.00" fill="#1c1c1c">80</text>
<line x1="410.60" y1="828.50" x2="420.00" y2="828.50" stroke="#555" stroke-width="0.90"/>
<text transform="translate(398.97,843.00) scale(1.050,1)" font-size="8.00" fill="#1c1c1c">60</text>
<line x1="410.60" y1="840.50" x2="420.00" y2="840.50" stroke="#555" stroke-width="0.90"/>
<text transform="translate(398.97,853.30) scale(1.050,1)" font-size="8.00" fill="#1c1c1c">50</text>
<line x1="410.60" y1="850.50" x2="420.00" y2="850.50" stroke="#555" stroke-width="0.90"/>
<text transform="translate(398.97,858.90) scale(1.050,1)" font-size="8.00" fill="#1c1c1c">40</text>
<line x1="410.60" y1="856.50" x2="420.00" y2="856.50" stroke="#555" stroke-width="0.90"/>
<text transform="translate(398.97,867.40) scale(1.050,1)" font-size="8.00" fill="#1c1c1c">30</text>
<line x1="410.60" y1="864.50" x2="420.00" y2="864.50" stroke="#555" stroke-width="0.90"/>
<text transform="translate(398.97,882.20) scale(1.050,1)" font-size="8.00" fill="#1c1c1c">20</text>
<line x1="410.60" y1="879.50" x2="420.00" y2="879.50" stroke="#555" stroke-width="0.90"/>
<text transform="translate(399.01,904.70) scale(1.050,1)" font-size="8.00" fill="#1c1c1c">15</text>
<line x1="410.60" y1="901.50" x2="420.00" y2="901.50" stroke="#555" stroke-width="0.90"/>
<text transform="translate(398.97,913.20) scale(1.050,1)" font-size="8.00" fill="#1c1c1c">10</text>
<line x1="410.60" y1="910.50" x2="420.00" y2="910.50" stroke="#555" stroke-width="0.90"/>
<line x1="423.50" y1="799.50" x2="462.50" y2="799.50" stroke="#1c1c1c" stroke-width="0.80"/>
<line x1="467.90" y1="799.50" x2="507.50" y2="799.50" stroke="#1c1c1c" stroke-width="0.80"/>
<polygon points="422.5,799.3 425.5,797.8 425.5,800.8" fill="#1c1c1c"/>
<polygon points="463.5,799.3 460.5,797.8 460.5,800.8" fill="#1c1c1c"/>
<polygon points="466.9,799.3 469.9,797.8 469.9,800.8" fill="#1c1c1c"/>
<polygon points="508.5,799.3 505.5,797.8 505.5,800.8" fill="#1c1c1c"/>
<line x1="464.50" y1="785.75" x2="464.50" y2="799.30" stroke="#1c1c1c" stroke-width="1.00"/>
<text transform="translate(440.85,798.30) scale(1.000,1)" font-size="6.50" fill="#1c1c1c">R</text>
<text transform="translate(482.31,798.30) scale(1.000,1)" font-size="6.50" fill="#1c1c1c">NR</text>
<text transform="translate(436.60,785.00) rotate(-45)" font-size="8.5" text-anchor="middle" fill="#1c1c1c">WT</text>
<text transform="translate(462.60,782.40) rotate(-45)" font-size="8.5" text-anchor="middle" fill="#1c1c1c">E36A</text>
<text transform="translate(480.60,785.00) rotate(-45)" font-size="8.5" text-anchor="middle" fill="#1c1c1c">WT</text>
<text transform="translate(505.40,782.40) rotate(-45)" font-size="8.5" text-anchor="middle" fill="#1c1c1c">E36A</text>
</svg></body></html>
